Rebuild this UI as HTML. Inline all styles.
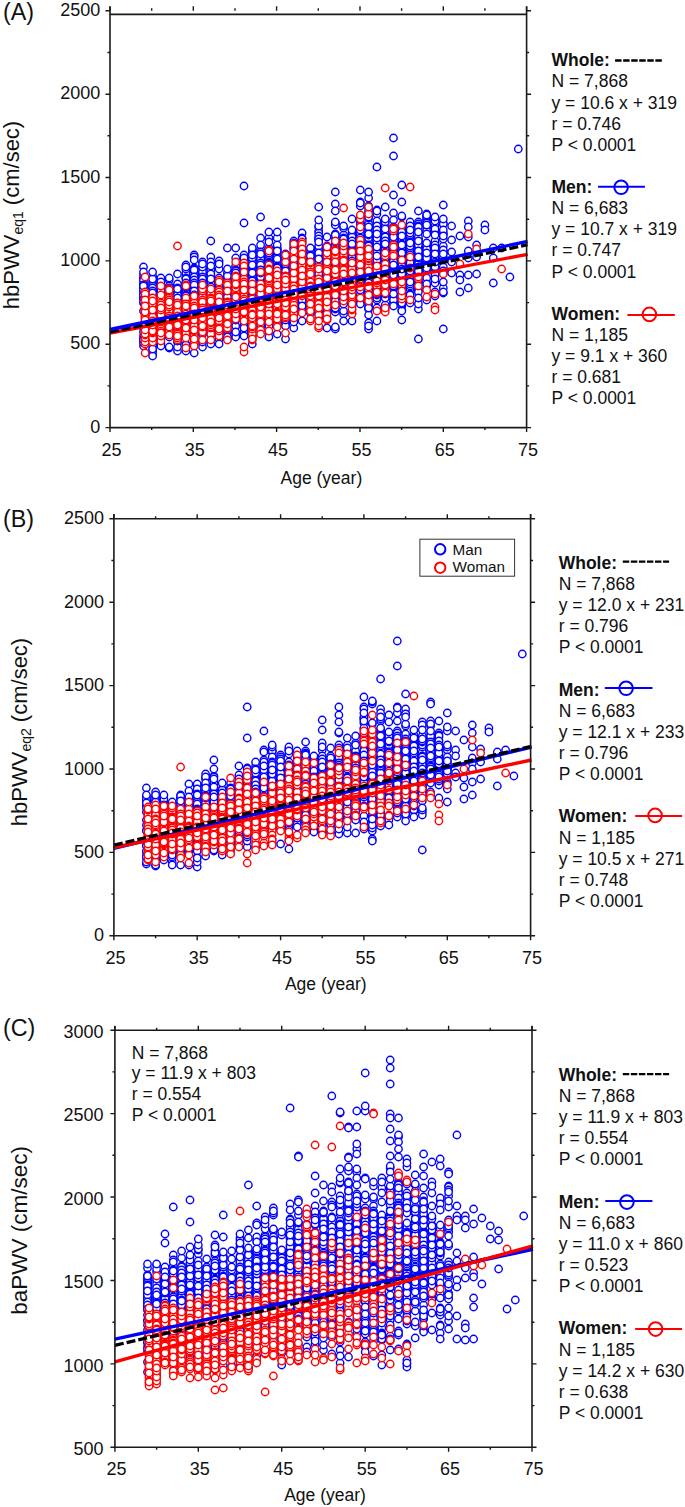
<!DOCTYPE html>
<html><head><meta charset="utf-8"><style>
html,body{margin:0;padding:0;background:#fff;}
svg{display:block;}
text{font-family:"Liberation Sans",sans-serif;fill:#111;}
.ax{fill:none;stroke:#1a1a1a;stroke-width:1.6;}
.tk{fill:none;stroke:#1a1a1a;stroke-width:1.4;}
.tl{font-size:18px;}
.xl{font-size:17.5px;}
.pl{font-size:23.3px;}
.yl{font-size:22px;}
.sub{font-size:14px;}
.lg{font-size:17.5px;}
.lgb{font-size:17.5px;font-weight:bold;}
.lgs{font-size:15.3px;}
.rl{stroke:#f00;stroke-width:3.4;fill:none}
.bl{stroke:#00f;stroke-width:3.4;fill:none}
.kl{stroke:#000;stroke-width:3.3;fill:none;stroke-dasharray:9 3}
.m circle,.w circle{fill:#fff;stroke-width:1.4;r:3.7px;}
.m circle{stroke:#00f} .w circle{stroke:#f00}
</style></head><body>
<svg width="685" height="1507" viewBox="0 0 685 1507">
<g id="plotA">
<g class="m"><g transform="translate(143.5)"><circle cy="336" r="3.7"/><circle cy="288" r="3.7"/><circle cy="267" r="3.7"/><circle cy="284" r="3.7"/><circle cy="291" r="3.7"/><circle cy="339" r="3.7"/><circle cy="298" r="3.7"/><circle cy="278" r="3.7"/><circle cy="275" r="3.7"/><circle cy="279" r="3.7"/><circle cy="283" r="3.7"/><circle cy="289" r="3.7"/><circle cy="280" r="3.7"/><circle cy="297" r="3.7"/><circle cy="346" r="3.7"/><circle cy="272" r="3.7"/><circle cy="328" r="3.7"/><circle cy="293" r="3.7"/><circle cy="285" r="3.7"/><circle cy="299" r="3.7"/><circle cy="341" r="3.7"/><circle cy="295" r="3.7"/><circle cy="303" r="3.7"/><circle cy="332" r="3.7"/><circle cy="343" r="3.7"/><circle cy="311" r="3.7"/><circle cy="327" r="3.7"/><circle cy="290" r="3.7"/><circle cy="340" r="3.7"/><circle cy="286" r="3.7"/><circle cy="302" r="3.7"/></g><g transform="translate(152.6)"><circle cy="339" r="3.7"/><circle cy="287" r="3.7"/><circle cy="350" r="3.7"/><circle cy="289" r="3.7"/><circle cy="290" r="3.7"/><circle cy="341" r="3.7"/><circle cy="282" r="3.7"/><circle cy="315" r="3.7"/><circle cy="345" r="3.7"/><circle cy="284" r="3.7"/><circle cy="292" r="3.7"/><circle cy="300" r="3.7"/><circle cy="319" r="3.7"/><circle cy="286" r="3.7"/><circle cy="346" r="3.7"/><circle cy="335" r="3.7"/><circle cy="354" r="3.7"/><circle cy="313" r="3.7"/><circle cy="288" r="3.7"/><circle cy="295" r="3.7"/><circle cy="277" r="3.7"/><circle cy="307" r="3.7"/><circle cy="276" r="3.7"/><circle cy="279" r="3.7"/><circle cy="351" r="3.7"/><circle cy="314" r="3.7"/><circle cy="291" r="3.7"/><circle cy="312" r="3.7"/><circle cy="309" r="3.7"/><circle cy="340" r="3.7"/><circle cy="356" r="3.7"/><circle cy="349" r="3.7"/><circle cy="297" r="3.7"/><circle cy="299" r="3.7"/><circle cy="329" r="3.7"/><circle cy="293" r="3.7"/><circle cy="302" r="3.7"/><circle cy="311" r="3.7"/><circle cy="272" r="3.7"/></g><g transform="translate(160.9)"><circle cy="293" r="3.7"/><circle cy="343" r="3.7"/><circle cy="338" r="3.7"/><circle cy="289" r="3.7"/><circle cy="311" r="3.7"/><circle cy="345" r="3.7"/><circle cy="334" r="3.7"/><circle cy="292" r="3.7"/><circle cy="284" r="3.7"/><circle cy="300" r="3.7"/><circle cy="335" r="3.7"/><circle cy="313" r="3.7"/><circle cy="297" r="3.7"/><circle cy="346" r="3.7"/><circle cy="290" r="3.7"/><circle cy="287" r="3.7"/><circle cy="329" r="3.7"/><circle cy="294" r="3.7"/><circle cy="320" r="3.7"/><circle cy="288" r="3.7"/><circle cy="291" r="3.7"/><circle cy="318" r="3.7"/><circle cy="323" r="3.7"/><circle cy="278" r="3.7"/><circle cy="316" r="3.7"/><circle cy="330" r="3.7"/><circle cy="298" r="3.7"/><circle cy="282" r="3.7"/><circle cy="302" r="3.7"/><circle cy="304" r="3.7"/></g><g transform="translate(169.2)"><circle cy="348" r="3.7"/><circle cy="280" r="3.7"/><circle cy="313" r="3.7"/><circle cy="292" r="3.7"/><circle cy="333" r="3.7"/><circle cy="287" r="3.7"/><circle cy="296" r="3.7"/><circle cy="304" r="3.7"/><circle cy="286" r="3.7"/><circle cy="337" r="3.7"/><circle cy="331" r="3.7"/><circle cy="299" r="3.7"/><circle cy="329" r="3.7"/><circle cy="347" r="3.7"/><circle cy="294" r="3.7"/><circle cy="293" r="3.7"/><circle cy="324" r="3.7"/><circle cy="306" r="3.7"/><circle cy="288" r="3.7"/><circle cy="278" r="3.7"/><circle cy="309" r="3.7"/><circle cy="334" r="3.7"/><circle cy="328" r="3.7"/><circle cy="325" r="3.7"/><circle cy="330" r="3.7"/></g><g transform="translate(177.5)"><circle cy="293" r="3.7"/><circle cy="342" r="3.7"/><circle cy="351" r="3.7"/><circle cy="296" r="3.7"/><circle cy="306" r="3.7"/><circle cy="285" r="3.7"/><circle cy="335" r="3.7"/><circle cy="302" r="3.7"/><circle cy="317" r="3.7"/><circle cy="297" r="3.7"/><circle cy="284" r="3.7"/><circle cy="347" r="3.7"/><circle cy="294" r="3.7"/><circle cy="341" r="3.7"/><circle cy="328" r="3.7"/><circle cy="300" r="3.7"/><circle cy="288" r="3.7"/><circle cy="290" r="3.7"/><circle cy="339" r="3.7"/><circle cy="295" r="3.7"/><circle cy="289" r="3.7"/><circle cy="329" r="3.7"/><circle cy="274" r="3.7"/><circle cy="331" r="3.7"/><circle cy="301" r="3.7"/><circle cy="310" r="3.7"/><circle cy="298" r="3.7"/></g><g transform="translate(185.9)"><circle cy="277" r="3.7"/><circle cy="351" r="3.7"/><circle cy="294" r="3.7"/><circle cy="273" r="3.7"/><circle cy="278" r="3.7"/><circle cy="289" r="3.7"/><circle cy="284" r="3.7"/><circle cy="344" r="3.7"/><circle cy="291" r="3.7"/><circle cy="345" r="3.7"/><circle cy="292" r="3.7"/><circle cy="325" r="3.7"/><circle cy="323" r="3.7"/><circle cy="295" r="3.7"/><circle cy="282" r="3.7"/><circle cy="336" r="3.7"/><circle cy="279" r="3.7"/><circle cy="283" r="3.7"/><circle cy="269" r="3.7"/><circle cy="303" r="3.7"/><circle cy="324" r="3.7"/><circle cy="265" r="3.7"/><circle cy="297" r="3.7"/><circle cy="296" r="3.7"/><circle cy="316" r="3.7"/><circle cy="288" r="3.7"/><circle cy="299" r="3.7"/><circle cy="337" r="3.7"/><circle cy="302" r="3.7"/><circle cy="300" r="3.7"/><circle cy="287" r="3.7"/><circle cy="267" r="3.7"/></g><g transform="translate(194.2)"><circle cy="255" r="3.7"/><circle cy="309" r="3.7"/><circle cy="334" r="3.7"/><circle cy="341" r="3.7"/><circle cy="276" r="3.7"/><circle cy="286" r="3.7"/><circle cy="268" r="3.7"/><circle cy="279" r="3.7"/><circle cy="353" r="3.7"/><circle cy="327" r="3.7"/><circle cy="269" r="3.7"/><circle cy="325" r="3.7"/><circle cy="271" r="3.7"/><circle cy="270" r="3.7"/><circle cy="278" r="3.7"/><circle cy="290" r="3.7"/><circle cy="277" r="3.7"/><circle cy="284" r="3.7"/><circle cy="282" r="3.7"/><circle cy="321" r="3.7"/><circle cy="257" r="3.7"/><circle cy="297" r="3.7"/><circle cy="289" r="3.7"/><circle cy="294" r="3.7"/><circle cy="280" r="3.7"/><circle cy="287" r="3.7"/><circle cy="311" r="3.7"/><circle cy="299" r="3.7"/><circle cy="283" r="3.7"/><circle cy="332" r="3.7"/><circle cy="344" r="3.7"/><circle cy="324" r="3.7"/><circle cy="338" r="3.7"/><circle cy="288" r="3.7"/><circle cy="292" r="3.7"/><circle cy="260" r="3.7"/><circle cy="285" r="3.7"/><circle cy="293" r="3.7"/><circle cy="301" r="3.7"/><circle cy="335" r="3.7"/><circle cy="323" r="3.7"/><circle cy="291" r="3.7"/><circle cy="310" r="3.7"/><circle cy="300" r="3.7"/><circle cy="295" r="3.7"/></g><g transform="translate(202.5)"><circle cy="274" r="3.7"/><circle cy="280" r="3.7"/><circle cy="331" r="3.7"/><circle cy="268" r="3.7"/><circle cy="275" r="3.7"/><circle cy="262" r="3.7"/><circle cy="305" r="3.7"/><circle cy="286" r="3.7"/><circle cy="324" r="3.7"/><circle cy="314" r="3.7"/><circle cy="347" r="3.7"/><circle cy="315" r="3.7"/><circle cy="284" r="3.7"/><circle cy="306" r="3.7"/><circle cy="287" r="3.7"/><circle cy="276" r="3.7"/><circle cy="334" r="3.7"/><circle cy="278" r="3.7"/><circle cy="273" r="3.7"/><circle cy="325" r="3.7"/><circle cy="282" r="3.7"/><circle cy="272" r="3.7"/><circle cy="301" r="3.7"/><circle cy="288" r="3.7"/><circle cy="277" r="3.7"/><circle cy="281" r="3.7"/><circle cy="342" r="3.7"/><circle cy="279" r="3.7"/><circle cy="267" r="3.7"/><circle cy="317" r="3.7"/><circle cy="328" r="3.7"/><circle cy="283" r="3.7"/><circle cy="296" r="3.7"/><circle cy="293" r="3.7"/><circle cy="264" r="3.7"/><circle cy="290" r="3.7"/><circle cy="294" r="3.7"/><circle cy="292" r="3.7"/><circle cy="295" r="3.7"/></g><g transform="translate(210.8)"><circle cy="273" r="3.7"/><circle cy="275" r="3.7"/><circle cy="341" r="3.7"/><circle cy="305" r="3.7"/><circle cy="269" r="3.7"/><circle cy="335" r="3.7"/><circle cy="331" r="3.7"/><circle cy="284" r="3.7"/><circle cy="276" r="3.7"/><circle cy="278" r="3.7"/><circle cy="303" r="3.7"/><circle cy="290" r="3.7"/><circle cy="285" r="3.7"/><circle cy="292" r="3.7"/><circle cy="270" r="3.7"/><circle cy="257" r="3.7"/><circle cy="281" r="3.7"/><circle cy="282" r="3.7"/><circle cy="304" r="3.7"/><circle cy="307" r="3.7"/><circle cy="326" r="3.7"/><circle cy="344" r="3.7"/><circle cy="332" r="3.7"/><circle cy="329" r="3.7"/><circle cy="297" r="3.7"/><circle cy="330" r="3.7"/><circle cy="277" r="3.7"/><circle cy="286" r="3.7"/><circle cy="294" r="3.7"/><circle cy="262" r="3.7"/><circle cy="274" r="3.7"/><circle cy="291" r="3.7"/><circle cy="288" r="3.7"/><circle cy="320" r="3.7"/><circle cy="283" r="3.7"/><circle cy="266" r="3.7"/><circle cy="306" r="3.7"/><circle cy="317" r="3.7"/><circle cy="279" r="3.7"/><circle cy="287" r="3.7"/><circle cy="241" r="3.7"/></g><g transform="translate(219.1)"><circle cy="339" r="3.7"/><circle cy="278" r="3.7"/><circle cy="310" r="3.7"/><circle cy="283" r="3.7"/><circle cy="281" r="3.7"/><circle cy="344" r="3.7"/><circle cy="299" r="3.7"/><circle cy="296" r="3.7"/><circle cy="306" r="3.7"/><circle cy="269" r="3.7"/><circle cy="293" r="3.7"/><circle cy="300" r="3.7"/><circle cy="320" r="3.7"/><circle cy="261" r="3.7"/><circle cy="313" r="3.7"/><circle cy="264" r="3.7"/><circle cy="285" r="3.7"/><circle cy="291" r="3.7"/><circle cy="334" r="3.7"/><circle cy="289" r="3.7"/><circle cy="330" r="3.7"/><circle cy="319" r="3.7"/><circle cy="286" r="3.7"/><circle cy="325" r="3.7"/><circle cy="287" r="3.7"/><circle cy="294" r="3.7"/><circle cy="284" r="3.7"/><circle cy="315" r="3.7"/><circle cy="307" r="3.7"/><circle cy="327" r="3.7"/></g><g transform="translate(227.4)"><circle cy="326" r="3.7"/><circle cy="277" r="3.7"/><circle cy="287" r="3.7"/><circle cy="280" r="3.7"/><circle cy="292" r="3.7"/><circle cy="301" r="3.7"/><circle cy="294" r="3.7"/><circle cy="282" r="3.7"/><circle cy="281" r="3.7"/><circle cy="289" r="3.7"/><circle cy="333" r="3.7"/><circle cy="273" r="3.7"/><circle cy="296" r="3.7"/><circle cy="339" r="3.7"/><circle cy="276" r="3.7"/><circle cy="290" r="3.7"/><circle cy="323" r="3.7"/><circle cy="325" r="3.7"/><circle cy="269" r="3.7"/><circle cy="299" r="3.7"/><circle cy="332" r="3.7"/><circle cy="330" r="3.7"/><circle cy="337" r="3.7"/><circle cy="295" r="3.7"/><circle cy="304" r="3.7"/><circle cy="293" r="3.7"/><circle cy="286" r="3.7"/><circle cy="298" r="3.7"/><circle cy="300" r="3.7"/><circle cy="297" r="3.7"/><circle cy="248" r="3.7"/></g><g transform="translate(235.7)"><circle cy="267" r="3.7"/><circle cy="312" r="3.7"/><circle cy="272" r="3.7"/><circle cy="282" r="3.7"/><circle cy="311" r="3.7"/><circle cy="266" r="3.7"/><circle cy="336" r="3.7"/><circle cy="281" r="3.7"/><circle cy="294" r="3.7"/><circle cy="337" r="3.7"/><circle cy="279" r="3.7"/><circle cy="270" r="3.7"/><circle cy="274" r="3.7"/><circle cy="326" r="3.7"/><circle cy="286" r="3.7"/><circle cy="317" r="3.7"/><circle cy="320" r="3.7"/><circle cy="299" r="3.7"/><circle cy="258" r="3.7"/><circle cy="271" r="3.7"/><circle cy="315" r="3.7"/><circle cy="283" r="3.7"/><circle cy="307" r="3.7"/><circle cy="316" r="3.7"/><circle cy="278" r="3.7"/><circle cy="287" r="3.7"/><circle cy="289" r="3.7"/><circle cy="332" r="3.7"/><circle cy="273" r="3.7"/><circle cy="310" r="3.7"/><circle cy="248" r="3.7"/></g><g transform="translate(244)"><circle cy="276" r="3.7"/><circle cy="327" r="3.7"/><circle cy="270" r="3.7"/><circle cy="306" r="3.7"/><circle cy="334" r="3.7"/><circle cy="315" r="3.7"/><circle cy="316" r="3.7"/><circle cy="335" r="3.7"/><circle cy="324" r="3.7"/><circle cy="267" r="3.7"/><circle cy="255" r="3.7"/><circle cy="331" r="3.7"/><circle cy="283" r="3.7"/><circle cy="288" r="3.7"/><circle cy="261" r="3.7"/><circle cy="264" r="3.7"/><circle cy="333" r="3.7"/><circle cy="319" r="3.7"/><circle cy="275" r="3.7"/><circle cy="281" r="3.7"/><circle cy="268" r="3.7"/><circle cy="287" r="3.7"/><circle cy="303" r="3.7"/><circle cy="278" r="3.7"/><circle cy="265" r="3.7"/><circle cy="305" r="3.7"/><circle cy="311" r="3.7"/><circle cy="292" r="3.7"/><circle cy="273" r="3.7"/><circle cy="326" r="3.7"/><circle cy="274" r="3.7"/><circle cy="295" r="3.7"/><circle cy="318" r="3.7"/><circle cy="328" r="3.7"/><circle cy="314" r="3.7"/><circle cy="320" r="3.7"/><circle cy="336" r="3.7"/><circle cy="258" r="3.7"/><circle cy="310" r="3.7"/><circle cy="186" r="3.7"/><circle cy="223" r="3.7"/></g><g transform="translate(252.3)"><circle cy="264" r="3.7"/><circle cy="277" r="3.7"/><circle cy="268" r="3.7"/><circle cy="322" r="3.7"/><circle cy="287" r="3.7"/><circle cy="261" r="3.7"/><circle cy="332" r="3.7"/><circle cy="267" r="3.7"/><circle cy="279" r="3.7"/><circle cy="319" r="3.7"/><circle cy="344" r="3.7"/><circle cy="271" r="3.7"/><circle cy="288" r="3.7"/><circle cy="270" r="3.7"/><circle cy="312" r="3.7"/><circle cy="250" r="3.7"/><circle cy="262" r="3.7"/><circle cy="258" r="3.7"/><circle cy="253" r="3.7"/><circle cy="290" r="3.7"/><circle cy="275" r="3.7"/><circle cy="276" r="3.7"/><circle cy="283" r="3.7"/><circle cy="269" r="3.7"/><circle cy="248" r="3.7"/><circle cy="336" r="3.7"/><circle cy="280" r="3.7"/><circle cy="301" r="3.7"/><circle cy="272" r="3.7"/><circle cy="300" r="3.7"/><circle cy="293" r="3.7"/><circle cy="296" r="3.7"/><circle cy="266" r="3.7"/><circle cy="273" r="3.7"/><circle cy="285" r="3.7"/><circle cy="255" r="3.7"/><circle cy="298" r="3.7"/><circle cy="295" r="3.7"/><circle cy="282" r="3.7"/><circle cy="281" r="3.7"/><circle cy="286" r="3.7"/><circle cy="265" r="3.7"/><circle cy="289" r="3.7"/><circle cy="294" r="3.7"/><circle cy="292" r="3.7"/><circle cy="305" r="3.7"/><circle cy="297" r="3.7"/></g><g transform="translate(260.6)"><circle cy="328" r="3.7"/><circle cy="283" r="3.7"/><circle cy="260" r="3.7"/><circle cy="318" r="3.7"/><circle cy="319" r="3.7"/><circle cy="253" r="3.7"/><circle cy="249" r="3.7"/><circle cy="304" r="3.7"/><circle cy="279" r="3.7"/><circle cy="317" r="3.7"/><circle cy="238" r="3.7"/><circle cy="301" r="3.7"/><circle cy="258" r="3.7"/><circle cy="245" r="3.7"/><circle cy="323" r="3.7"/><circle cy="324" r="3.7"/><circle cy="321" r="3.7"/><circle cy="286" r="3.7"/><circle cy="266" r="3.7"/><circle cy="281" r="3.7"/><circle cy="268" r="3.7"/><circle cy="252" r="3.7"/><circle cy="269" r="3.7"/><circle cy="280" r="3.7"/><circle cy="282" r="3.7"/><circle cy="278" r="3.7"/><circle cy="256" r="3.7"/><circle cy="271" r="3.7"/><circle cy="325" r="3.7"/><circle cy="287" r="3.7"/><circle cy="274" r="3.7"/><circle cy="259" r="3.7"/><circle cy="276" r="3.7"/><circle cy="277" r="3.7"/><circle cy="263" r="3.7"/><circle cy="265" r="3.7"/><circle cy="285" r="3.7"/><circle cy="270" r="3.7"/><circle cy="254" r="3.7"/><circle cy="291" r="3.7"/><circle cy="290" r="3.7"/><circle cy="273" r="3.7"/><circle cy="217" r="3.7"/></g><g transform="translate(268.9)"><circle cy="316" r="3.7"/><circle cy="248" r="3.7"/><circle cy="267" r="3.7"/><circle cy="259" r="3.7"/><circle cy="282" r="3.7"/><circle cy="255" r="3.7"/><circle cy="239" r="3.7"/><circle cy="332" r="3.7"/><circle cy="271" r="3.7"/><circle cy="337" r="3.7"/><circle cy="257" r="3.7"/><circle cy="254" r="3.7"/><circle cy="293" r="3.7"/><circle cy="308" r="3.7"/><circle cy="312" r="3.7"/><circle cy="238" r="3.7"/><circle cy="313" r="3.7"/><circle cy="324" r="3.7"/><circle cy="258" r="3.7"/><circle cy="260" r="3.7"/><circle cy="262" r="3.7"/><circle cy="301" r="3.7"/><circle cy="263" r="3.7"/><circle cy="295" r="3.7"/><circle cy="242" r="3.7"/><circle cy="274" r="3.7"/><circle cy="276" r="3.7"/><circle cy="266" r="3.7"/><circle cy="321" r="3.7"/><circle cy="232" r="3.7"/><circle cy="288" r="3.7"/><circle cy="296" r="3.7"/><circle cy="272" r="3.7"/><circle cy="253" r="3.7"/><circle cy="289" r="3.7"/><circle cy="268" r="3.7"/><circle cy="294" r="3.7"/><circle cy="311" r="3.7"/><circle cy="291" r="3.7"/><circle cy="307" r="3.7"/><circle cy="326" r="3.7"/><circle cy="264" r="3.7"/></g><g transform="translate(277.2)"><circle cy="252" r="3.7"/><circle cy="322" r="3.7"/><circle cy="276" r="3.7"/><circle cy="255" r="3.7"/><circle cy="262" r="3.7"/><circle cy="238" r="3.7"/><circle cy="309" r="3.7"/><circle cy="274" r="3.7"/><circle cy="279" r="3.7"/><circle cy="258" r="3.7"/><circle cy="249" r="3.7"/><circle cy="283" r="3.7"/><circle cy="298" r="3.7"/><circle cy="286" r="3.7"/><circle cy="264" r="3.7"/><circle cy="261" r="3.7"/><circle cy="254" r="3.7"/><circle cy="293" r="3.7"/><circle cy="257" r="3.7"/><circle cy="248" r="3.7"/><circle cy="260" r="3.7"/><circle cy="277" r="3.7"/><circle cy="263" r="3.7"/><circle cy="259" r="3.7"/><circle cy="278" r="3.7"/><circle cy="307" r="3.7"/><circle cy="250" r="3.7"/><circle cy="245" r="3.7"/><circle cy="272" r="3.7"/><circle cy="232" r="3.7"/><circle cy="310" r="3.7"/><circle cy="334" r="3.7"/><circle cy="292" r="3.7"/><circle cy="318" r="3.7"/><circle cy="273" r="3.7"/><circle cy="266" r="3.7"/><circle cy="251" r="3.7"/><circle cy="267" r="3.7"/><circle cy="281" r="3.7"/><circle cy="270" r="3.7"/><circle cy="269" r="3.7"/><circle cy="268" r="3.7"/><circle cy="284" r="3.7"/></g><g transform="translate(285.5)"><circle cy="267" r="3.7"/><circle cy="305" r="3.7"/><circle cy="323" r="3.7"/><circle cy="261" r="3.7"/><circle cy="282" r="3.7"/><circle cy="273" r="3.7"/><circle cy="269" r="3.7"/><circle cy="316" r="3.7"/><circle cy="325" r="3.7"/><circle cy="322" r="3.7"/><circle cy="326" r="3.7"/><circle cy="254" r="3.7"/><circle cy="256" r="3.7"/><circle cy="292" r="3.7"/><circle cy="263" r="3.7"/><circle cy="272" r="3.7"/><circle cy="301" r="3.7"/><circle cy="259" r="3.7"/><circle cy="275" r="3.7"/><circle cy="293" r="3.7"/><circle cy="268" r="3.7"/><circle cy="278" r="3.7"/><circle cy="287" r="3.7"/><circle cy="266" r="3.7"/><circle cy="339" r="3.7"/><circle cy="291" r="3.7"/><circle cy="297" r="3.7"/><circle cy="265" r="3.7"/><circle cy="270" r="3.7"/><circle cy="264" r="3.7"/><circle cy="271" r="3.7"/><circle cy="298" r="3.7"/><circle cy="320" r="3.7"/><circle cy="288" r="3.7"/><circle cy="286" r="3.7"/><circle cy="294" r="3.7"/><circle cy="223" r="3.7"/></g><g transform="translate(293.8)"><circle cy="313" r="3.7"/><circle cy="241" r="3.7"/><circle cy="255" r="3.7"/><circle cy="310" r="3.7"/><circle cy="243" r="3.7"/><circle cy="263" r="3.7"/><circle cy="292" r="3.7"/><circle cy="307" r="3.7"/><circle cy="312" r="3.7"/><circle cy="297" r="3.7"/><circle cy="269" r="3.7"/><circle cy="249" r="3.7"/><circle cy="303" r="3.7"/><circle cy="248" r="3.7"/><circle cy="276" r="3.7"/><circle cy="253" r="3.7"/><circle cy="267" r="3.7"/><circle cy="308" r="3.7"/><circle cy="320" r="3.7"/><circle cy="271" r="3.7"/><circle cy="258" r="3.7"/><circle cy="304" r="3.7"/><circle cy="299" r="3.7"/><circle cy="300" r="3.7"/><circle cy="257" r="3.7"/><circle cy="296" r="3.7"/><circle cy="321" r="3.7"/><circle cy="275" r="3.7"/><circle cy="284" r="3.7"/><circle cy="274" r="3.7"/><circle cy="246" r="3.7"/><circle cy="270" r="3.7"/><circle cy="287" r="3.7"/><circle cy="301" r="3.7"/><circle cy="328" r="3.7"/><circle cy="322" r="3.7"/><circle cy="317" r="3.7"/><circle cy="265" r="3.7"/><circle cy="264" r="3.7"/></g><g transform="translate(302.1)"><circle cy="295" r="3.7"/><circle cy="308" r="3.7"/><circle cy="267" r="3.7"/><circle cy="241" r="3.7"/><circle cy="305" r="3.7"/><circle cy="277" r="3.7"/><circle cy="292" r="3.7"/><circle cy="250" r="3.7"/><circle cy="301" r="3.7"/><circle cy="248" r="3.7"/><circle cy="264" r="3.7"/><circle cy="304" r="3.7"/><circle cy="272" r="3.7"/><circle cy="311" r="3.7"/><circle cy="259" r="3.7"/><circle cy="262" r="3.7"/><circle cy="293" r="3.7"/><circle cy="268" r="3.7"/><circle cy="302" r="3.7"/><circle cy="233" r="3.7"/><circle cy="281" r="3.7"/><circle cy="238" r="3.7"/><circle cy="252" r="3.7"/><circle cy="298" r="3.7"/><circle cy="260" r="3.7"/><circle cy="300" r="3.7"/><circle cy="280" r="3.7"/><circle cy="247" r="3.7"/><circle cy="289" r="3.7"/><circle cy="321" r="3.7"/><circle cy="239" r="3.7"/><circle cy="285" r="3.7"/><circle cy="256" r="3.7"/><circle cy="269" r="3.7"/><circle cy="306" r="3.7"/><circle cy="263" r="3.7"/><circle cy="294" r="3.7"/><circle cy="271" r="3.7"/><circle cy="275" r="3.7"/><circle cy="274" r="3.7"/></g><g transform="translate(310.4)"><circle cy="260" r="3.7"/><circle cy="254" r="3.7"/><circle cy="268" r="3.7"/><circle cy="313" r="3.7"/><circle cy="251" r="3.7"/><circle cy="273" r="3.7"/><circle cy="249" r="3.7"/><circle cy="298" r="3.7"/><circle cy="257" r="3.7"/><circle cy="302" r="3.7"/><circle cy="253" r="3.7"/><circle cy="292" r="3.7"/><circle cy="281" r="3.7"/><circle cy="252" r="3.7"/><circle cy="248" r="3.7"/><circle cy="288" r="3.7"/><circle cy="297" r="3.7"/><circle cy="295" r="3.7"/><circle cy="306" r="3.7"/><circle cy="307" r="3.7"/><circle cy="309" r="3.7"/><circle cy="275" r="3.7"/><circle cy="310" r="3.7"/><circle cy="255" r="3.7"/><circle cy="265" r="3.7"/><circle cy="277" r="3.7"/><circle cy="289" r="3.7"/><circle cy="305" r="3.7"/><circle cy="264" r="3.7"/><circle cy="267" r="3.7"/><circle cy="301" r="3.7"/><circle cy="256" r="3.7"/><circle cy="279" r="3.7"/><circle cy="280" r="3.7"/><circle cy="271" r="3.7"/><circle cy="300" r="3.7"/><circle cy="283" r="3.7"/></g><g transform="translate(318.7)"><circle cy="227" r="3.7"/><circle cy="251" r="3.7"/><circle cy="273" r="3.7"/><circle cy="268" r="3.7"/><circle cy="231" r="3.7"/><circle cy="271" r="3.7"/><circle cy="233" r="3.7"/><circle cy="248" r="3.7"/><circle cy="318" r="3.7"/><circle cy="249" r="3.7"/><circle cy="226" r="3.7"/><circle cy="301" r="3.7"/><circle cy="310" r="3.7"/><circle cy="238" r="3.7"/><circle cy="293" r="3.7"/><circle cy="236" r="3.7"/><circle cy="314" r="3.7"/><circle cy="240" r="3.7"/><circle cy="252" r="3.7"/><circle cy="278" r="3.7"/><circle cy="263" r="3.7"/><circle cy="270" r="3.7"/><circle cy="292" r="3.7"/><circle cy="307" r="3.7"/><circle cy="239" r="3.7"/><circle cy="286" r="3.7"/><circle cy="265" r="3.7"/><circle cy="255" r="3.7"/><circle cy="247" r="3.7"/><circle cy="250" r="3.7"/><circle cy="289" r="3.7"/><circle cy="246" r="3.7"/><circle cy="312" r="3.7"/><circle cy="298" r="3.7"/><circle cy="280" r="3.7"/><circle cy="258" r="3.7"/><circle cy="261" r="3.7"/><circle cy="242" r="3.7"/><circle cy="313" r="3.7"/><circle cy="277" r="3.7"/><circle cy="276" r="3.7"/><circle cy="266" r="3.7"/><circle cy="253" r="3.7"/><circle cy="275" r="3.7"/><circle cy="288" r="3.7"/><circle cy="272" r="3.7"/><circle cy="262" r="3.7"/><circle cy="294" r="3.7"/><circle cy="259" r="3.7"/><circle cy="303" r="3.7"/><circle cy="311" r="3.7"/><circle cy="274" r="3.7"/><circle cy="207" r="3.7"/><circle cy="220" r="3.7"/></g><g transform="translate(327)"><circle cy="318" r="3.7"/><circle cy="261" r="3.7"/><circle cy="263" r="3.7"/><circle cy="328" r="3.7"/><circle cy="264" r="3.7"/><circle cy="300" r="3.7"/><circle cy="266" r="3.7"/><circle cy="312" r="3.7"/><circle cy="310" r="3.7"/><circle cy="255" r="3.7"/><circle cy="237" r="3.7"/><circle cy="265" r="3.7"/><circle cy="257" r="3.7"/><circle cy="274" r="3.7"/><circle cy="250" r="3.7"/><circle cy="305" r="3.7"/><circle cy="293" r="3.7"/><circle cy="287" r="3.7"/><circle cy="275" r="3.7"/><circle cy="259" r="3.7"/><circle cy="288" r="3.7"/><circle cy="317" r="3.7"/><circle cy="246" r="3.7"/><circle cy="254" r="3.7"/><circle cy="281" r="3.7"/><circle cy="308" r="3.7"/><circle cy="285" r="3.7"/><circle cy="260" r="3.7"/><circle cy="309" r="3.7"/><circle cy="279" r="3.7"/><circle cy="276" r="3.7"/><circle cy="289" r="3.7"/><circle cy="258" r="3.7"/><circle cy="294" r="3.7"/><circle cy="280" r="3.7"/><circle cy="277" r="3.7"/><circle cy="268" r="3.7"/><circle cy="292" r="3.7"/><circle cy="306" r="3.7"/><circle cy="270" r="3.7"/></g><g transform="translate(335.3)"><circle cy="239" r="3.7"/><circle cy="329" r="3.7"/><circle cy="312" r="3.7"/><circle cy="264" r="3.7"/><circle cy="309" r="3.7"/><circle cy="288" r="3.7"/><circle cy="261" r="3.7"/><circle cy="303" r="3.7"/><circle cy="304" r="3.7"/><circle cy="306" r="3.7"/><circle cy="293" r="3.7"/><circle cy="292" r="3.7"/><circle cy="224" r="3.7"/><circle cy="234" r="3.7"/><circle cy="294" r="3.7"/><circle cy="308" r="3.7"/><circle cy="279" r="3.7"/><circle cy="287" r="3.7"/><circle cy="327" r="3.7"/><circle cy="244" r="3.7"/><circle cy="266" r="3.7"/><circle cy="298" r="3.7"/><circle cy="273" r="3.7"/><circle cy="267" r="3.7"/><circle cy="276" r="3.7"/><circle cy="275" r="3.7"/><circle cy="253" r="3.7"/><circle cy="297" r="3.7"/><circle cy="223" r="3.7"/><circle cy="246" r="3.7"/><circle cy="278" r="3.7"/><circle cy="225" r="3.7"/><circle cy="245" r="3.7"/><circle cy="256" r="3.7"/><circle cy="290" r="3.7"/><circle cy="283" r="3.7"/><circle cy="240" r="3.7"/><circle cy="281" r="3.7"/><circle cy="299" r="3.7"/><circle cy="259" r="3.7"/><circle cy="289" r="3.7"/><circle cy="265" r="3.7"/><circle cy="235" r="3.7"/><circle cy="242" r="3.7"/><circle cy="291" r="3.7"/><circle cy="296" r="3.7"/><circle cy="301" r="3.7"/><circle cy="263" r="3.7"/><circle cy="260" r="3.7"/><circle cy="277" r="3.7"/><circle cy="192" r="3.7"/><circle cy="204" r="3.7"/><circle cy="211" r="3.7"/><circle cy="222" r="3.7"/></g><g transform="translate(343.6)"><circle cy="314" r="3.7"/><circle cy="300" r="3.7"/><circle cy="258" r="3.7"/><circle cy="252" r="3.7"/><circle cy="240" r="3.7"/><circle cy="248" r="3.7"/><circle cy="272" r="3.7"/><circle cy="292" r="3.7"/><circle cy="296" r="3.7"/><circle cy="242" r="3.7"/><circle cy="235" r="3.7"/><circle cy="257" r="3.7"/><circle cy="284" r="3.7"/><circle cy="302" r="3.7"/><circle cy="228" r="3.7"/><circle cy="303" r="3.7"/><circle cy="321" r="3.7"/><circle cy="253" r="3.7"/><circle cy="311" r="3.7"/><circle cy="276" r="3.7"/><circle cy="238" r="3.7"/><circle cy="287" r="3.7"/><circle cy="244" r="3.7"/><circle cy="289" r="3.7"/><circle cy="285" r="3.7"/><circle cy="281" r="3.7"/><circle cy="273" r="3.7"/><circle cy="249" r="3.7"/><circle cy="239" r="3.7"/><circle cy="264" r="3.7"/><circle cy="256" r="3.7"/><circle cy="266" r="3.7"/><circle cy="293" r="3.7"/><circle cy="286" r="3.7"/><circle cy="268" r="3.7"/><circle cy="226" r="3.7"/><circle cy="254" r="3.7"/><circle cy="263" r="3.7"/><circle cy="259" r="3.7"/><circle cy="262" r="3.7"/><circle cy="278" r="3.7"/><circle cy="247" r="3.7"/><circle cy="250" r="3.7"/><circle cy="271" r="3.7"/><circle cy="304" r="3.7"/></g><g transform="translate(352)"><circle cy="239" r="3.7"/><circle cy="242" r="3.7"/><circle cy="293" r="3.7"/><circle cy="262" r="3.7"/><circle cy="274" r="3.7"/><circle cy="219" r="3.7"/><circle cy="248" r="3.7"/><circle cy="272" r="3.7"/><circle cy="253" r="3.7"/><circle cy="313" r="3.7"/><circle cy="255" r="3.7"/><circle cy="259" r="3.7"/><circle cy="256" r="3.7"/><circle cy="266" r="3.7"/><circle cy="321" r="3.7"/><circle cy="233" r="3.7"/><circle cy="302" r="3.7"/><circle cy="234" r="3.7"/><circle cy="275" r="3.7"/><circle cy="268" r="3.7"/><circle cy="249" r="3.7"/><circle cy="246" r="3.7"/><circle cy="237" r="3.7"/><circle cy="284" r="3.7"/><circle cy="276" r="3.7"/><circle cy="241" r="3.7"/><circle cy="264" r="3.7"/><circle cy="267" r="3.7"/><circle cy="305" r="3.7"/><circle cy="285" r="3.7"/><circle cy="300" r="3.7"/><circle cy="294" r="3.7"/><circle cy="250" r="3.7"/><circle cy="247" r="3.7"/><circle cy="291" r="3.7"/><circle cy="245" r="3.7"/><circle cy="299" r="3.7"/><circle cy="270" r="3.7"/><circle cy="292" r="3.7"/><circle cy="289" r="3.7"/><circle cy="296" r="3.7"/><circle cy="244" r="3.7"/><circle cy="271" r="3.7"/><circle cy="265" r="3.7"/><circle cy="280" r="3.7"/><circle cy="278" r="3.7"/><circle cy="258" r="3.7"/><circle cy="230" r="3.7"/><circle cy="261" r="3.7"/><circle cy="251" r="3.7"/></g><g transform="translate(360.3)"><circle cy="301" r="3.7"/><circle cy="288" r="3.7"/><circle cy="233" r="3.7"/><circle cy="244" r="3.7"/><circle cy="280" r="3.7"/><circle cy="202" r="3.7"/><circle cy="270" r="3.7"/><circle cy="242" r="3.7"/><circle cy="231" r="3.7"/><circle cy="222" r="3.7"/><circle cy="268" r="3.7"/><circle cy="271" r="3.7"/><circle cy="284" r="3.7"/><circle cy="224" r="3.7"/><circle cy="297" r="3.7"/><circle cy="283" r="3.7"/><circle cy="226" r="3.7"/><circle cy="229" r="3.7"/><circle cy="277" r="3.7"/><circle cy="243" r="3.7"/><circle cy="266" r="3.7"/><circle cy="260" r="3.7"/><circle cy="223" r="3.7"/><circle cy="241" r="3.7"/><circle cy="264" r="3.7"/><circle cy="273" r="3.7"/><circle cy="281" r="3.7"/><circle cy="206" r="3.7"/><circle cy="286" r="3.7"/><circle cy="295" r="3.7"/><circle cy="263" r="3.7"/><circle cy="225" r="3.7"/><circle cy="236" r="3.7"/><circle cy="203" r="3.7"/><circle cy="282" r="3.7"/><circle cy="235" r="3.7"/><circle cy="234" r="3.7"/><circle cy="253" r="3.7"/><circle cy="228" r="3.7"/><circle cy="250" r="3.7"/><circle cy="302" r="3.7"/><circle cy="254" r="3.7"/><circle cy="276" r="3.7"/><circle cy="300" r="3.7"/><circle cy="304" r="3.7"/><circle cy="289" r="3.7"/><circle cy="258" r="3.7"/><circle cy="285" r="3.7"/><circle cy="255" r="3.7"/><circle cy="278" r="3.7"/><circle cy="247" r="3.7"/><circle cy="249" r="3.7"/><circle cy="290" r="3.7"/><circle cy="261" r="3.7"/><circle cy="252" r="3.7"/><circle cy="238" r="3.7"/><circle cy="218" r="3.7"/><circle cy="267" r="3.7"/><circle cy="269" r="3.7"/><circle cy="230" r="3.7"/><circle cy="190" r="3.7"/></g><g transform="translate(368.6)"><circle cy="247" r="3.7"/><circle cy="288" r="3.7"/><circle cy="323" r="3.7"/><circle cy="213" r="3.7"/><circle cy="282" r="3.7"/><circle cy="242" r="3.7"/><circle cy="279" r="3.7"/><circle cy="309" r="3.7"/><circle cy="244" r="3.7"/><circle cy="304" r="3.7"/><circle cy="278" r="3.7"/><circle cy="277" r="3.7"/><circle cy="224" r="3.7"/><circle cy="329" r="3.7"/><circle cy="296" r="3.7"/><circle cy="206" r="3.7"/><circle cy="264" r="3.7"/><circle cy="252" r="3.7"/><circle cy="218" r="3.7"/><circle cy="236" r="3.7"/><circle cy="307" r="3.7"/><circle cy="208" r="3.7"/><circle cy="285" r="3.7"/><circle cy="299" r="3.7"/><circle cy="262" r="3.7"/><circle cy="215" r="3.7"/><circle cy="326" r="3.7"/><circle cy="211" r="3.7"/><circle cy="315" r="3.7"/><circle cy="274" r="3.7"/><circle cy="263" r="3.7"/><circle cy="265" r="3.7"/><circle cy="280" r="3.7"/><circle cy="308" r="3.7"/><circle cy="297" r="3.7"/><circle cy="292" r="3.7"/><circle cy="294" r="3.7"/><circle cy="273" r="3.7"/><circle cy="228" r="3.7"/><circle cy="268" r="3.7"/><circle cy="284" r="3.7"/><circle cy="251" r="3.7"/><circle cy="281" r="3.7"/><circle cy="217" r="3.7"/><circle cy="266" r="3.7"/><circle cy="240" r="3.7"/><circle cy="243" r="3.7"/><circle cy="233" r="3.7"/><circle cy="227" r="3.7"/><circle cy="241" r="3.7"/><circle cy="283" r="3.7"/><circle cy="272" r="3.7"/><circle cy="238" r="3.7"/><circle cy="275" r="3.7"/><circle cy="235" r="3.7"/><circle cy="269" r="3.7"/><circle cy="245" r="3.7"/><circle cy="198" r="3.7"/><circle cy="291" r="3.7"/><circle cy="248" r="3.7"/><circle cy="234" r="3.7"/><circle cy="246" r="3.7"/><circle cy="290" r="3.7"/><circle cy="192" r="3.7"/></g><g transform="translate(376.9)"><circle cy="214" r="3.7"/><circle cy="240" r="3.7"/><circle cy="225" r="3.7"/><circle cy="245" r="3.7"/><circle cy="280" r="3.7"/><circle cy="227" r="3.7"/><circle cy="210" r="3.7"/><circle cy="239" r="3.7"/><circle cy="297" r="3.7"/><circle cy="279" r="3.7"/><circle cy="321" r="3.7"/><circle cy="241" r="3.7"/><circle cy="308" r="3.7"/><circle cy="263" r="3.7"/><circle cy="264" r="3.7"/><circle cy="259" r="3.7"/><circle cy="243" r="3.7"/><circle cy="222" r="3.7"/><circle cy="221" r="3.7"/><circle cy="288" r="3.7"/><circle cy="228" r="3.7"/><circle cy="267" r="3.7"/><circle cy="232" r="3.7"/><circle cy="284" r="3.7"/><circle cy="268" r="3.7"/><circle cy="296" r="3.7"/><circle cy="265" r="3.7"/><circle cy="300" r="3.7"/><circle cy="298" r="3.7"/><circle cy="231" r="3.7"/><circle cy="254" r="3.7"/><circle cy="249" r="3.7"/><circle cy="211" r="3.7"/><circle cy="257" r="3.7"/><circle cy="252" r="3.7"/><circle cy="295" r="3.7"/><circle cy="275" r="3.7"/><circle cy="261" r="3.7"/><circle cy="260" r="3.7"/><circle cy="251" r="3.7"/><circle cy="291" r="3.7"/><circle cy="285" r="3.7"/><circle cy="233" r="3.7"/><circle cy="272" r="3.7"/><circle cy="226" r="3.7"/><circle cy="238" r="3.7"/><circle cy="230" r="3.7"/><circle cy="277" r="3.7"/><circle cy="255" r="3.7"/><circle cy="273" r="3.7"/><circle cy="294" r="3.7"/><circle cy="248" r="3.7"/><circle cy="234" r="3.7"/><circle cy="253" r="3.7"/><circle cy="256" r="3.7"/><circle cy="247" r="3.7"/><circle cy="167" r="3.7"/></g><g transform="translate(385.2)"><circle cy="274" r="3.7"/><circle cy="278" r="3.7"/><circle cy="297" r="3.7"/><circle cy="232" r="3.7"/><circle cy="284" r="3.7"/><circle cy="305" r="3.7"/><circle cy="233" r="3.7"/><circle cy="260" r="3.7"/><circle cy="246" r="3.7"/><circle cy="250" r="3.7"/><circle cy="309" r="3.7"/><circle cy="261" r="3.7"/><circle cy="298" r="3.7"/><circle cy="223" r="3.7"/><circle cy="271" r="3.7"/><circle cy="286" r="3.7"/><circle cy="283" r="3.7"/><circle cy="207" r="3.7"/><circle cy="279" r="3.7"/><circle cy="288" r="3.7"/><circle cy="235" r="3.7"/><circle cy="247" r="3.7"/><circle cy="240" r="3.7"/><circle cy="236" r="3.7"/><circle cy="234" r="3.7"/><circle cy="267" r="3.7"/><circle cy="231" r="3.7"/><circle cy="226" r="3.7"/><circle cy="255" r="3.7"/><circle cy="222" r="3.7"/><circle cy="252" r="3.7"/><circle cy="229" r="3.7"/><circle cy="242" r="3.7"/><circle cy="294" r="3.7"/><circle cy="239" r="3.7"/><circle cy="259" r="3.7"/><circle cy="270" r="3.7"/><circle cy="254" r="3.7"/><circle cy="238" r="3.7"/><circle cy="263" r="3.7"/><circle cy="265" r="3.7"/><circle cy="262" r="3.7"/><circle cy="249" r="3.7"/><circle cy="268" r="3.7"/><circle cy="243" r="3.7"/><circle cy="257" r="3.7"/><circle cy="251" r="3.7"/><circle cy="237" r="3.7"/><circle cy="273" r="3.7"/><circle cy="248" r="3.7"/><circle cy="245" r="3.7"/><circle cy="219" r="3.7"/><circle cy="241" r="3.7"/><circle cy="244" r="3.7"/><circle cy="287" r="3.7"/><circle cy="258" r="3.7"/><circle cy="266" r="3.7"/></g><g transform="translate(393.5)"><circle cy="248" r="3.7"/><circle cy="233" r="3.7"/><circle cy="232" r="3.7"/><circle cy="302" r="3.7"/><circle cy="303" r="3.7"/><circle cy="213" r="3.7"/><circle cy="260" r="3.7"/><circle cy="220" r="3.7"/><circle cy="288" r="3.7"/><circle cy="279" r="3.7"/><circle cy="295" r="3.7"/><circle cy="251" r="3.7"/><circle cy="274" r="3.7"/><circle cy="227" r="3.7"/><circle cy="287" r="3.7"/><circle cy="298" r="3.7"/><circle cy="280" r="3.7"/><circle cy="300" r="3.7"/><circle cy="246" r="3.7"/><circle cy="268" r="3.7"/><circle cy="238" r="3.7"/><circle cy="263" r="3.7"/><circle cy="283" r="3.7"/><circle cy="285" r="3.7"/><circle cy="242" r="3.7"/><circle cy="259" r="3.7"/><circle cy="270" r="3.7"/><circle cy="277" r="3.7"/><circle cy="273" r="3.7"/><circle cy="286" r="3.7"/><circle cy="294" r="3.7"/><circle cy="269" r="3.7"/><circle cy="241" r="3.7"/><circle cy="262" r="3.7"/><circle cy="264" r="3.7"/><circle cy="255" r="3.7"/><circle cy="250" r="3.7"/><circle cy="249" r="3.7"/><circle cy="261" r="3.7"/><circle cy="244" r="3.7"/><circle cy="267" r="3.7"/><circle cy="271" r="3.7"/><circle cy="252" r="3.7"/><circle cy="253" r="3.7"/><circle cy="237" r="3.7"/><circle cy="306" r="3.7"/><circle cy="265" r="3.7"/><circle cy="278" r="3.7"/><circle cy="272" r="3.7"/><circle cy="275" r="3.7"/><circle cy="138" r="3.7"/><circle cy="156" r="3.7"/><circle cy="195" r="3.7"/></g><g transform="translate(401.8)"><circle cy="306" r="3.7"/><circle cy="283" r="3.7"/><circle cy="264" r="3.7"/><circle cy="228" r="3.7"/><circle cy="249" r="3.7"/><circle cy="276" r="3.7"/><circle cy="256" r="3.7"/><circle cy="243" r="3.7"/><circle cy="231" r="3.7"/><circle cy="229" r="3.7"/><circle cy="258" r="3.7"/><circle cy="257" r="3.7"/><circle cy="234" r="3.7"/><circle cy="271" r="3.7"/><circle cy="287" r="3.7"/><circle cy="239" r="3.7"/><circle cy="250" r="3.7"/><circle cy="261" r="3.7"/><circle cy="275" r="3.7"/><circle cy="310" r="3.7"/><circle cy="263" r="3.7"/><circle cy="241" r="3.7"/><circle cy="233" r="3.7"/><circle cy="311" r="3.7"/><circle cy="202" r="3.7"/><circle cy="277" r="3.7"/><circle cy="304" r="3.7"/><circle cy="217" r="3.7"/><circle cy="303" r="3.7"/><circle cy="251" r="3.7"/><circle cy="289" r="3.7"/><circle cy="280" r="3.7"/><circle cy="288" r="3.7"/><circle cy="273" r="3.7"/><circle cy="244" r="3.7"/><circle cy="226" r="3.7"/><circle cy="235" r="3.7"/><circle cy="320" r="3.7"/><circle cy="270" r="3.7"/><circle cy="247" r="3.7"/><circle cy="290" r="3.7"/><circle cy="216" r="3.7"/><circle cy="248" r="3.7"/><circle cy="230" r="3.7"/><circle cy="255" r="3.7"/><circle cy="265" r="3.7"/><circle cy="254" r="3.7"/><circle cy="297" r="3.7"/><circle cy="232" r="3.7"/><circle cy="293" r="3.7"/><circle cy="252" r="3.7"/><circle cy="262" r="3.7"/><circle cy="253" r="3.7"/><circle cy="267" r="3.7"/><circle cy="274" r="3.7"/><circle cy="245" r="3.7"/><circle cy="266" r="3.7"/><circle cy="236" r="3.7"/><circle cy="269" r="3.7"/><circle cy="294" r="3.7"/><circle cy="185" r="3.7"/></g><g transform="translate(410.1)"><circle cy="269" r="3.7"/><circle cy="229" r="3.7"/><circle cy="228" r="3.7"/><circle cy="274" r="3.7"/><circle cy="254" r="3.7"/><circle cy="285" r="3.7"/><circle cy="250" r="3.7"/><circle cy="222" r="3.7"/><circle cy="278" r="3.7"/><circle cy="277" r="3.7"/><circle cy="272" r="3.7"/><circle cy="289" r="3.7"/><circle cy="270" r="3.7"/><circle cy="249" r="3.7"/><circle cy="275" r="3.7"/><circle cy="283" r="3.7"/><circle cy="259" r="3.7"/><circle cy="252" r="3.7"/><circle cy="294" r="3.7"/><circle cy="232" r="3.7"/><circle cy="295" r="3.7"/><circle cy="245" r="3.7"/><circle cy="238" r="3.7"/><circle cy="244" r="3.7"/><circle cy="237" r="3.7"/><circle cy="251" r="3.7"/><circle cy="264" r="3.7"/><circle cy="226" r="3.7"/><circle cy="256" r="3.7"/><circle cy="303" r="3.7"/><circle cy="265" r="3.7"/><circle cy="262" r="3.7"/><circle cy="280" r="3.7"/><circle cy="276" r="3.7"/><circle cy="235" r="3.7"/><circle cy="273" r="3.7"/><circle cy="233" r="3.7"/><circle cy="286" r="3.7"/><circle cy="242" r="3.7"/><circle cy="266" r="3.7"/><circle cy="253" r="3.7"/><circle cy="284" r="3.7"/><circle cy="246" r="3.7"/><circle cy="267" r="3.7"/><circle cy="230" r="3.7"/><circle cy="263" r="3.7"/><circle cy="243" r="3.7"/><circle cy="255" r="3.7"/><circle cy="271" r="3.7"/><circle cy="282" r="3.7"/></g><g transform="translate(418.4)"><circle cy="222" r="3.7"/><circle cy="240" r="3.7"/><circle cy="249" r="3.7"/><circle cy="253" r="3.7"/><circle cy="290" r="3.7"/><circle cy="309" r="3.7"/><circle cy="263" r="3.7"/><circle cy="304" r="3.7"/><circle cy="224" r="3.7"/><circle cy="274" r="3.7"/><circle cy="289" r="3.7"/><circle cy="284" r="3.7"/><circle cy="261" r="3.7"/><circle cy="292" r="3.7"/><circle cy="298" r="3.7"/><circle cy="268" r="3.7"/><circle cy="231" r="3.7"/><circle cy="278" r="3.7"/><circle cy="265" r="3.7"/><circle cy="262" r="3.7"/><circle cy="256" r="3.7"/><circle cy="270" r="3.7"/><circle cy="273" r="3.7"/><circle cy="269" r="3.7"/><circle cy="255" r="3.7"/><circle cy="276" r="3.7"/><circle cy="226" r="3.7"/><circle cy="242" r="3.7"/><circle cy="272" r="3.7"/><circle cy="259" r="3.7"/><circle cy="248" r="3.7"/><circle cy="211" r="3.7"/><circle cy="239" r="3.7"/><circle cy="237" r="3.7"/><circle cy="267" r="3.7"/><circle cy="260" r="3.7"/><circle cy="227" r="3.7"/><circle cy="266" r="3.7"/><circle cy="246" r="3.7"/><circle cy="282" r="3.7"/><circle cy="232" r="3.7"/><circle cy="281" r="3.7"/><circle cy="264" r="3.7"/><circle cy="280" r="3.7"/><circle cy="243" r="3.7"/><circle cy="271" r="3.7"/><circle cy="245" r="3.7"/><circle cy="252" r="3.7"/><circle cy="251" r="3.7"/><circle cy="241" r="3.7"/><circle cy="258" r="3.7"/><circle cy="257" r="3.7"/><circle cy="339" r="3.7"/></g><g transform="translate(426.7)"><circle cy="247" r="3.7"/><circle cy="251" r="3.7"/><circle cy="263" r="3.7"/><circle cy="261" r="3.7"/><circle cy="220" r="3.7"/><circle cy="270" r="3.7"/><circle cy="278" r="3.7"/><circle cy="262" r="3.7"/><circle cy="254" r="3.7"/><circle cy="224" r="3.7"/><circle cy="219" r="3.7"/><circle cy="217" r="3.7"/><circle cy="256" r="3.7"/><circle cy="250" r="3.7"/><circle cy="232" r="3.7"/><circle cy="252" r="3.7"/><circle cy="216" r="3.7"/><circle cy="223" r="3.7"/><circle cy="260" r="3.7"/><circle cy="248" r="3.7"/><circle cy="227" r="3.7"/><circle cy="286" r="3.7"/><circle cy="231" r="3.7"/><circle cy="284" r="3.7"/><circle cy="300" r="3.7"/><circle cy="258" r="3.7"/><circle cy="266" r="3.7"/><circle cy="214" r="3.7"/><circle cy="234" r="3.7"/><circle cy="268" r="3.7"/><circle cy="246" r="3.7"/><circle cy="249" r="3.7"/><circle cy="225" r="3.7"/><circle cy="253" r="3.7"/><circle cy="215" r="3.7"/><circle cy="243" r="3.7"/></g><g transform="translate(435)"><circle cy="264" r="3.7"/><circle cy="232" r="3.7"/><circle cy="226" r="3.7"/><circle cy="261" r="3.7"/><circle cy="276" r="3.7"/><circle cy="272" r="3.7"/><circle cy="268" r="3.7"/><circle cy="296" r="3.7"/><circle cy="292" r="3.7"/><circle cy="242" r="3.7"/><circle cy="230" r="3.7"/><circle cy="263" r="3.7"/><circle cy="260" r="3.7"/><circle cy="241" r="3.7"/><circle cy="281" r="3.7"/><circle cy="282" r="3.7"/><circle cy="258" r="3.7"/><circle cy="267" r="3.7"/><circle cy="246" r="3.7"/><circle cy="221" r="3.7"/><circle cy="253" r="3.7"/><circle cy="229" r="3.7"/><circle cy="274" r="3.7"/><circle cy="249" r="3.7"/><circle cy="283" r="3.7"/><circle cy="235" r="3.7"/><circle cy="259" r="3.7"/><circle cy="245" r="3.7"/><circle cy="262" r="3.7"/><circle cy="250" r="3.7"/><circle cy="279" r="3.7"/><circle cy="248" r="3.7"/><circle cy="254" r="3.7"/><circle cy="217" r="3.7"/></g><g transform="translate(443.3)"><circle cy="259" r="3.7"/><circle cy="251" r="3.7"/><circle cy="223" r="3.7"/><circle cy="267" r="3.7"/><circle cy="224" r="3.7"/><circle cy="234" r="3.7"/><circle cy="219" r="3.7"/><circle cy="246" r="3.7"/><circle cy="253" r="3.7"/><circle cy="252" r="3.7"/><circle cy="293" r="3.7"/><circle cy="260" r="3.7"/><circle cy="258" r="3.7"/><circle cy="239" r="3.7"/><circle cy="288" r="3.7"/><circle cy="292" r="3.7"/><circle cy="250" r="3.7"/><circle cy="233" r="3.7"/><circle cy="282" r="3.7"/><circle cy="230" r="3.7"/><circle cy="273" r="3.7"/><circle cy="271" r="3.7"/><circle cy="236" r="3.7"/><circle cy="254" r="3.7"/><circle cy="205" r="3.7"/><circle cy="329" r="3.7"/></g><g transform="translate(451.6)"><circle cy="226" r="3.7"/><circle cy="273" r="3.7"/><circle cy="240" r="3.7"/><circle cy="252" r="3.7"/><circle cy="262" r="3.7"/></g><g transform="translate(459.9)"><circle cy="236" r="3.7"/><circle cy="292" r="3.7"/><circle cy="275" r="3.7"/><circle cy="280" r="3.7"/></g><g transform="translate(468.3)"><circle cy="221" r="3.7"/><circle cy="227" r="3.7"/><circle cy="237" r="3.7"/><circle cy="251" r="3.7"/><circle cy="258" r="3.7"/><circle cy="275" r="3.7"/><circle cy="288" r="3.7"/></g><g transform="translate(476.6)"><circle cy="245" r="3.7"/><circle cy="257" r="3.7"/><circle cy="274" r="3.7"/></g><g transform="translate(484.9)"><circle cy="225" r="3.7"/><circle cy="230" r="3.7"/></g><g transform="translate(493.3)"><circle cy="248" r="3.7"/><circle cy="258" r="3.7"/><circle cy="283" r="3.7"/></g><g transform="translate(501.6)"><circle cy="248" r="3.7"/></g><g transform="translate(509.9)"><circle cy="277" r="3.7"/></g><g transform="translate(518.3)"><circle cy="149" r="3.7"/></g></g><g class="w"><g transform="translate(145.1)"><circle cy="326" r="3.7"/><circle cy="344" r="3.7"/><circle cy="304" r="3.7"/><circle cy="329" r="3.7"/><circle cy="325" r="3.7"/><circle cy="319" r="3.7"/><circle cy="292" r="3.7"/><circle cy="342" r="3.7"/><circle cy="308" r="3.7"/><circle cy="337" r="3.7"/><circle cy="314" r="3.7"/><circle cy="309" r="3.7"/><circle cy="338" r="3.7"/><circle cy="305" r="3.7"/><circle cy="322" r="3.7"/><circle cy="296" r="3.7"/><circle cy="310" r="3.7"/><circle cy="324" r="3.7"/><circle cy="316" r="3.7"/><circle cy="353" r="3.7"/><circle cy="321" r="3.7"/><circle cy="313" r="3.7"/><circle cy="331" r="3.7"/><circle cy="301" r="3.7"/><circle cy="315" r="3.7"/><circle cy="294" r="3.7"/><circle cy="317" r="3.7"/><circle cy="323" r="3.7"/><circle cy="307" r="3.7"/><circle cy="318" r="3.7"/><circle cy="300" r="3.7"/><circle cy="320" r="3.7"/><circle cy="335" r="3.7"/><circle cy="333" r="3.7"/><circle cy="312" r="3.7"/><circle cy="306" r="3.7"/><circle cy="334" r="3.7"/><circle cy="330" r="3.7"/><circle cy="277" r="3.7"/></g><g transform="translate(152.6)"><circle cy="330" r="3.7"/><circle cy="342" r="3.7"/><circle cy="298" r="3.7"/><circle cy="326" r="3.7"/><circle cy="328" r="3.7"/><circle cy="303" r="3.7"/><circle cy="334" r="3.7"/><circle cy="338" r="3.7"/><circle cy="333" r="3.7"/><circle cy="332" r="3.7"/><circle cy="327" r="3.7"/><circle cy="306" r="3.7"/><circle cy="331" r="3.7"/><circle cy="308" r="3.7"/><circle cy="322" r="3.7"/><circle cy="305" r="3.7"/><circle cy="304" r="3.7"/><circle cy="316" r="3.7"/><circle cy="324" r="3.7"/><circle cy="318" r="3.7"/><circle cy="320" r="3.7"/><circle cy="301" r="3.7"/><circle cy="317" r="3.7"/><circle cy="321" r="3.7"/><circle cy="310" r="3.7"/><circle cy="323" r="3.7"/><circle cy="325" r="3.7"/></g><g transform="translate(160.9)"><circle cy="325" r="3.7"/><circle cy="321" r="3.7"/><circle cy="312" r="3.7"/><circle cy="328" r="3.7"/><circle cy="286" r="3.7"/><circle cy="301" r="3.7"/><circle cy="309" r="3.7"/><circle cy="319" r="3.7"/><circle cy="296" r="3.7"/><circle cy="332" r="3.7"/><circle cy="306" r="3.7"/><circle cy="327" r="3.7"/><circle cy="314" r="3.7"/><circle cy="299" r="3.7"/><circle cy="326" r="3.7"/><circle cy="317" r="3.7"/><circle cy="341" r="3.7"/><circle cy="336" r="3.7"/><circle cy="295" r="3.7"/><circle cy="307" r="3.7"/><circle cy="303" r="3.7"/><circle cy="315" r="3.7"/><circle cy="333" r="3.7"/><circle cy="324" r="3.7"/><circle cy="322" r="3.7"/><circle cy="310" r="3.7"/><circle cy="305" r="3.7"/><circle cy="308" r="3.7"/></g><g transform="translate(169.2)"><circle cy="332" r="3.7"/><circle cy="295" r="3.7"/><circle cy="314" r="3.7"/><circle cy="297" r="3.7"/><circle cy="289" r="3.7"/><circle cy="298" r="3.7"/><circle cy="322" r="3.7"/><circle cy="310" r="3.7"/><circle cy="326" r="3.7"/><circle cy="312" r="3.7"/><circle cy="291" r="3.7"/><circle cy="308" r="3.7"/><circle cy="320" r="3.7"/><circle cy="315" r="3.7"/><circle cy="311" r="3.7"/><circle cy="335" r="3.7"/><circle cy="323" r="3.7"/><circle cy="321" r="3.7"/><circle cy="327" r="3.7"/><circle cy="317" r="3.7"/><circle cy="316" r="3.7"/><circle cy="301" r="3.7"/><circle cy="290" r="3.7"/><circle cy="319" r="3.7"/><circle cy="307" r="3.7"/><circle cy="300" r="3.7"/><circle cy="303" r="3.7"/><circle cy="318" r="3.7"/><circle cy="305" r="3.7"/><circle cy="302" r="3.7"/></g><g transform="translate(177.5)"><circle cy="332" r="3.7"/><circle cy="324" r="3.7"/><circle cy="320" r="3.7"/><circle cy="330" r="3.7"/><circle cy="311" r="3.7"/><circle cy="327" r="3.7"/><circle cy="333" r="3.7"/><circle cy="314" r="3.7"/><circle cy="323" r="3.7"/><circle cy="321" r="3.7"/><circle cy="308" r="3.7"/><circle cy="304" r="3.7"/><circle cy="340" r="3.7"/><circle cy="338" r="3.7"/><circle cy="307" r="3.7"/><circle cy="303" r="3.7"/><circle cy="309" r="3.7"/><circle cy="326" r="3.7"/><circle cy="322" r="3.7"/><circle cy="313" r="3.7"/><circle cy="319" r="3.7"/><circle cy="318" r="3.7"/><circle cy="334" r="3.7"/><circle cy="325" r="3.7"/><circle cy="336" r="3.7"/><circle cy="315" r="3.7"/><circle cy="312" r="3.7"/><circle cy="316" r="3.7"/><circle cy="305" r="3.7"/><circle cy="246" r="3.7"/></g><g transform="translate(185.9)"><circle cy="313" r="3.7"/><circle cy="317" r="3.7"/><circle cy="326" r="3.7"/><circle cy="318" r="3.7"/><circle cy="285" r="3.7"/><circle cy="331" r="3.7"/><circle cy="301" r="3.7"/><circle cy="319" r="3.7"/><circle cy="298" r="3.7"/><circle cy="312" r="3.7"/><circle cy="310" r="3.7"/><circle cy="315" r="3.7"/><circle cy="333" r="3.7"/><circle cy="304" r="3.7"/><circle cy="327" r="3.7"/><circle cy="309" r="3.7"/><circle cy="329" r="3.7"/><circle cy="308" r="3.7"/><circle cy="330" r="3.7"/><circle cy="307" r="3.7"/><circle cy="348" r="3.7"/><circle cy="322" r="3.7"/><circle cy="334" r="3.7"/><circle cy="311" r="3.7"/><circle cy="306" r="3.7"/><circle cy="321" r="3.7"/><circle cy="314" r="3.7"/><circle cy="338" r="3.7"/><circle cy="320" r="3.7"/><circle cy="286" r="3.7"/><circle cy="328" r="3.7"/></g><g transform="translate(194.2)"><circle cy="307" r="3.7"/><circle cy="302" r="3.7"/><circle cy="336" r="3.7"/><circle cy="316" r="3.7"/><circle cy="319" r="3.7"/><circle cy="298" r="3.7"/><circle cy="312" r="3.7"/><circle cy="304" r="3.7"/><circle cy="329" r="3.7"/><circle cy="345" r="3.7"/><circle cy="328" r="3.7"/><circle cy="343" r="3.7"/><circle cy="331" r="3.7"/><circle cy="346" r="3.7"/><circle cy="315" r="3.7"/><circle cy="305" r="3.7"/><circle cy="322" r="3.7"/><circle cy="326" r="3.7"/><circle cy="317" r="3.7"/><circle cy="318" r="3.7"/><circle cy="303" r="3.7"/><circle cy="306" r="3.7"/><circle cy="296" r="3.7"/><circle cy="313" r="3.7"/><circle cy="308" r="3.7"/><circle cy="320" r="3.7"/><circle cy="339" r="3.7"/><circle cy="330" r="3.7"/><circle cy="314" r="3.7"/></g><g transform="translate(202.5)"><circle cy="299" r="3.7"/><circle cy="298" r="3.7"/><circle cy="321" r="3.7"/><circle cy="304" r="3.7"/><circle cy="311" r="3.7"/><circle cy="297" r="3.7"/><circle cy="303" r="3.7"/><circle cy="312" r="3.7"/><circle cy="330" r="3.7"/><circle cy="300" r="3.7"/><circle cy="332" r="3.7"/><circle cy="309" r="3.7"/><circle cy="319" r="3.7"/><circle cy="320" r="3.7"/><circle cy="340" r="3.7"/><circle cy="307" r="3.7"/><circle cy="291" r="3.7"/><circle cy="302" r="3.7"/><circle cy="308" r="3.7"/><circle cy="289" r="3.7"/><circle cy="322" r="3.7"/><circle cy="316" r="3.7"/><circle cy="313" r="3.7"/><circle cy="327" r="3.7"/><circle cy="326" r="3.7"/><circle cy="285" r="3.7"/><circle cy="318" r="3.7"/><circle cy="310" r="3.7"/></g><g transform="translate(210.8)"><circle cy="295" r="3.7"/><circle cy="308" r="3.7"/><circle cy="334" r="3.7"/><circle cy="293" r="3.7"/><circle cy="298" r="3.7"/><circle cy="328" r="3.7"/><circle cy="300" r="3.7"/><circle cy="327" r="3.7"/><circle cy="309" r="3.7"/><circle cy="312" r="3.7"/><circle cy="302" r="3.7"/><circle cy="289" r="3.7"/><circle cy="299" r="3.7"/><circle cy="313" r="3.7"/><circle cy="325" r="3.7"/><circle cy="319" r="3.7"/><circle cy="310" r="3.7"/><circle cy="315" r="3.7"/><circle cy="311" r="3.7"/><circle cy="323" r="3.7"/><circle cy="314" r="3.7"/><circle cy="316" r="3.7"/><circle cy="340" r="3.7"/><circle cy="321" r="3.7"/><circle cy="318" r="3.7"/><circle cy="301" r="3.7"/><circle cy="322" r="3.7"/></g><g transform="translate(219.1)"><circle cy="290" r="3.7"/><circle cy="303" r="3.7"/><circle cy="322" r="3.7"/><circle cy="308" r="3.7"/><circle cy="305" r="3.7"/><circle cy="333" r="3.7"/><circle cy="280" r="3.7"/><circle cy="292" r="3.7"/><circle cy="301" r="3.7"/><circle cy="324" r="3.7"/><circle cy="336" r="3.7"/><circle cy="314" r="3.7"/><circle cy="298" r="3.7"/><circle cy="326" r="3.7"/><circle cy="295" r="3.7"/><circle cy="323" r="3.7"/><circle cy="321" r="3.7"/><circle cy="328" r="3.7"/><circle cy="312" r="3.7"/><circle cy="311" r="3.7"/><circle cy="331" r="3.7"/><circle cy="297" r="3.7"/><circle cy="304" r="3.7"/><circle cy="309" r="3.7"/><circle cy="282" r="3.7"/><circle cy="316" r="3.7"/><circle cy="302" r="3.7"/><circle cy="329" r="3.7"/><circle cy="318" r="3.7"/></g><g transform="translate(227.4)"><circle cy="311" r="3.7"/><circle cy="340" r="3.7"/><circle cy="329" r="3.7"/><circle cy="309" r="3.7"/><circle cy="313" r="3.7"/><circle cy="328" r="3.7"/><circle cy="283" r="3.7"/><circle cy="315" r="3.7"/><circle cy="306" r="3.7"/><circle cy="321" r="3.7"/><circle cy="322" r="3.7"/><circle cy="302" r="3.7"/><circle cy="319" r="3.7"/><circle cy="307" r="3.7"/><circle cy="317" r="3.7"/><circle cy="314" r="3.7"/><circle cy="312" r="3.7"/><circle cy="320" r="3.7"/><circle cy="285" r="3.7"/><circle cy="291" r="3.7"/><circle cy="318" r="3.7"/><circle cy="303" r="3.7"/><circle cy="324" r="3.7"/><circle cy="308" r="3.7"/><circle cy="310" r="3.7"/><circle cy="305" r="3.7"/><circle cy="316" r="3.7"/></g><g transform="translate(235.7)"><circle cy="298" r="3.7"/><circle cy="293" r="3.7"/><circle cy="319" r="3.7"/><circle cy="308" r="3.7"/><circle cy="291" r="3.7"/><circle cy="290" r="3.7"/><circle cy="262" r="3.7"/><circle cy="295" r="3.7"/><circle cy="280" r="3.7"/><circle cy="276" r="3.7"/><circle cy="303" r="3.7"/><circle cy="292" r="3.7"/><circle cy="302" r="3.7"/><circle cy="304" r="3.7"/><circle cy="306" r="3.7"/><circle cy="277" r="3.7"/><circle cy="296" r="3.7"/><circle cy="288" r="3.7"/><circle cy="305" r="3.7"/><circle cy="313" r="3.7"/><circle cy="300" r="3.7"/><circle cy="314" r="3.7"/><circle cy="285" r="3.7"/><circle cy="284" r="3.7"/><circle cy="309" r="3.7"/><circle cy="297" r="3.7"/></g><g transform="translate(244)"><circle cy="280" r="3.7"/><circle cy="297" r="3.7"/><circle cy="293" r="3.7"/><circle cy="294" r="3.7"/><circle cy="263" r="3.7"/><circle cy="285" r="3.7"/><circle cy="266" r="3.7"/><circle cy="286" r="3.7"/><circle cy="298" r="3.7"/><circle cy="291" r="3.7"/><circle cy="279" r="3.7"/><circle cy="282" r="3.7"/><circle cy="300" r="3.7"/><circle cy="302" r="3.7"/><circle cy="309" r="3.7"/><circle cy="317" r="3.7"/><circle cy="313" r="3.7"/><circle cy="307" r="3.7"/><circle cy="321" r="3.7"/><circle cy="289" r="3.7"/><circle cy="296" r="3.7"/><circle cy="299" r="3.7"/><circle cy="272" r="3.7"/><circle cy="304" r="3.7"/><circle cy="308" r="3.7"/><circle cy="312" r="3.7"/><circle cy="301" r="3.7"/><circle cy="284" r="3.7"/><circle cy="290" r="3.7"/><circle cy="352" r="3.7"/><circle cy="347" r="3.7"/></g><g transform="translate(252.3)"><circle cy="330" r="3.7"/><circle cy="284" r="3.7"/><circle cy="317" r="3.7"/><circle cy="337" r="3.7"/><circle cy="335" r="3.7"/><circle cy="334" r="3.7"/><circle cy="307" r="3.7"/><circle cy="304" r="3.7"/><circle cy="340" r="3.7"/><circle cy="308" r="3.7"/><circle cy="316" r="3.7"/><circle cy="311" r="3.7"/><circle cy="329" r="3.7"/><circle cy="321" r="3.7"/><circle cy="313" r="3.7"/><circle cy="306" r="3.7"/><circle cy="327" r="3.7"/><circle cy="309" r="3.7"/><circle cy="339" r="3.7"/><circle cy="325" r="3.7"/><circle cy="323" r="3.7"/><circle cy="291" r="3.7"/><circle cy="310" r="3.7"/><circle cy="314" r="3.7"/><circle cy="303" r="3.7"/><circle cy="302" r="3.7"/><circle cy="318" r="3.7"/><circle cy="326" r="3.7"/><circle cy="315" r="3.7"/><circle cy="299" r="3.7"/></g><g transform="translate(260.6)"><circle cy="298" r="3.7"/><circle cy="299" r="3.7"/><circle cy="330" r="3.7"/><circle cy="309" r="3.7"/><circle cy="295" r="3.7"/><circle cy="334" r="3.7"/><circle cy="289" r="3.7"/><circle cy="313" r="3.7"/><circle cy="296" r="3.7"/><circle cy="302" r="3.7"/><circle cy="310" r="3.7"/><circle cy="272" r="3.7"/><circle cy="284" r="3.7"/><circle cy="316" r="3.7"/><circle cy="297" r="3.7"/><circle cy="292" r="3.7"/><circle cy="303" r="3.7"/><circle cy="312" r="3.7"/><circle cy="311" r="3.7"/><circle cy="293" r="3.7"/><circle cy="314" r="3.7"/><circle cy="305" r="3.7"/><circle cy="306" r="3.7"/><circle cy="294" r="3.7"/><circle cy="307" r="3.7"/><circle cy="288" r="3.7"/><circle cy="322" r="3.7"/></g><g transform="translate(268.9)"><circle cy="315" r="3.7"/><circle cy="265" r="3.7"/><circle cy="310" r="3.7"/><circle cy="285" r="3.7"/><circle cy="297" r="3.7"/><circle cy="287" r="3.7"/><circle cy="318" r="3.7"/><circle cy="275" r="3.7"/><circle cy="273" r="3.7"/><circle cy="298" r="3.7"/><circle cy="286" r="3.7"/><circle cy="250" r="3.7"/><circle cy="331" r="3.7"/><circle cy="284" r="3.7"/><circle cy="280" r="3.7"/><circle cy="314" r="3.7"/><circle cy="292" r="3.7"/><circle cy="302" r="3.7"/><circle cy="283" r="3.7"/><circle cy="269" r="3.7"/><circle cy="281" r="3.7"/><circle cy="299" r="3.7"/><circle cy="251" r="3.7"/><circle cy="290" r="3.7"/><circle cy="304" r="3.7"/><circle cy="277" r="3.7"/><circle cy="279" r="3.7"/><circle cy="270" r="3.7"/><circle cy="278" r="3.7"/><circle cy="322" r="3.7"/></g><g transform="translate(277.2)"><circle cy="305" r="3.7"/><circle cy="306" r="3.7"/><circle cy="303" r="3.7"/><circle cy="271" r="3.7"/><circle cy="288" r="3.7"/><circle cy="308" r="3.7"/><circle cy="295" r="3.7"/><circle cy="287" r="3.7"/><circle cy="282" r="3.7"/><circle cy="312" r="3.7"/><circle cy="325" r="3.7"/><circle cy="297" r="3.7"/><circle cy="313" r="3.7"/><circle cy="290" r="3.7"/><circle cy="315" r="3.7"/><circle cy="294" r="3.7"/><circle cy="320" r="3.7"/><circle cy="299" r="3.7"/><circle cy="302" r="3.7"/><circle cy="280" r="3.7"/><circle cy="300" r="3.7"/><circle cy="289" r="3.7"/><circle cy="327" r="3.7"/><circle cy="275" r="3.7"/><circle cy="316" r="3.7"/><circle cy="319" r="3.7"/><circle cy="301" r="3.7"/><circle cy="285" r="3.7"/><circle cy="304" r="3.7"/><circle cy="296" r="3.7"/><circle cy="314" r="3.7"/></g><g transform="translate(285.5)"><circle cy="318" r="3.7"/><circle cy="262" r="3.7"/><circle cy="309" r="3.7"/><circle cy="306" r="3.7"/><circle cy="314" r="3.7"/><circle cy="296" r="3.7"/><circle cy="255" r="3.7"/><circle cy="290" r="3.7"/><circle cy="285" r="3.7"/><circle cy="276" r="3.7"/><circle cy="333" r="3.7"/><circle cy="311" r="3.7"/><circle cy="289" r="3.7"/><circle cy="304" r="3.7"/><circle cy="317" r="3.7"/><circle cy="312" r="3.7"/><circle cy="302" r="3.7"/><circle cy="299" r="3.7"/><circle cy="295" r="3.7"/><circle cy="310" r="3.7"/><circle cy="300" r="3.7"/><circle cy="283" r="3.7"/><circle cy="279" r="3.7"/><circle cy="277" r="3.7"/><circle cy="284" r="3.7"/><circle cy="308" r="3.7"/><circle cy="307" r="3.7"/><circle cy="315" r="3.7"/><circle cy="303" r="3.7"/><circle cy="280" r="3.7"/></g><g transform="translate(293.8)"><circle cy="254" r="3.7"/><circle cy="244" r="3.7"/><circle cy="315" r="3.7"/><circle cy="302" r="3.7"/><circle cy="314" r="3.7"/><circle cy="295" r="3.7"/><circle cy="318" r="3.7"/><circle cy="282" r="3.7"/><circle cy="281" r="3.7"/><circle cy="268" r="3.7"/><circle cy="285" r="3.7"/><circle cy="278" r="3.7"/><circle cy="277" r="3.7"/><circle cy="288" r="3.7"/><circle cy="305" r="3.7"/><circle cy="283" r="3.7"/><circle cy="293" r="3.7"/><circle cy="280" r="3.7"/><circle cy="251" r="3.7"/><circle cy="279" r="3.7"/><circle cy="286" r="3.7"/><circle cy="259" r="3.7"/><circle cy="272" r="3.7"/><circle cy="291" r="3.7"/><circle cy="298" r="3.7"/><circle cy="273" r="3.7"/><circle cy="289" r="3.7"/><circle cy="294" r="3.7"/><circle cy="266" r="3.7"/><circle cy="309" r="3.7"/></g><g transform="translate(302.1)"><circle cy="273" r="3.7"/><circle cy="286" r="3.7"/><circle cy="251" r="3.7"/><circle cy="243" r="3.7"/><circle cy="242" r="3.7"/><circle cy="291" r="3.7"/><circle cy="257" r="3.7"/><circle cy="244" r="3.7"/><circle cy="284" r="3.7"/><circle cy="265" r="3.7"/><circle cy="266" r="3.7"/><circle cy="270" r="3.7"/><circle cy="249" r="3.7"/><circle cy="287" r="3.7"/><circle cy="283" r="3.7"/><circle cy="279" r="3.7"/><circle cy="278" r="3.7"/><circle cy="290" r="3.7"/><circle cy="288" r="3.7"/><circle cy="282" r="3.7"/><circle cy="313" r="3.7"/><circle cy="258" r="3.7"/><circle cy="255" r="3.7"/><circle cy="261" r="3.7"/><circle cy="296" r="3.7"/><circle cy="254" r="3.7"/><circle cy="276" r="3.7"/></g><g transform="translate(310.4)"><circle cy="270" r="3.7"/><circle cy="291" r="3.7"/><circle cy="269" r="3.7"/><circle cy="303" r="3.7"/><circle cy="285" r="3.7"/><circle cy="266" r="3.7"/><circle cy="293" r="3.7"/><circle cy="321" r="3.7"/><circle cy="294" r="3.7"/><circle cy="272" r="3.7"/><circle cy="284" r="3.7"/><circle cy="299" r="3.7"/><circle cy="263" r="3.7"/><circle cy="276" r="3.7"/><circle cy="278" r="3.7"/><circle cy="282" r="3.7"/><circle cy="290" r="3.7"/><circle cy="286" r="3.7"/><circle cy="296" r="3.7"/><circle cy="308" r="3.7"/><circle cy="287" r="3.7"/><circle cy="262" r="3.7"/><circle cy="274" r="3.7"/><circle cy="319" r="3.7"/><circle cy="311" r="3.7"/><circle cy="304" r="3.7"/></g><g transform="translate(318.7)"><circle cy="281" r="3.7"/><circle cy="309" r="3.7"/><circle cy="328" r="3.7"/><circle cy="305" r="3.7"/><circle cy="285" r="3.7"/><circle cy="267" r="3.7"/><circle cy="315" r="3.7"/><circle cy="326" r="3.7"/><circle cy="287" r="3.7"/><circle cy="290" r="3.7"/><circle cy="283" r="3.7"/><circle cy="300" r="3.7"/><circle cy="297" r="3.7"/><circle cy="299" r="3.7"/><circle cy="284" r="3.7"/><circle cy="302" r="3.7"/><circle cy="279" r="3.7"/><circle cy="291" r="3.7"/><circle cy="304" r="3.7"/><circle cy="269" r="3.7"/><circle cy="321" r="3.7"/><circle cy="308" r="3.7"/><circle cy="282" r="3.7"/><circle cy="296" r="3.7"/></g><g transform="translate(327)"><circle cy="314" r="3.7"/><circle cy="284" r="3.7"/><circle cy="301" r="3.7"/><circle cy="267" r="3.7"/><circle cy="272" r="3.7"/><circle cy="296" r="3.7"/><circle cy="256" r="3.7"/><circle cy="298" r="3.7"/><circle cy="320" r="3.7"/><circle cy="286" r="3.7"/><circle cy="253" r="3.7"/><circle cy="303" r="3.7"/><circle cy="299" r="3.7"/><circle cy="291" r="3.7"/><circle cy="283" r="3.7"/><circle cy="295" r="3.7"/><circle cy="307" r="3.7"/><circle cy="297" r="3.7"/><circle cy="273" r="3.7"/><circle cy="278" r="3.7"/><circle cy="247" r="3.7"/><circle cy="269" r="3.7"/><circle cy="290" r="3.7"/><circle cy="319" r="3.7"/><circle cy="271" r="3.7"/><circle cy="302" r="3.7"/><circle cy="262" r="3.7"/></g><g transform="translate(335.3)"><circle cy="250" r="3.7"/><circle cy="271" r="3.7"/><circle cy="254" r="3.7"/><circle cy="268" r="3.7"/><circle cy="272" r="3.7"/><circle cy="305" r="3.7"/><circle cy="269" r="3.7"/><circle cy="257" r="3.7"/><circle cy="280" r="3.7"/><circle cy="285" r="3.7"/><circle cy="274" r="3.7"/><circle cy="284" r="3.7"/><circle cy="258" r="3.7"/><circle cy="295" r="3.7"/><circle cy="270" r="3.7"/><circle cy="241" r="3.7"/><circle cy="282" r="3.7"/><circle cy="255" r="3.7"/><circle cy="286" r="3.7"/><circle cy="252" r="3.7"/><circle cy="251" r="3.7"/><circle cy="262" r="3.7"/></g><g transform="translate(343.6)"><circle cy="255" r="3.7"/><circle cy="275" r="3.7"/><circle cy="265" r="3.7"/><circle cy="301" r="3.7"/><circle cy="279" r="3.7"/><circle cy="297" r="3.7"/><circle cy="290" r="3.7"/><circle cy="260" r="3.7"/><circle cy="280" r="3.7"/><circle cy="277" r="3.7"/><circle cy="251" r="3.7"/><circle cy="246" r="3.7"/><circle cy="267" r="3.7"/><circle cy="269" r="3.7"/><circle cy="288" r="3.7"/><circle cy="270" r="3.7"/><circle cy="261" r="3.7"/><circle cy="243" r="3.7"/><circle cy="283" r="3.7"/><circle cy="282" r="3.7"/><circle cy="274" r="3.7"/><circle cy="291" r="3.7"/><circle cy="208" r="3.7"/></g><g transform="translate(352)"><circle cy="288" r="3.7"/><circle cy="282" r="3.7"/><circle cy="269" r="3.7"/><circle cy="252" r="3.7"/><circle cy="277" r="3.7"/><circle cy="281" r="3.7"/><circle cy="301" r="3.7"/><circle cy="283" r="3.7"/><circle cy="297" r="3.7"/><circle cy="314" r="3.7"/><circle cy="307" r="3.7"/><circle cy="310" r="3.7"/><circle cy="263" r="3.7"/><circle cy="309" r="3.7"/><circle cy="295" r="3.7"/><circle cy="290" r="3.7"/><circle cy="304" r="3.7"/><circle cy="287" r="3.7"/><circle cy="279" r="3.7"/><circle cy="273" r="3.7"/></g><g transform="translate(360.3)"><circle cy="287" r="3.7"/><circle cy="240" r="3.7"/><circle cy="274" r="3.7"/><circle cy="259" r="3.7"/><circle cy="262" r="3.7"/><circle cy="219" r="3.7"/><circle cy="279" r="3.7"/><circle cy="248" r="3.7"/><circle cy="246" r="3.7"/><circle cy="265" r="3.7"/><circle cy="257" r="3.7"/><circle cy="245" r="3.7"/><circle cy="251" r="3.7"/><circle cy="227" r="3.7"/><circle cy="298" r="3.7"/><circle cy="275" r="3.7"/><circle cy="272" r="3.7"/><circle cy="215" r="3.7"/></g><g transform="translate(368.6)"><circle cy="300" r="3.7"/><circle cy="286" r="3.7"/><circle cy="260" r="3.7"/><circle cy="301" r="3.7"/><circle cy="270" r="3.7"/><circle cy="267" r="3.7"/><circle cy="261" r="3.7"/><circle cy="271" r="3.7"/><circle cy="253" r="3.7"/><circle cy="214" r="3.7"/><circle cy="287" r="3.7"/><circle cy="255" r="3.7"/><circle cy="250" r="3.7"/><circle cy="254" r="3.7"/><circle cy="257" r="3.7"/><circle cy="259" r="3.7"/><circle cy="258" r="3.7"/><circle cy="249" r="3.7"/><circle cy="256" r="3.7"/><circle cy="295" r="3.7"/><circle cy="207" r="3.7"/></g><g transform="translate(376.9)"><circle cy="270" r="3.7"/><circle cy="293" r="3.7"/><circle cy="269" r="3.7"/><circle cy="274" r="3.7"/><circle cy="282" r="3.7"/><circle cy="286" r="3.7"/><circle cy="271" r="3.7"/><circle cy="278" r="3.7"/><circle cy="311" r="3.7"/><circle cy="266" r="3.7"/><circle cy="276" r="3.7"/><circle cy="283" r="3.7"/><circle cy="281" r="3.7"/><circle cy="292" r="3.7"/></g><g transform="translate(385.2)"><circle cy="289" r="3.7"/><circle cy="291" r="3.7"/><circle cy="272" r="3.7"/><circle cy="275" r="3.7"/><circle cy="264" r="3.7"/><circle cy="312" r="3.7"/><circle cy="293" r="3.7"/><circle cy="256" r="3.7"/><circle cy="253" r="3.7"/><circle cy="285" r="3.7"/><circle cy="269" r="3.7"/><circle cy="308" r="3.7"/><circle cy="280" r="3.7"/><circle cy="188" r="3.7"/></g><g transform="translate(393.5)"><circle cy="228" r="3.7"/><circle cy="245" r="3.7"/><circle cy="231" r="3.7"/><circle cy="254" r="3.7"/><circle cy="247" r="3.7"/><circle cy="256" r="3.7"/><circle cy="284" r="3.7"/><circle cy="229" r="3.7"/></g><g transform="translate(401.8)"><circle cy="285" r="3.7"/><circle cy="260" r="3.7"/><circle cy="299" r="3.7"/><circle cy="282" r="3.7"/><circle cy="296" r="3.7"/><circle cy="291" r="3.7"/><circle cy="225" r="3.7"/></g><g transform="translate(410.1)"><circle cy="268" r="3.7"/><circle cy="257" r="3.7"/><circle cy="300" r="3.7"/><circle cy="187" r="3.7"/></g><g transform="translate(418.4)"><circle cy="279" r="3.7"/><circle cy="277" r="3.7"/><circle cy="286" r="3.7"/></g><g transform="translate(426.7)"><circle cy="290" r="3.7"/><circle cy="297" r="3.7"/></g><g transform="translate(435)"><circle cy="294" r="3.7"/><circle cy="307" r="3.7"/><circle cy="310" r="3.7"/></g><g transform="translate(443.3)"><circle cy="274" r="3.7"/></g><g transform="translate(459.9)"><circle cy="264" r="3.7"/></g><g transform="translate(468.3)"><circle cy="234" r="3.7"/></g><g transform="translate(476.6)"><circle cy="249" r="3.7"/></g><g transform="translate(501.6)"><circle cy="269" r="3.7"/></g></g>
<path class="rl" d="M110 333L527.6 254.3"/>
<path class="kl" d="M110 332L527.6 244.7"/>
<path class="bl" d="M110 329.5L527.6 241.4"/>
<path class="ax" d="M110 6.5V427.6H526.6M526.6 6.5V427.6M110 14.4H526.6"/>
<path class="tk" d="M110 427.6h-4.5M526.6 427.6h4.5M110 385.9h-2.5M526.6 385.9h2.5M110 344.2h-4.5M526.6 344.2h4.5M110 302.6h-2.5M526.6 302.6h2.5M110 260.9h-4.5M526.6 260.9h4.5M110 219.2h-2.5M526.6 219.2h2.5M110 177.5h-4.5M526.6 177.5h4.5M110 135.8h-2.5M526.6 135.8h2.5M110 94.2h-4.5M526.6 94.2h4.5M110 52.5h-2.5M526.6 52.5h2.5M110 10.8h-4.5M526.6 10.8h4.5M110 427.6v4.5M110 10.8v-4.5M151.7 427.6v2.5M151.7 10.8v-2.5M193.3 427.6v4.5M193.3 10.8v-4.5M235 427.6v2.5M235 10.8v-2.5M276.6 427.6v4.5M276.6 10.8v-4.5M318.3 427.6v2.5M318.3 10.8v-2.5M360 427.6v4.5M360 10.8v-4.5M401.6 427.6v2.5M401.6 10.8v-2.5M443.3 427.6v4.5M443.3 10.8v-4.5M484.9 427.6v2.5M484.9 10.8v-2.5M526.6 427.6v4.5M526.6 10.8v-4.5"/>
<text class="tl" x="100.2" y="432.7" text-anchor="end">0</text>
<text class="tl" x="100.2" y="349.3" text-anchor="end">500</text>
<text class="tl" x="100.2" y="266" text-anchor="end">1000</text>
<text class="tl" x="100.2" y="182.6" text-anchor="end">1500</text>
<text class="tl" x="100.2" y="99.3" text-anchor="end">2000</text>
<text class="tl" x="100.2" y="15.9" text-anchor="end">2500</text>
<text class="tl" x="111.5" y="455.7" text-anchor="middle">25</text>
<text class="tl" x="194.8" y="455.7" text-anchor="middle">35</text>
<text class="tl" x="278.1" y="455.7" text-anchor="middle">45</text>
<text class="tl" x="361.5" y="455.7" text-anchor="middle">55</text>
<text class="tl" x="444.8" y="455.7" text-anchor="middle">65</text>
<text class="tl" x="528.1" y="455.7" text-anchor="middle">75</text>
<text class="xl" x="321.4" y="483.8" text-anchor="middle">Age (year)</text>
<text class="pl" x="3" y="19.7">(A)</text>
<text class="yl" transform="translate(19 215) rotate(-90)" text-anchor="middle">hbPWV<tspan class="sub" dy="4">eq1</tspan><tspan dy="-4"> (cm/sec)</tspan></text>
<text class="lgb" x="551.5" y="66.3">Whole:</text>
<text class="lg" x="551.5" y="87.4">N = 7,868</text>
<text class="lg" x="551.5" y="108.5">y = 10.6 x + 319</text>
<text class="lg" x="551.5" y="129.6">r = 0.746</text>
<text class="lg" x="551.5" y="150.7">P &lt; 0.0001</text>
<path d="M615.1 60.5H661.8" stroke="#000" stroke-width="2.3" stroke-dasharray="6.45 1.6"/>
<text class="lgb" x="551.5" y="193.1">Men:</text>
<text class="lg" x="551.5" y="214.2">N = 6,683</text>
<text class="lg" x="551.5" y="235.3">y = 10.7 x + 319</text>
<text class="lg" x="551.5" y="256.4">r = 0.747</text>
<text class="lg" x="551.5" y="277.5">P &lt; 0.0001</text>
<path d="M598.1 186.8H644.9" stroke="#00f" stroke-width="2"/><circle cx="621.1" cy="187.3" r="6.8" fill="none" stroke="#00f" stroke-width="2"/>
<text class="lgb" x="551.5" y="319.9">Women:</text>
<text class="lg" x="551.5" y="341">N = 1,185</text>
<text class="lg" x="551.5" y="362.1">y = 9.1 x + 360</text>
<text class="lg" x="551.5" y="383.2">r = 0.681</text>
<text class="lg" x="551.5" y="404.3">P &lt; 0.0001</text>
<path d="M627.4 315H674.8" stroke="#f00" stroke-width="2"/><circle cx="649.4" cy="314.4" r="6.8" fill="none" stroke="#f00" stroke-width="2"/>
</g>
<g id="plotB">
<g class="m"><g transform="translate(146.4)"><circle cy="864" r="3.7"/><circle cy="801" r="3.7"/><circle cy="845" r="3.7"/><circle cy="788" r="3.7"/><circle cy="858" r="3.7"/><circle cy="856" r="3.7"/><circle cy="857" r="3.7"/><circle cy="805" r="3.7"/><circle cy="812" r="3.7"/><circle cy="806" r="3.7"/><circle cy="808" r="3.7"/><circle cy="802" r="3.7"/><circle cy="852" r="3.7"/><circle cy="800" r="3.7"/><circle cy="841" r="3.7"/><circle cy="798" r="3.7"/><circle cy="851" r="3.7"/><circle cy="820" r="3.7"/><circle cy="796" r="3.7"/><circle cy="830" r="3.7"/><circle cy="799" r="3.7"/><circle cy="846" r="3.7"/><circle cy="795" r="3.7"/><circle cy="803" r="3.7"/><circle cy="862" r="3.7"/><circle cy="831" r="3.7"/><circle cy="825" r="3.7"/></g><g transform="translate(155.6)"><circle cy="866" r="3.7"/><circle cy="846" r="3.7"/><circle cy="801" r="3.7"/><circle cy="861" r="3.7"/><circle cy="796" r="3.7"/><circle cy="811" r="3.7"/><circle cy="812" r="3.7"/><circle cy="797" r="3.7"/><circle cy="848" r="3.7"/><circle cy="800" r="3.7"/><circle cy="837" r="3.7"/><circle cy="814" r="3.7"/><circle cy="802" r="3.7"/><circle cy="843" r="3.7"/><circle cy="856" r="3.7"/><circle cy="826" r="3.7"/><circle cy="853" r="3.7"/><circle cy="792" r="3.7"/><circle cy="795" r="3.7"/><circle cy="841" r="3.7"/><circle cy="827" r="3.7"/><circle cy="816" r="3.7"/><circle cy="858" r="3.7"/><circle cy="847" r="3.7"/><circle cy="810" r="3.7"/><circle cy="860" r="3.7"/><circle cy="844" r="3.7"/><circle cy="852" r="3.7"/><circle cy="865" r="3.7"/><circle cy="822" r="3.7"/></g><g transform="translate(163.9)"><circle cy="801" r="3.7"/><circle cy="850" r="3.7"/><circle cy="811" r="3.7"/><circle cy="809" r="3.7"/><circle cy="808" r="3.7"/><circle cy="839" r="3.7"/><circle cy="841" r="3.7"/><circle cy="838" r="3.7"/><circle cy="860" r="3.7"/><circle cy="835" r="3.7"/><circle cy="848" r="3.7"/><circle cy="832" r="3.7"/><circle cy="799" r="3.7"/><circle cy="805" r="3.7"/><circle cy="829" r="3.7"/><circle cy="819" r="3.7"/><circle cy="820" r="3.7"/><circle cy="813" r="3.7"/><circle cy="795" r="3.7"/><circle cy="817" r="3.7"/></g><g transform="translate(172.2)"><circle cy="862" r="3.7"/><circle cy="865" r="3.7"/><circle cy="838" r="3.7"/><circle cy="809" r="3.7"/><circle cy="805" r="3.7"/><circle cy="807" r="3.7"/><circle cy="847" r="3.7"/><circle cy="853" r="3.7"/><circle cy="803" r="3.7"/><circle cy="851" r="3.7"/><circle cy="857" r="3.7"/><circle cy="816" r="3.7"/><circle cy="821" r="3.7"/><circle cy="854" r="3.7"/><circle cy="831" r="3.7"/><circle cy="815" r="3.7"/><circle cy="804" r="3.7"/><circle cy="842" r="3.7"/><circle cy="855" r="3.7"/><circle cy="823" r="3.7"/><circle cy="822" r="3.7"/><circle cy="813" r="3.7"/><circle cy="802" r="3.7"/></g><g transform="translate(180.6)"><circle cy="797" r="3.7"/><circle cy="798" r="3.7"/><circle cy="799" r="3.7"/><circle cy="813" r="3.7"/><circle cy="857" r="3.7"/><circle cy="853" r="3.7"/><circle cy="823" r="3.7"/><circle cy="865" r="3.7"/><circle cy="815" r="3.7"/><circle cy="808" r="3.7"/><circle cy="834" r="3.7"/><circle cy="795" r="3.7"/><circle cy="847" r="3.7"/><circle cy="804" r="3.7"/><circle cy="819" r="3.7"/><circle cy="796" r="3.7"/><circle cy="801" r="3.7"/><circle cy="849" r="3.7"/><circle cy="812" r="3.7"/><circle cy="836" r="3.7"/><circle cy="822" r="3.7"/><circle cy="837" r="3.7"/><circle cy="825" r="3.7"/><circle cy="817" r="3.7"/><circle cy="852" r="3.7"/><circle cy="841" r="3.7"/><circle cy="850" r="3.7"/></g><g transform="translate(188.9)"><circle cy="784" r="3.7"/><circle cy="803" r="3.7"/><circle cy="791" r="3.7"/><circle cy="799" r="3.7"/><circle cy="812" r="3.7"/><circle cy="834" r="3.7"/><circle cy="865" r="3.7"/><circle cy="801" r="3.7"/><circle cy="808" r="3.7"/><circle cy="800" r="3.7"/><circle cy="845" r="3.7"/><circle cy="823" r="3.7"/><circle cy="822" r="3.7"/><circle cy="853" r="3.7"/><circle cy="797" r="3.7"/><circle cy="807" r="3.7"/><circle cy="852" r="3.7"/><circle cy="815" r="3.7"/><circle cy="851" r="3.7"/><circle cy="816" r="3.7"/><circle cy="825" r="3.7"/><circle cy="804" r="3.7"/><circle cy="813" r="3.7"/><circle cy="806" r="3.7"/><circle cy="850" r="3.7"/><circle cy="820" r="3.7"/><circle cy="810" r="3.7"/><circle cy="849" r="3.7"/><circle cy="832" r="3.7"/><circle cy="805" r="3.7"/><circle cy="817" r="3.7"/></g><g transform="translate(197.2)"><circle cy="793" r="3.7"/><circle cy="791" r="3.7"/><circle cy="857" r="3.7"/><circle cy="801" r="3.7"/><circle cy="785" r="3.7"/><circle cy="840" r="3.7"/><circle cy="808" r="3.7"/><circle cy="799" r="3.7"/><circle cy="831" r="3.7"/><circle cy="784" r="3.7"/><circle cy="797" r="3.7"/><circle cy="841" r="3.7"/><circle cy="867" r="3.7"/><circle cy="842" r="3.7"/><circle cy="807" r="3.7"/><circle cy="862" r="3.7"/><circle cy="800" r="3.7"/><circle cy="848" r="3.7"/><circle cy="790" r="3.7"/><circle cy="843" r="3.7"/><circle cy="789" r="3.7"/><circle cy="839" r="3.7"/><circle cy="794" r="3.7"/><circle cy="805" r="3.7"/><circle cy="812" r="3.7"/><circle cy="850" r="3.7"/><circle cy="802" r="3.7"/><circle cy="829" r="3.7"/><circle cy="835" r="3.7"/><circle cy="815" r="3.7"/><circle cy="825" r="3.7"/><circle cy="804" r="3.7"/><circle cy="851" r="3.7"/><circle cy="858" r="3.7"/><circle cy="818" r="3.7"/><circle cy="809" r="3.7"/><circle cy="795" r="3.7"/><circle cy="810" r="3.7"/></g><g transform="translate(205.6)"><circle cy="831" r="3.7"/><circle cy="856" r="3.7"/><circle cy="795" r="3.7"/><circle cy="778" r="3.7"/><circle cy="794" r="3.7"/><circle cy="779" r="3.7"/><circle cy="808" r="3.7"/><circle cy="800" r="3.7"/><circle cy="774" r="3.7"/><circle cy="817" r="3.7"/><circle cy="786" r="3.7"/><circle cy="840" r="3.7"/><circle cy="805" r="3.7"/><circle cy="806" r="3.7"/><circle cy="802" r="3.7"/><circle cy="784" r="3.7"/><circle cy="815" r="3.7"/><circle cy="793" r="3.7"/><circle cy="777" r="3.7"/><circle cy="791" r="3.7"/><circle cy="828" r="3.7"/><circle cy="810" r="3.7"/><circle cy="804" r="3.7"/><circle cy="825" r="3.7"/><circle cy="783" r="3.7"/><circle cy="796" r="3.7"/><circle cy="816" r="3.7"/><circle cy="801" r="3.7"/><circle cy="812" r="3.7"/><circle cy="832" r="3.7"/><circle cy="803" r="3.7"/><circle cy="820" r="3.7"/><circle cy="798" r="3.7"/><circle cy="788" r="3.7"/><circle cy="821" r="3.7"/></g><g transform="translate(213.9)"><circle cy="851" r="3.7"/><circle cy="785" r="3.7"/><circle cy="791" r="3.7"/><circle cy="790" r="3.7"/><circle cy="801" r="3.7"/><circle cy="799" r="3.7"/><circle cy="783" r="3.7"/><circle cy="798" r="3.7"/><circle cy="843" r="3.7"/><circle cy="840" r="3.7"/><circle cy="823" r="3.7"/><circle cy="776" r="3.7"/><circle cy="810" r="3.7"/><circle cy="809" r="3.7"/><circle cy="803" r="3.7"/><circle cy="850" r="3.7"/><circle cy="811" r="3.7"/><circle cy="777" r="3.7"/><circle cy="792" r="3.7"/><circle cy="793" r="3.7"/><circle cy="769" r="3.7"/><circle cy="816" r="3.7"/><circle cy="806" r="3.7"/><circle cy="795" r="3.7"/><circle cy="787" r="3.7"/><circle cy="820" r="3.7"/><circle cy="838" r="3.7"/><circle cy="804" r="3.7"/><circle cy="813" r="3.7"/><circle cy="796" r="3.7"/><circle cy="814" r="3.7"/><circle cy="833" r="3.7"/><circle cy="812" r="3.7"/><circle cy="805" r="3.7"/><circle cy="794" r="3.7"/><circle cy="802" r="3.7"/><circle cy="779" r="3.7"/><circle cy="824" r="3.7"/><circle cy="797" r="3.7"/><circle cy="760" r="3.7"/></g><g transform="translate(222.2)"><circle cy="791" r="3.7"/><circle cy="795" r="3.7"/><circle cy="798" r="3.7"/><circle cy="792" r="3.7"/><circle cy="802" r="3.7"/><circle cy="813" r="3.7"/><circle cy="789" r="3.7"/><circle cy="835" r="3.7"/><circle cy="806" r="3.7"/><circle cy="827" r="3.7"/><circle cy="824" r="3.7"/><circle cy="790" r="3.7"/><circle cy="842" r="3.7"/><circle cy="823" r="3.7"/><circle cy="794" r="3.7"/><circle cy="836" r="3.7"/><circle cy="805" r="3.7"/><circle cy="831" r="3.7"/><circle cy="800" r="3.7"/><circle cy="847" r="3.7"/><circle cy="855" r="3.7"/><circle cy="837" r="3.7"/><circle cy="826" r="3.7"/><circle cy="783" r="3.7"/><circle cy="793" r="3.7"/><circle cy="846" r="3.7"/><circle cy="799" r="3.7"/><circle cy="822" r="3.7"/><circle cy="821" r="3.7"/><circle cy="809" r="3.7"/></g><g transform="translate(230.6)"><circle cy="842" r="3.7"/><circle cy="787" r="3.7"/><circle cy="783" r="3.7"/><circle cy="846" r="3.7"/><circle cy="841" r="3.7"/><circle cy="852" r="3.7"/><circle cy="826" r="3.7"/><circle cy="816" r="3.7"/><circle cy="845" r="3.7"/><circle cy="799" r="3.7"/><circle cy="795" r="3.7"/><circle cy="843" r="3.7"/><circle cy="818" r="3.7"/><circle cy="822" r="3.7"/><circle cy="801" r="3.7"/><circle cy="837" r="3.7"/><circle cy="798" r="3.7"/><circle cy="788" r="3.7"/><circle cy="831" r="3.7"/><circle cy="802" r="3.7"/><circle cy="797" r="3.7"/><circle cy="838" r="3.7"/><circle cy="829" r="3.7"/><circle cy="800" r="3.7"/><circle cy="819" r="3.7"/><circle cy="810" r="3.7"/><circle cy="807" r="3.7"/><circle cy="834" r="3.7"/><circle cy="808" r="3.7"/><circle cy="803" r="3.7"/><circle cy="793" r="3.7"/><circle cy="796" r="3.7"/><circle cy="839" r="3.7"/><circle cy="789" r="3.7"/></g><g transform="translate(238.9)"><circle cy="788" r="3.7"/><circle cy="837" r="3.7"/><circle cy="843" r="3.7"/><circle cy="783" r="3.7"/><circle cy="841" r="3.7"/><circle cy="824" r="3.7"/><circle cy="842" r="3.7"/><circle cy="778" r="3.7"/><circle cy="784" r="3.7"/><circle cy="775" r="3.7"/><circle cy="787" r="3.7"/><circle cy="780" r="3.7"/><circle cy="797" r="3.7"/><circle cy="792" r="3.7"/><circle cy="830" r="3.7"/><circle cy="823" r="3.7"/><circle cy="834" r="3.7"/><circle cy="800" r="3.7"/><circle cy="795" r="3.7"/><circle cy="779" r="3.7"/><circle cy="831" r="3.7"/><circle cy="790" r="3.7"/><circle cy="796" r="3.7"/><circle cy="802" r="3.7"/><circle cy="818" r="3.7"/><circle cy="808" r="3.7"/><circle cy="815" r="3.7"/><circle cy="822" r="3.7"/><circle cy="809" r="3.7"/><circle cy="794" r="3.7"/><circle cy="805" r="3.7"/><circle cy="791" r="3.7"/><circle cy="766" r="3.7"/></g><g transform="translate(247.2)"><circle cy="847" r="3.7"/><circle cy="826" r="3.7"/><circle cy="768" r="3.7"/><circle cy="841" r="3.7"/><circle cy="781" r="3.7"/><circle cy="834" r="3.7"/><circle cy="769" r="3.7"/><circle cy="837" r="3.7"/><circle cy="798" r="3.7"/><circle cy="813" r="3.7"/><circle cy="796" r="3.7"/><circle cy="777" r="3.7"/><circle cy="821" r="3.7"/><circle cy="774" r="3.7"/><circle cy="785" r="3.7"/><circle cy="822" r="3.7"/><circle cy="786" r="3.7"/><circle cy="803" r="3.7"/><circle cy="830" r="3.7"/><circle cy="835" r="3.7"/><circle cy="827" r="3.7"/><circle cy="789" r="3.7"/><circle cy="782" r="3.7"/><circle cy="810" r="3.7"/><circle cy="831" r="3.7"/><circle cy="805" r="3.7"/><circle cy="823" r="3.7"/><circle cy="825" r="3.7"/><circle cy="793" r="3.7"/><circle cy="801" r="3.7"/><circle cy="778" r="3.7"/><circle cy="807" r="3.7"/><circle cy="797" r="3.7"/><circle cy="804" r="3.7"/><circle cy="819" r="3.7"/><circle cy="707" r="3.7"/><circle cy="738" r="3.7"/></g><g transform="translate(255.6)"><circle cy="784" r="3.7"/><circle cy="771" r="3.7"/><circle cy="810" r="3.7"/><circle cy="798" r="3.7"/><circle cy="766" r="3.7"/><circle cy="777" r="3.7"/><circle cy="847" r="3.7"/><circle cy="783" r="3.7"/><circle cy="779" r="3.7"/><circle cy="790" r="3.7"/><circle cy="809" r="3.7"/><circle cy="762" r="3.7"/><circle cy="820" r="3.7"/><circle cy="804" r="3.7"/><circle cy="780" r="3.7"/><circle cy="821" r="3.7"/><circle cy="773" r="3.7"/><circle cy="830" r="3.7"/><circle cy="769" r="3.7"/><circle cy="817" r="3.7"/><circle cy="796" r="3.7"/><circle cy="794" r="3.7"/><circle cy="781" r="3.7"/><circle cy="813" r="3.7"/><circle cy="835" r="3.7"/><circle cy="786" r="3.7"/><circle cy="770" r="3.7"/><circle cy="788" r="3.7"/><circle cy="799" r="3.7"/><circle cy="795" r="3.7"/><circle cy="791" r="3.7"/><circle cy="787" r="3.7"/><circle cy="785" r="3.7"/><circle cy="789" r="3.7"/><circle cy="797" r="3.7"/><circle cy="832" r="3.7"/><circle cy="826" r="3.7"/><circle cy="792" r="3.7"/></g><g transform="translate(263.9)"><circle cy="750" r="3.7"/><circle cy="813" r="3.7"/><circle cy="784" r="3.7"/><circle cy="769" r="3.7"/><circle cy="829" r="3.7"/><circle cy="778" r="3.7"/><circle cy="809" r="3.7"/><circle cy="816" r="3.7"/><circle cy="830" r="3.7"/><circle cy="776" r="3.7"/><circle cy="764" r="3.7"/><circle cy="794" r="3.7"/><circle cy="787" r="3.7"/><circle cy="760" r="3.7"/><circle cy="762" r="3.7"/><circle cy="835" r="3.7"/><circle cy="779" r="3.7"/><circle cy="791" r="3.7"/><circle cy="771" r="3.7"/><circle cy="833" r="3.7"/><circle cy="805" r="3.7"/><circle cy="780" r="3.7"/><circle cy="798" r="3.7"/><circle cy="752" r="3.7"/><circle cy="781" r="3.7"/><circle cy="804" r="3.7"/><circle cy="815" r="3.7"/><circle cy="790" r="3.7"/><circle cy="795" r="3.7"/><circle cy="817" r="3.7"/><circle cy="789" r="3.7"/><circle cy="772" r="3.7"/><circle cy="774" r="3.7"/><circle cy="823" r="3.7"/><circle cy="786" r="3.7"/><circle cy="783" r="3.7"/><circle cy="792" r="3.7"/><circle cy="793" r="3.7"/><circle cy="788" r="3.7"/><circle cy="770" r="3.7"/><circle cy="808" r="3.7"/><circle cy="766" r="3.7"/><circle cy="777" r="3.7"/><circle cy="807" r="3.7"/><circle cy="796" r="3.7"/><circle cy="819" r="3.7"/><circle cy="731" r="3.7"/></g><g transform="translate(272.2)"><circle cy="752" r="3.7"/><circle cy="750" r="3.7"/><circle cy="751" r="3.7"/><circle cy="757" r="3.7"/><circle cy="762" r="3.7"/><circle cy="783" r="3.7"/><circle cy="777" r="3.7"/><circle cy="763" r="3.7"/><circle cy="788" r="3.7"/><circle cy="784" r="3.7"/><circle cy="747" r="3.7"/><circle cy="772" r="3.7"/><circle cy="790" r="3.7"/><circle cy="782" r="3.7"/><circle cy="780" r="3.7"/><circle cy="811" r="3.7"/><circle cy="843" r="3.7"/><circle cy="771" r="3.7"/><circle cy="775" r="3.7"/><circle cy="797" r="3.7"/><circle cy="789" r="3.7"/><circle cy="767" r="3.7"/><circle cy="785" r="3.7"/><circle cy="745" r="3.7"/><circle cy="802" r="3.7"/><circle cy="827" r="3.7"/><circle cy="781" r="3.7"/><circle cy="828" r="3.7"/><circle cy="795" r="3.7"/><circle cy="807" r="3.7"/><circle cy="830" r="3.7"/><circle cy="798" r="3.7"/><circle cy="806" r="3.7"/><circle cy="794" r="3.7"/><circle cy="773" r="3.7"/><circle cy="812" r="3.7"/><circle cy="791" r="3.7"/><circle cy="821" r="3.7"/><circle cy="765" r="3.7"/><circle cy="774" r="3.7"/><circle cy="792" r="3.7"/><circle cy="800" r="3.7"/><circle cy="770" r="3.7"/><circle cy="817" r="3.7"/><circle cy="822" r="3.7"/><circle cy="799" r="3.7"/></g><g transform="translate(280.6)"><circle cy="755" r="3.7"/><circle cy="770" r="3.7"/><circle cy="821" r="3.7"/><circle cy="788" r="3.7"/><circle cy="787" r="3.7"/><circle cy="844" r="3.7"/><circle cy="757" r="3.7"/><circle cy="779" r="3.7"/><circle cy="759" r="3.7"/><circle cy="783" r="3.7"/><circle cy="771" r="3.7"/><circle cy="776" r="3.7"/><circle cy="780" r="3.7"/><circle cy="813" r="3.7"/><circle cy="794" r="3.7"/><circle cy="801" r="3.7"/><circle cy="803" r="3.7"/><circle cy="772" r="3.7"/><circle cy="762" r="3.7"/><circle cy="781" r="3.7"/><circle cy="825" r="3.7"/><circle cy="768" r="3.7"/><circle cy="815" r="3.7"/><circle cy="774" r="3.7"/><circle cy="828" r="3.7"/><circle cy="775" r="3.7"/><circle cy="777" r="3.7"/><circle cy="796" r="3.7"/><circle cy="799" r="3.7"/><circle cy="826" r="3.7"/><circle cy="782" r="3.7"/><circle cy="822" r="3.7"/><circle cy="761" r="3.7"/><circle cy="804" r="3.7"/><circle cy="789" r="3.7"/><circle cy="797" r="3.7"/><circle cy="807" r="3.7"/><circle cy="773" r="3.7"/><circle cy="767" r="3.7"/><circle cy="778" r="3.7"/><circle cy="795" r="3.7"/><circle cy="792" r="3.7"/><circle cy="785" r="3.7"/><circle cy="790" r="3.7"/></g><g transform="translate(288.9)"><circle cy="749" r="3.7"/><circle cy="827" r="3.7"/><circle cy="763" r="3.7"/><circle cy="778" r="3.7"/><circle cy="750" r="3.7"/><circle cy="824" r="3.7"/><circle cy="829" r="3.7"/><circle cy="754" r="3.7"/><circle cy="840" r="3.7"/><circle cy="784" r="3.7"/><circle cy="826" r="3.7"/><circle cy="797" r="3.7"/><circle cy="828" r="3.7"/><circle cy="804" r="3.7"/><circle cy="771" r="3.7"/><circle cy="849" r="3.7"/><circle cy="762" r="3.7"/><circle cy="781" r="3.7"/><circle cy="747" r="3.7"/><circle cy="788" r="3.7"/><circle cy="812" r="3.7"/><circle cy="794" r="3.7"/><circle cy="825" r="3.7"/><circle cy="818" r="3.7"/><circle cy="806" r="3.7"/><circle cy="774" r="3.7"/><circle cy="792" r="3.7"/><circle cy="809" r="3.7"/><circle cy="790" r="3.7"/><circle cy="801" r="3.7"/><circle cy="775" r="3.7"/><circle cy="770" r="3.7"/><circle cy="787" r="3.7"/><circle cy="817" r="3.7"/><circle cy="803" r="3.7"/><circle cy="823" r="3.7"/><circle cy="796" r="3.7"/><circle cy="808" r="3.7"/><circle cy="765" r="3.7"/><circle cy="805" r="3.7"/><circle cy="780" r="3.7"/><circle cy="751" r="3.7"/><circle cy="783" r="3.7"/><circle cy="799" r="3.7"/></g><g transform="translate(297.2)"><circle cy="770" r="3.7"/><circle cy="820" r="3.7"/><circle cy="793" r="3.7"/><circle cy="788" r="3.7"/><circle cy="805" r="3.7"/><circle cy="751" r="3.7"/><circle cy="772" r="3.7"/><circle cy="819" r="3.7"/><circle cy="817" r="3.7"/><circle cy="812" r="3.7"/><circle cy="768" r="3.7"/><circle cy="765" r="3.7"/><circle cy="758" r="3.7"/><circle cy="794" r="3.7"/><circle cy="778" r="3.7"/><circle cy="823" r="3.7"/><circle cy="789" r="3.7"/><circle cy="786" r="3.7"/><circle cy="815" r="3.7"/><circle cy="824" r="3.7"/><circle cy="802" r="3.7"/><circle cy="774" r="3.7"/><circle cy="777" r="3.7"/><circle cy="827" r="3.7"/><circle cy="799" r="3.7"/><circle cy="791" r="3.7"/><circle cy="797" r="3.7"/><circle cy="763" r="3.7"/><circle cy="795" r="3.7"/><circle cy="787" r="3.7"/><circle cy="781" r="3.7"/><circle cy="783" r="3.7"/><circle cy="808" r="3.7"/><circle cy="800" r="3.7"/><circle cy="811" r="3.7"/><circle cy="806" r="3.7"/><circle cy="796" r="3.7"/><circle cy="771" r="3.7"/><circle cy="818" r="3.7"/><circle cy="779" r="3.7"/></g><g transform="translate(305.6)"><circle cy="760" r="3.7"/><circle cy="751" r="3.7"/><circle cy="818" r="3.7"/><circle cy="814" r="3.7"/><circle cy="816" r="3.7"/><circle cy="753" r="3.7"/><circle cy="742" r="3.7"/><circle cy="810" r="3.7"/><circle cy="756" r="3.7"/><circle cy="759" r="3.7"/><circle cy="754" r="3.7"/><circle cy="783" r="3.7"/><circle cy="821" r="3.7"/><circle cy="773" r="3.7"/><circle cy="802" r="3.7"/><circle cy="823" r="3.7"/><circle cy="779" r="3.7"/><circle cy="788" r="3.7"/><circle cy="829" r="3.7"/><circle cy="805" r="3.7"/><circle cy="803" r="3.7"/><circle cy="778" r="3.7"/><circle cy="767" r="3.7"/><circle cy="770" r="3.7"/><circle cy="777" r="3.7"/><circle cy="813" r="3.7"/><circle cy="763" r="3.7"/><circle cy="772" r="3.7"/><circle cy="820" r="3.7"/><circle cy="811" r="3.7"/><circle cy="782" r="3.7"/><circle cy="758" r="3.7"/><circle cy="755" r="3.7"/><circle cy="781" r="3.7"/><circle cy="812" r="3.7"/><circle cy="809" r="3.7"/><circle cy="789" r="3.7"/><circle cy="769" r="3.7"/><circle cy="768" r="3.7"/><circle cy="790" r="3.7"/><circle cy="785" r="3.7"/><circle cy="797" r="3.7"/><circle cy="780" r="3.7"/><circle cy="799" r="3.7"/><circle cy="784" r="3.7"/><circle cy="817" r="3.7"/><circle cy="807" r="3.7"/><circle cy="774" r="3.7"/><circle cy="800" r="3.7"/><circle cy="815" r="3.7"/><circle cy="795" r="3.7"/></g><g transform="translate(313.9)"><circle cy="759" r="3.7"/><circle cy="824" r="3.7"/><circle cy="762" r="3.7"/><circle cy="758" r="3.7"/><circle cy="828" r="3.7"/><circle cy="769" r="3.7"/><circle cy="801" r="3.7"/><circle cy="756" r="3.7"/><circle cy="799" r="3.7"/><circle cy="818" r="3.7"/><circle cy="832" r="3.7"/><circle cy="800" r="3.7"/><circle cy="775" r="3.7"/><circle cy="767" r="3.7"/><circle cy="794" r="3.7"/><circle cy="821" r="3.7"/><circle cy="774" r="3.7"/><circle cy="766" r="3.7"/><circle cy="776" r="3.7"/><circle cy="784" r="3.7"/><circle cy="804" r="3.7"/><circle cy="796" r="3.7"/><circle cy="782" r="3.7"/><circle cy="772" r="3.7"/><circle cy="790" r="3.7"/><circle cy="806" r="3.7"/><circle cy="795" r="3.7"/><circle cy="820" r="3.7"/><circle cy="780" r="3.7"/><circle cy="768" r="3.7"/><circle cy="788" r="3.7"/><circle cy="771" r="3.7"/><circle cy="779" r="3.7"/><circle cy="825" r="3.7"/><circle cy="781" r="3.7"/><circle cy="805" r="3.7"/><circle cy="807" r="3.7"/><circle cy="793" r="3.7"/><circle cy="777" r="3.7"/><circle cy="813" r="3.7"/><circle cy="811" r="3.7"/></g><g transform="translate(322.2)"><circle cy="833" r="3.7"/><circle cy="743" r="3.7"/><circle cy="770" r="3.7"/><circle cy="810" r="3.7"/><circle cy="768" r="3.7"/><circle cy="769" r="3.7"/><circle cy="758" r="3.7"/><circle cy="816" r="3.7"/><circle cy="785" r="3.7"/><circle cy="825" r="3.7"/><circle cy="779" r="3.7"/><circle cy="750" r="3.7"/><circle cy="793" r="3.7"/><circle cy="831" r="3.7"/><circle cy="782" r="3.7"/><circle cy="771" r="3.7"/><circle cy="778" r="3.7"/><circle cy="795" r="3.7"/><circle cy="792" r="3.7"/><circle cy="786" r="3.7"/><circle cy="761" r="3.7"/><circle cy="784" r="3.7"/><circle cy="772" r="3.7"/><circle cy="820" r="3.7"/><circle cy="830" r="3.7"/><circle cy="756" r="3.7"/><circle cy="815" r="3.7"/><circle cy="773" r="3.7"/><circle cy="790" r="3.7"/><circle cy="808" r="3.7"/><circle cy="766" r="3.7"/><circle cy="780" r="3.7"/><circle cy="806" r="3.7"/><circle cy="789" r="3.7"/><circle cy="777" r="3.7"/><circle cy="763" r="3.7"/><circle cy="802" r="3.7"/><circle cy="747" r="3.7"/><circle cy="765" r="3.7"/><circle cy="801" r="3.7"/><circle cy="775" r="3.7"/><circle cy="798" r="3.7"/><circle cy="759" r="3.7"/><circle cy="764" r="3.7"/><circle cy="762" r="3.7"/><circle cy="800" r="3.7"/><circle cy="805" r="3.7"/><circle cy="767" r="3.7"/><circle cy="787" r="3.7"/><circle cy="720" r="3.7"/><circle cy="730" r="3.7"/></g><g transform="translate(330.6)"><circle cy="807" r="3.7"/><circle cy="763" r="3.7"/><circle cy="804" r="3.7"/><circle cy="759" r="3.7"/><circle cy="813" r="3.7"/><circle cy="812" r="3.7"/><circle cy="756" r="3.7"/><circle cy="823" r="3.7"/><circle cy="797" r="3.7"/><circle cy="820" r="3.7"/><circle cy="801" r="3.7"/><circle cy="816" r="3.7"/><circle cy="758" r="3.7"/><circle cy="805" r="3.7"/><circle cy="803" r="3.7"/><circle cy="788" r="3.7"/><circle cy="779" r="3.7"/><circle cy="785" r="3.7"/><circle cy="748" r="3.7"/><circle cy="795" r="3.7"/><circle cy="769" r="3.7"/><circle cy="826" r="3.7"/><circle cy="832" r="3.7"/><circle cy="764" r="3.7"/><circle cy="771" r="3.7"/><circle cy="798" r="3.7"/><circle cy="772" r="3.7"/><circle cy="787" r="3.7"/><circle cy="802" r="3.7"/><circle cy="780" r="3.7"/><circle cy="800" r="3.7"/><circle cy="824" r="3.7"/><circle cy="818" r="3.7"/><circle cy="783" r="3.7"/><circle cy="784" r="3.7"/><circle cy="776" r="3.7"/><circle cy="808" r="3.7"/><circle cy="793" r="3.7"/><circle cy="810" r="3.7"/><circle cy="774" r="3.7"/><circle cy="786" r="3.7"/><circle cy="766" r="3.7"/><circle cy="799" r="3.7"/><circle cy="790" r="3.7"/><circle cy="794" r="3.7"/></g><g transform="translate(338.9)"><circle cy="813" r="3.7"/><circle cy="782" r="3.7"/><circle cy="818" r="3.7"/><circle cy="795" r="3.7"/><circle cy="808" r="3.7"/><circle cy="745" r="3.7"/><circle cy="809" r="3.7"/><circle cy="772" r="3.7"/><circle cy="810" r="3.7"/><circle cy="760" r="3.7"/><circle cy="761" r="3.7"/><circle cy="733" r="3.7"/><circle cy="759" r="3.7"/><circle cy="814" r="3.7"/><circle cy="805" r="3.7"/><circle cy="785" r="3.7"/><circle cy="779" r="3.7"/><circle cy="766" r="3.7"/><circle cy="758" r="3.7"/><circle cy="834" r="3.7"/><circle cy="788" r="3.7"/><circle cy="777" r="3.7"/><circle cy="800" r="3.7"/><circle cy="762" r="3.7"/><circle cy="748" r="3.7"/><circle cy="815" r="3.7"/><circle cy="820" r="3.7"/><circle cy="764" r="3.7"/><circle cy="757" r="3.7"/><circle cy="776" r="3.7"/><circle cy="790" r="3.7"/><circle cy="783" r="3.7"/><circle cy="791" r="3.7"/><circle cy="773" r="3.7"/><circle cy="784" r="3.7"/><circle cy="780" r="3.7"/><circle cy="812" r="3.7"/><circle cy="763" r="3.7"/><circle cy="802" r="3.7"/><circle cy="769" r="3.7"/><circle cy="823" r="3.7"/><circle cy="821" r="3.7"/><circle cy="770" r="3.7"/><circle cy="806" r="3.7"/><circle cy="829" r="3.7"/><circle cy="765" r="3.7"/><circle cy="767" r="3.7"/><circle cy="774" r="3.7"/><circle cy="798" r="3.7"/><circle cy="797" r="3.7"/><circle cy="793" r="3.7"/><circle cy="811" r="3.7"/><circle cy="707" r="3.7"/><circle cy="715" r="3.7"/><circle cy="722" r="3.7"/><circle cy="732" r="3.7"/></g><g transform="translate(347.3)"><circle cy="752" r="3.7"/><circle cy="791" r="3.7"/><circle cy="833" r="3.7"/><circle cy="796" r="3.7"/><circle cy="770" r="3.7"/><circle cy="782" r="3.7"/><circle cy="768" r="3.7"/><circle cy="745" r="3.7"/><circle cy="804" r="3.7"/><circle cy="800" r="3.7"/><circle cy="750" r="3.7"/><circle cy="803" r="3.7"/><circle cy="813" r="3.7"/><circle cy="797" r="3.7"/><circle cy="817" r="3.7"/><circle cy="771" r="3.7"/><circle cy="798" r="3.7"/><circle cy="827" r="3.7"/><circle cy="776" r="3.7"/><circle cy="774" r="3.7"/><circle cy="760" r="3.7"/><circle cy="756" r="3.7"/><circle cy="751" r="3.7"/><circle cy="773" r="3.7"/><circle cy="810" r="3.7"/><circle cy="779" r="3.7"/><circle cy="777" r="3.7"/><circle cy="780" r="3.7"/><circle cy="778" r="3.7"/><circle cy="765" r="3.7"/><circle cy="787" r="3.7"/><circle cy="785" r="3.7"/><circle cy="764" r="3.7"/><circle cy="738" r="3.7"/><circle cy="805" r="3.7"/><circle cy="753" r="3.7"/><circle cy="818" r="3.7"/><circle cy="801" r="3.7"/><circle cy="808" r="3.7"/><circle cy="766" r="3.7"/><circle cy="790" r="3.7"/><circle cy="748" r="3.7"/><circle cy="784" r="3.7"/><circle cy="812" r="3.7"/><circle cy="809" r="3.7"/><circle cy="807" r="3.7"/><circle cy="802" r="3.7"/><circle cy="816" r="3.7"/><circle cy="814" r="3.7"/><circle cy="783" r="3.7"/><circle cy="769" r="3.7"/></g><g transform="translate(355.6)"><circle cy="752" r="3.7"/><circle cy="755" r="3.7"/><circle cy="782" r="3.7"/><circle cy="769" r="3.7"/><circle cy="754" r="3.7"/><circle cy="773" r="3.7"/><circle cy="751" r="3.7"/><circle cy="760" r="3.7"/><circle cy="756" r="3.7"/><circle cy="743" r="3.7"/><circle cy="799" r="3.7"/><circle cy="762" r="3.7"/><circle cy="767" r="3.7"/><circle cy="736" r="3.7"/><circle cy="764" r="3.7"/><circle cy="818" r="3.7"/><circle cy="812" r="3.7"/><circle cy="745" r="3.7"/><circle cy="766" r="3.7"/><circle cy="794" r="3.7"/><circle cy="785" r="3.7"/><circle cy="761" r="3.7"/><circle cy="787" r="3.7"/><circle cy="777" r="3.7"/><circle cy="775" r="3.7"/><circle cy="793" r="3.7"/><circle cy="795" r="3.7"/><circle cy="771" r="3.7"/><circle cy="809" r="3.7"/><circle cy="805" r="3.7"/><circle cy="783" r="3.7"/><circle cy="765" r="3.7"/><circle cy="780" r="3.7"/><circle cy="833" r="3.7"/><circle cy="757" r="3.7"/><circle cy="786" r="3.7"/><circle cy="781" r="3.7"/><circle cy="802" r="3.7"/><circle cy="820" r="3.7"/><circle cy="768" r="3.7"/><circle cy="797" r="3.7"/><circle cy="778" r="3.7"/><circle cy="798" r="3.7"/><circle cy="796" r="3.7"/><circle cy="789" r="3.7"/><circle cy="811" r="3.7"/></g><g transform="translate(363.9)"><circle cy="723" r="3.7"/><circle cy="823" r="3.7"/><circle cy="784" r="3.7"/><circle cy="756" r="3.7"/><circle cy="738" r="3.7"/><circle cy="719" r="3.7"/><circle cy="707" r="3.7"/><circle cy="742" r="3.7"/><circle cy="745" r="3.7"/><circle cy="747" r="3.7"/><circle cy="759" r="3.7"/><circle cy="829" r="3.7"/><circle cy="753" r="3.7"/><circle cy="718" r="3.7"/><circle cy="766" r="3.7"/><circle cy="757" r="3.7"/><circle cy="717" r="3.7"/><circle cy="798" r="3.7"/><circle cy="802" r="3.7"/><circle cy="740" r="3.7"/><circle cy="767" r="3.7"/><circle cy="736" r="3.7"/><circle cy="780" r="3.7"/><circle cy="734" r="3.7"/><circle cy="816" r="3.7"/><circle cy="775" r="3.7"/><circle cy="750" r="3.7"/><circle cy="762" r="3.7"/><circle cy="771" r="3.7"/><circle cy="806" r="3.7"/><circle cy="729" r="3.7"/><circle cy="754" r="3.7"/><circle cy="796" r="3.7"/><circle cy="709" r="3.7"/><circle cy="790" r="3.7"/><circle cy="778" r="3.7"/><circle cy="728" r="3.7"/><circle cy="781" r="3.7"/><circle cy="758" r="3.7"/><circle cy="774" r="3.7"/><circle cy="797" r="3.7"/><circle cy="735" r="3.7"/><circle cy="785" r="3.7"/><circle cy="776" r="3.7"/><circle cy="737" r="3.7"/><circle cy="793" r="3.7"/><circle cy="795" r="3.7"/><circle cy="765" r="3.7"/><circle cy="770" r="3.7"/><circle cy="769" r="3.7"/><circle cy="779" r="3.7"/><circle cy="783" r="3.7"/><circle cy="751" r="3.7"/><circle cy="822" r="3.7"/><circle cy="755" r="3.7"/><circle cy="788" r="3.7"/><circle cy="721" r="3.7"/><circle cy="761" r="3.7"/><circle cy="777" r="3.7"/><circle cy="697" r="3.7"/><circle cy="713" r="3.7"/></g><g transform="translate(372.3)"><circle cy="724" r="3.7"/><circle cy="774" r="3.7"/><circle cy="785" r="3.7"/><circle cy="827" r="3.7"/><circle cy="782" r="3.7"/><circle cy="813" r="3.7"/><circle cy="704" r="3.7"/><circle cy="769" r="3.7"/><circle cy="806" r="3.7"/><circle cy="798" r="3.7"/><circle cy="780" r="3.7"/><circle cy="801" r="3.7"/><circle cy="702" r="3.7"/><circle cy="821" r="3.7"/><circle cy="733" r="3.7"/><circle cy="771" r="3.7"/><circle cy="839" r="3.7"/><circle cy="812" r="3.7"/><circle cy="807" r="3.7"/><circle cy="809" r="3.7"/><circle cy="731" r="3.7"/><circle cy="792" r="3.7"/><circle cy="745" r="3.7"/><circle cy="750" r="3.7"/><circle cy="816" r="3.7"/><circle cy="788" r="3.7"/><circle cy="763" r="3.7"/><circle cy="818" r="3.7"/><circle cy="770" r="3.7"/><circle cy="738" r="3.7"/><circle cy="803" r="3.7"/><circle cy="797" r="3.7"/><circle cy="831" r="3.7"/><circle cy="841" r="3.7"/><circle cy="732" r="3.7"/><circle cy="779" r="3.7"/><circle cy="757" r="3.7"/><circle cy="741" r="3.7"/><circle cy="773" r="3.7"/><circle cy="778" r="3.7"/><circle cy="796" r="3.7"/><circle cy="802" r="3.7"/><circle cy="828" r="3.7"/><circle cy="787" r="3.7"/><circle cy="781" r="3.7"/><circle cy="754" r="3.7"/><circle cy="749" r="3.7"/><circle cy="759" r="3.7"/><circle cy="764" r="3.7"/><circle cy="758" r="3.7"/><circle cy="766" r="3.7"/><circle cy="791" r="3.7"/><circle cy="808" r="3.7"/><circle cy="768" r="3.7"/><circle cy="795" r="3.7"/><circle cy="789" r="3.7"/><circle cy="799" r="3.7"/><circle cy="777" r="3.7"/><circle cy="825" r="3.7"/><circle cy="723" r="3.7"/><circle cy="772" r="3.7"/><circle cy="819" r="3.7"/><circle cy="756" r="3.7"/><circle cy="776" r="3.7"/><circle cy="765" r="3.7"/><circle cy="701" r="3.7"/></g><g transform="translate(380.6)"><circle cy="739" r="3.7"/><circle cy="741" r="3.7"/><circle cy="762" r="3.7"/><circle cy="732" r="3.7"/><circle cy="769" r="3.7"/><circle cy="709" r="3.7"/><circle cy="778" r="3.7"/><circle cy="738" r="3.7"/><circle cy="721" r="3.7"/><circle cy="719" r="3.7"/><circle cy="780" r="3.7"/><circle cy="786" r="3.7"/><circle cy="789" r="3.7"/><circle cy="776" r="3.7"/><circle cy="799" r="3.7"/><circle cy="752" r="3.7"/><circle cy="745" r="3.7"/><circle cy="804" r="3.7"/><circle cy="735" r="3.7"/><circle cy="813" r="3.7"/><circle cy="794" r="3.7"/><circle cy="826" r="3.7"/><circle cy="783" r="3.7"/><circle cy="747" r="3.7"/><circle cy="802" r="3.7"/><circle cy="749" r="3.7"/><circle cy="797" r="3.7"/><circle cy="803" r="3.7"/><circle cy="751" r="3.7"/><circle cy="800" r="3.7"/><circle cy="737" r="3.7"/><circle cy="753" r="3.7"/><circle cy="765" r="3.7"/><circle cy="759" r="3.7"/><circle cy="772" r="3.7"/><circle cy="757" r="3.7"/><circle cy="814" r="3.7"/><circle cy="774" r="3.7"/><circle cy="750" r="3.7"/><circle cy="733" r="3.7"/><circle cy="756" r="3.7"/><circle cy="812" r="3.7"/><circle cy="818" r="3.7"/><circle cy="816" r="3.7"/><circle cy="815" r="3.7"/><circle cy="758" r="3.7"/><circle cy="746" r="3.7"/><circle cy="713" r="3.7"/><circle cy="731" r="3.7"/><circle cy="767" r="3.7"/><circle cy="742" r="3.7"/><circle cy="744" r="3.7"/><circle cy="729" r="3.7"/><circle cy="761" r="3.7"/><circle cy="798" r="3.7"/><circle cy="736" r="3.7"/><circle cy="777" r="3.7"/><circle cy="770" r="3.7"/><circle cy="795" r="3.7"/><circle cy="791" r="3.7"/><circle cy="754" r="3.7"/><circle cy="775" r="3.7"/><circle cy="768" r="3.7"/><circle cy="773" r="3.7"/><circle cy="717" r="3.7"/><circle cy="788" r="3.7"/><circle cy="728" r="3.7"/><circle cy="766" r="3.7"/><circle cy="760" r="3.7"/><circle cy="764" r="3.7"/><circle cy="763" r="3.7"/><circle cy="679" r="3.7"/></g><g transform="translate(388.9)"><circle cy="801" r="3.7"/><circle cy="739" r="3.7"/><circle cy="787" r="3.7"/><circle cy="788" r="3.7"/><circle cy="735" r="3.7"/><circle cy="737" r="3.7"/><circle cy="794" r="3.7"/><circle cy="820" r="3.7"/><circle cy="744" r="3.7"/><circle cy="796" r="3.7"/><circle cy="750" r="3.7"/><circle cy="777" r="3.7"/><circle cy="715" r="3.7"/><circle cy="765" r="3.7"/><circle cy="747" r="3.7"/><circle cy="784" r="3.7"/><circle cy="758" r="3.7"/><circle cy="791" r="3.7"/><circle cy="825" r="3.7"/><circle cy="761" r="3.7"/><circle cy="770" r="3.7"/><circle cy="766" r="3.7"/><circle cy="800" r="3.7"/><circle cy="745" r="3.7"/><circle cy="722" r="3.7"/><circle cy="769" r="3.7"/><circle cy="742" r="3.7"/><circle cy="802" r="3.7"/><circle cy="804" r="3.7"/><circle cy="757" r="3.7"/><circle cy="792" r="3.7"/><circle cy="752" r="3.7"/><circle cy="793" r="3.7"/><circle cy="789" r="3.7"/><circle cy="767" r="3.7"/><circle cy="760" r="3.7"/><circle cy="779" r="3.7"/><circle cy="764" r="3.7"/><circle cy="805" r="3.7"/><circle cy="778" r="3.7"/><circle cy="768" r="3.7"/><circle cy="756" r="3.7"/><circle cy="762" r="3.7"/><circle cy="754" r="3.7"/><circle cy="795" r="3.7"/><circle cy="736" r="3.7"/><circle cy="732" r="3.7"/><circle cy="782" r="3.7"/><circle cy="759" r="3.7"/><circle cy="797" r="3.7"/><circle cy="798" r="3.7"/><circle cy="753" r="3.7"/><circle cy="741" r="3.7"/><circle cy="771" r="3.7"/><circle cy="785" r="3.7"/><circle cy="786" r="3.7"/></g><g transform="translate(397.3)"><circle cy="732" r="3.7"/><circle cy="788" r="3.7"/><circle cy="805" r="3.7"/><circle cy="713" r="3.7"/><circle cy="817" r="3.7"/><circle cy="766" r="3.7"/><circle cy="796" r="3.7"/><circle cy="786" r="3.7"/><circle cy="744" r="3.7"/><circle cy="760" r="3.7"/><circle cy="731" r="3.7"/><circle cy="755" r="3.7"/><circle cy="763" r="3.7"/><circle cy="813" r="3.7"/><circle cy="759" r="3.7"/><circle cy="778" r="3.7"/><circle cy="751" r="3.7"/><circle cy="748" r="3.7"/><circle cy="764" r="3.7"/><circle cy="804" r="3.7"/><circle cy="773" r="3.7"/><circle cy="745" r="3.7"/><circle cy="753" r="3.7"/><circle cy="739" r="3.7"/><circle cy="794" r="3.7"/><circle cy="775" r="3.7"/><circle cy="801" r="3.7"/><circle cy="747" r="3.7"/><circle cy="799" r="3.7"/><circle cy="808" r="3.7"/><circle cy="754" r="3.7"/><circle cy="765" r="3.7"/><circle cy="791" r="3.7"/><circle cy="783" r="3.7"/><circle cy="771" r="3.7"/><circle cy="785" r="3.7"/><circle cy="721" r="3.7"/><circle cy="756" r="3.7"/><circle cy="774" r="3.7"/><circle cy="752" r="3.7"/><circle cy="758" r="3.7"/><circle cy="740" r="3.7"/><circle cy="733" r="3.7"/><circle cy="782" r="3.7"/><circle cy="777" r="3.7"/><circle cy="772" r="3.7"/><circle cy="767" r="3.7"/><circle cy="749" r="3.7"/><circle cy="781" r="3.7"/><circle cy="707" r="3.7"/><circle cy="793" r="3.7"/><circle cy="750" r="3.7"/><circle cy="798" r="3.7"/><circle cy="810" r="3.7"/><circle cy="736" r="3.7"/><circle cy="768" r="3.7"/><circle cy="761" r="3.7"/><circle cy="795" r="3.7"/><circle cy="784" r="3.7"/><circle cy="802" r="3.7"/><circle cy="738" r="3.7"/><circle cy="641" r="3.7"/><circle cy="666" r="3.7"/><circle cy="708" r="3.7"/></g><g transform="translate(405.6)"><circle cy="810" r="3.7"/><circle cy="775" r="3.7"/><circle cy="740" r="3.7"/><circle cy="796" r="3.7"/><circle cy="726" r="3.7"/><circle cy="758" r="3.7"/><circle cy="744" r="3.7"/><circle cy="755" r="3.7"/><circle cy="811" r="3.7"/><circle cy="777" r="3.7"/><circle cy="779" r="3.7"/><circle cy="757" r="3.7"/><circle cy="786" r="3.7"/><circle cy="780" r="3.7"/><circle cy="789" r="3.7"/><circle cy="713" r="3.7"/><circle cy="743" r="3.7"/><circle cy="763" r="3.7"/><circle cy="807" r="3.7"/><circle cy="754" r="3.7"/><circle cy="746" r="3.7"/><circle cy="812" r="3.7"/><circle cy="804" r="3.7"/><circle cy="724" r="3.7"/><circle cy="734" r="3.7"/><circle cy="778" r="3.7"/><circle cy="768" r="3.7"/><circle cy="802" r="3.7"/><circle cy="771" r="3.7"/><circle cy="756" r="3.7"/><circle cy="816" r="3.7"/><circle cy="821" r="3.7"/><circle cy="788" r="3.7"/><circle cy="764" r="3.7"/><circle cy="782" r="3.7"/><circle cy="770" r="3.7"/><circle cy="814" r="3.7"/><circle cy="739" r="3.7"/><circle cy="797" r="3.7"/><circle cy="709" r="3.7"/><circle cy="761" r="3.7"/><circle cy="714" r="3.7"/><circle cy="800" r="3.7"/><circle cy="717" r="3.7"/><circle cy="745" r="3.7"/><circle cy="748" r="3.7"/><circle cy="760" r="3.7"/><circle cy="794" r="3.7"/><circle cy="806" r="3.7"/><circle cy="772" r="3.7"/><circle cy="752" r="3.7"/><circle cy="747" r="3.7"/><circle cy="749" r="3.7"/><circle cy="741" r="3.7"/><circle cy="769" r="3.7"/><circle cy="753" r="3.7"/><circle cy="790" r="3.7"/><circle cy="776" r="3.7"/><circle cy="759" r="3.7"/><circle cy="751" r="3.7"/><circle cy="766" r="3.7"/><circle cy="774" r="3.7"/><circle cy="773" r="3.7"/><circle cy="784" r="3.7"/><circle cy="799" r="3.7"/><circle cy="767" r="3.7"/><circle cy="781" r="3.7"/><circle cy="694" r="3.7"/></g><g transform="translate(413.9)"><circle cy="811" r="3.7"/><circle cy="782" r="3.7"/><circle cy="747" r="3.7"/><circle cy="789" r="3.7"/><circle cy="794" r="3.7"/><circle cy="748" r="3.7"/><circle cy="793" r="3.7"/><circle cy="807" r="3.7"/><circle cy="798" r="3.7"/><circle cy="810" r="3.7"/><circle cy="735" r="3.7"/><circle cy="741" r="3.7"/><circle cy="730" r="3.7"/><circle cy="795" r="3.7"/><circle cy="806" r="3.7"/><circle cy="772" r="3.7"/><circle cy="786" r="3.7"/><circle cy="749" r="3.7"/><circle cy="739" r="3.7"/><circle cy="775" r="3.7"/><circle cy="756" r="3.7"/><circle cy="769" r="3.7"/><circle cy="744" r="3.7"/><circle cy="745" r="3.7"/><circle cy="754" r="3.7"/><circle cy="817" r="3.7"/><circle cy="738" r="3.7"/><circle cy="764" r="3.7"/><circle cy="762" r="3.7"/><circle cy="758" r="3.7"/><circle cy="778" r="3.7"/><circle cy="765" r="3.7"/><circle cy="774" r="3.7"/><circle cy="757" r="3.7"/><circle cy="763" r="3.7"/><circle cy="803" r="3.7"/><circle cy="776" r="3.7"/><circle cy="746" r="3.7"/><circle cy="752" r="3.7"/><circle cy="779" r="3.7"/><circle cy="753" r="3.7"/><circle cy="768" r="3.7"/><circle cy="790" r="3.7"/><circle cy="780" r="3.7"/><circle cy="761" r="3.7"/><circle cy="777" r="3.7"/><circle cy="773" r="3.7"/><circle cy="781" r="3.7"/><circle cy="767" r="3.7"/><circle cy="771" r="3.7"/><circle cy="751" r="3.7"/></g><g transform="translate(422.3)"><circle cy="793" r="3.7"/><circle cy="778" r="3.7"/><circle cy="744" r="3.7"/><circle cy="784" r="3.7"/><circle cy="722" r="3.7"/><circle cy="801" r="3.7"/><circle cy="753" r="3.7"/><circle cy="754" r="3.7"/><circle cy="737" r="3.7"/><circle cy="768" r="3.7"/><circle cy="752" r="3.7"/><circle cy="790" r="3.7"/><circle cy="746" r="3.7"/><circle cy="761" r="3.7"/><circle cy="782" r="3.7"/><circle cy="776" r="3.7"/><circle cy="812" r="3.7"/><circle cy="770" r="3.7"/><circle cy="772" r="3.7"/><circle cy="767" r="3.7"/><circle cy="764" r="3.7"/><circle cy="747" r="3.7"/><circle cy="775" r="3.7"/><circle cy="815" r="3.7"/><circle cy="745" r="3.7"/><circle cy="785" r="3.7"/><circle cy="810" r="3.7"/><circle cy="777" r="3.7"/><circle cy="725" r="3.7"/><circle cy="780" r="3.7"/><circle cy="795" r="3.7"/><circle cy="791" r="3.7"/><circle cy="771" r="3.7"/><circle cy="808" r="3.7"/><circle cy="759" r="3.7"/><circle cy="797" r="3.7"/><circle cy="756" r="3.7"/><circle cy="766" r="3.7"/><circle cy="762" r="3.7"/><circle cy="765" r="3.7"/><circle cy="736" r="3.7"/><circle cy="742" r="3.7"/><circle cy="788" r="3.7"/><circle cy="741" r="3.7"/><circle cy="758" r="3.7"/><circle cy="730" r="3.7"/><circle cy="794" r="3.7"/><circle cy="779" r="3.7"/><circle cy="739" r="3.7"/><circle cy="769" r="3.7"/><circle cy="773" r="3.7"/><circle cy="786" r="3.7"/><circle cy="757" r="3.7"/><circle cy="760" r="3.7"/><circle cy="787" r="3.7"/><circle cy="850" r="3.7"/></g><g transform="translate(430.6)"><circle cy="765" r="3.7"/><circle cy="746" r="3.7"/><circle cy="734" r="3.7"/><circle cy="747" r="3.7"/><circle cy="762" r="3.7"/><circle cy="740" r="3.7"/><circle cy="770" r="3.7"/><circle cy="721" r="3.7"/><circle cy="739" r="3.7"/><circle cy="760" r="3.7"/><circle cy="757" r="3.7"/><circle cy="759" r="3.7"/><circle cy="750" r="3.7"/><circle cy="768" r="3.7"/><circle cy="726" r="3.7"/><circle cy="702" r="3.7"/><circle cy="736" r="3.7"/><circle cy="763" r="3.7"/><circle cy="743" r="3.7"/><circle cy="724" r="3.7"/><circle cy="774" r="3.7"/><circle cy="792" r="3.7"/><circle cy="779" r="3.7"/><circle cy="795" r="3.7"/><circle cy="754" r="3.7"/><circle cy="758" r="3.7"/><circle cy="780" r="3.7"/><circle cy="775" r="3.7"/><circle cy="731" r="3.7"/><circle cy="752" r="3.7"/><circle cy="756" r="3.7"/><circle cy="766" r="3.7"/><circle cy="767" r="3.7"/><circle cy="769" r="3.7"/><circle cy="783" r="3.7"/><circle cy="742" r="3.7"/><circle cy="744" r="3.7"/><circle cy="748" r="3.7"/><circle cy="704" r="3.7"/></g><g transform="translate(438.9)"><circle cy="737" r="3.7"/><circle cy="760" r="3.7"/><circle cy="766" r="3.7"/><circle cy="740" r="3.7"/><circle cy="762" r="3.7"/><circle cy="756" r="3.7"/><circle cy="721" r="3.7"/><circle cy="771" r="3.7"/><circle cy="763" r="3.7"/><circle cy="767" r="3.7"/><circle cy="754" r="3.7"/><circle cy="782" r="3.7"/><circle cy="769" r="3.7"/><circle cy="755" r="3.7"/><circle cy="785" r="3.7"/><circle cy="733" r="3.7"/><circle cy="798" r="3.7"/><circle cy="744" r="3.7"/><circle cy="772" r="3.7"/><circle cy="774" r="3.7"/><circle cy="770" r="3.7"/><circle cy="781" r="3.7"/><circle cy="765" r="3.7"/><circle cy="752" r="3.7"/><circle cy="748" r="3.7"/><circle cy="735" r="3.7"/><circle cy="779" r="3.7"/><circle cy="736" r="3.7"/><circle cy="764" r="3.7"/><circle cy="753" r="3.7"/><circle cy="741" r="3.7"/><circle cy="745" r="3.7"/><circle cy="747" r="3.7"/><circle cy="775" r="3.7"/><circle cy="761" r="3.7"/><circle cy="777" r="3.7"/></g><g transform="translate(447.3)"><circle cy="731" r="3.7"/><circle cy="769" r="3.7"/><circle cy="763" r="3.7"/><circle cy="746" r="3.7"/><circle cy="760" r="3.7"/><circle cy="782" r="3.7"/><circle cy="750" r="3.7"/><circle cy="767" r="3.7"/><circle cy="768" r="3.7"/><circle cy="789" r="3.7"/><circle cy="770" r="3.7"/><circle cy="757" r="3.7"/><circle cy="784" r="3.7"/><circle cy="727" r="3.7"/><circle cy="775" r="3.7"/><circle cy="747" r="3.7"/><circle cy="774" r="3.7"/><circle cy="745" r="3.7"/><circle cy="764" r="3.7"/><circle cy="771" r="3.7"/><circle cy="802" r="3.7"/><circle cy="761" r="3.7"/><circle cy="713" r="3.7"/></g><g transform="translate(455.6)"><circle cy="731" r="3.7"/><circle cy="750" r="3.7"/><circle cy="756" r="3.7"/><circle cy="773" r="3.7"/><circle cy="777" r="3.7"/></g><g transform="translate(463.9)"><circle cy="740" r="3.7"/><circle cy="778" r="3.7"/><circle cy="787" r="3.7"/><circle cy="799" r="3.7"/></g><g transform="translate(472.3)"><circle cy="725" r="3.7"/><circle cy="733" r="3.7"/><circle cy="747" r="3.7"/><circle cy="758" r="3.7"/><circle cy="763" r="3.7"/><circle cy="769" r="3.7"/><circle cy="782" r="3.7"/><circle cy="795" r="3.7"/></g><g transform="translate(480.6)"><circle cy="749" r="3.7"/><circle cy="762" r="3.7"/><circle cy="779" r="3.7"/></g><g transform="translate(488.9)"><circle cy="728" r="3.7"/><circle cy="732" r="3.7"/></g><g transform="translate(497.3)"><circle cy="752" r="3.7"/><circle cy="759" r="3.7"/><circle cy="786" r="3.7"/></g><g transform="translate(505.6)"><circle cy="750" r="3.7"/></g><g transform="translate(513.9)"><circle cy="776" r="3.7"/></g><g transform="translate(522.3)"><circle cy="654" r="3.7"/></g></g><g class="w"><g transform="translate(148)"><circle cy="822" r="3.7"/><circle cy="818" r="3.7"/><circle cy="828" r="3.7"/><circle cy="813" r="3.7"/><circle cy="838" r="3.7"/><circle cy="821" r="3.7"/><circle cy="817" r="3.7"/><circle cy="860" r="3.7"/><circle cy="807" r="3.7"/><circle cy="811" r="3.7"/><circle cy="839" r="3.7"/><circle cy="814" r="3.7"/><circle cy="823" r="3.7"/><circle cy="853" r="3.7"/><circle cy="824" r="3.7"/><circle cy="816" r="3.7"/><circle cy="840" r="3.7"/><circle cy="815" r="3.7"/><circle cy="827" r="3.7"/><circle cy="842" r="3.7"/><circle cy="850" r="3.7"/><circle cy="848" r="3.7"/><circle cy="826" r="3.7"/><circle cy="835" r="3.7"/><circle cy="834" r="3.7"/><circle cy="849" r="3.7"/><circle cy="836" r="3.7"/><circle cy="843" r="3.7"/><circle cy="829" r="3.7"/><circle cy="854" r="3.7"/><circle cy="837" r="3.7"/><circle cy="859" r="3.7"/><circle cy="855" r="3.7"/><circle cy="847" r="3.7"/><circle cy="819" r="3.7"/><circle cy="833" r="3.7"/><circle cy="810" r="3.7"/><circle cy="832" r="3.7"/><circle cy="844" r="3.7"/><circle cy="809" r="3.7"/></g><g transform="translate(155.6)"><circle cy="813" r="3.7"/><circle cy="828" r="3.7"/><circle cy="817" r="3.7"/><circle cy="815" r="3.7"/><circle cy="835" r="3.7"/><circle cy="831" r="3.7"/><circle cy="829" r="3.7"/><circle cy="807" r="3.7"/><circle cy="824" r="3.7"/><circle cy="808" r="3.7"/><circle cy="832" r="3.7"/><circle cy="842" r="3.7"/><circle cy="850" r="3.7"/><circle cy="821" r="3.7"/><circle cy="830" r="3.7"/><circle cy="819" r="3.7"/><circle cy="833" r="3.7"/><circle cy="825" r="3.7"/><circle cy="862" r="3.7"/><circle cy="820" r="3.7"/><circle cy="823" r="3.7"/><circle cy="855" r="3.7"/><circle cy="805" r="3.7"/><circle cy="840" r="3.7"/><circle cy="809" r="3.7"/><circle cy="849" r="3.7"/><circle cy="838" r="3.7"/><circle cy="836" r="3.7"/><circle cy="834" r="3.7"/><circle cy="845" r="3.7"/><circle cy="839" r="3.7"/><circle cy="851" r="3.7"/></g><g transform="translate(163.9)"><circle cy="846" r="3.7"/><circle cy="826" r="3.7"/><circle cy="815" r="3.7"/><circle cy="834" r="3.7"/><circle cy="824" r="3.7"/><circle cy="818" r="3.7"/><circle cy="827" r="3.7"/><circle cy="833" r="3.7"/><circle cy="810" r="3.7"/><circle cy="836" r="3.7"/><circle cy="849" r="3.7"/><circle cy="837" r="3.7"/><circle cy="825" r="3.7"/><circle cy="821" r="3.7"/><circle cy="840" r="3.7"/><circle cy="845" r="3.7"/><circle cy="844" r="3.7"/><circle cy="812" r="3.7"/><circle cy="830" r="3.7"/><circle cy="857" r="3.7"/><circle cy="828" r="3.7"/><circle cy="814" r="3.7"/><circle cy="823" r="3.7"/><circle cy="822" r="3.7"/><circle cy="843" r="3.7"/><circle cy="842" r="3.7"/><circle cy="806" r="3.7"/><circle cy="831" r="3.7"/><circle cy="853" r="3.7"/><circle cy="816" r="3.7"/></g><g transform="translate(172.2)"><circle cy="814" r="3.7"/><circle cy="829" r="3.7"/><circle cy="850" r="3.7"/><circle cy="812" r="3.7"/><circle cy="835" r="3.7"/><circle cy="832" r="3.7"/><circle cy="811" r="3.7"/><circle cy="826" r="3.7"/><circle cy="824" r="3.7"/><circle cy="817" r="3.7"/><circle cy="825" r="3.7"/><circle cy="808" r="3.7"/><circle cy="843" r="3.7"/><circle cy="839" r="3.7"/><circle cy="827" r="3.7"/><circle cy="806" r="3.7"/><circle cy="818" r="3.7"/><circle cy="828" r="3.7"/><circle cy="845" r="3.7"/><circle cy="837" r="3.7"/><circle cy="849" r="3.7"/><circle cy="841" r="3.7"/><circle cy="820" r="3.7"/><circle cy="840" r="3.7"/><circle cy="834" r="3.7"/><circle cy="844" r="3.7"/><circle cy="830" r="3.7"/><circle cy="819" r="3.7"/><circle cy="833" r="3.7"/></g><g transform="translate(180.6)"><circle cy="830" r="3.7"/><circle cy="829" r="3.7"/><circle cy="831" r="3.7"/><circle cy="809" r="3.7"/><circle cy="845" r="3.7"/><circle cy="842" r="3.7"/><circle cy="814" r="3.7"/><circle cy="855" r="3.7"/><circle cy="826" r="3.7"/><circle cy="824" r="3.7"/><circle cy="844" r="3.7"/><circle cy="840" r="3.7"/><circle cy="835" r="3.7"/><circle cy="818" r="3.7"/><circle cy="816" r="3.7"/><circle cy="827" r="3.7"/><circle cy="833" r="3.7"/><circle cy="846" r="3.7"/><circle cy="858" r="3.7"/><circle cy="828" r="3.7"/><circle cy="821" r="3.7"/><circle cy="838" r="3.7"/><circle cy="848" r="3.7"/><circle cy="839" r="3.7"/><circle cy="843" r="3.7"/><circle cy="820" r="3.7"/><circle cy="832" r="3.7"/><circle cy="767" r="3.7"/></g><g transform="translate(188.9)"><circle cy="824" r="3.7"/><circle cy="837" r="3.7"/><circle cy="847" r="3.7"/><circle cy="819" r="3.7"/><circle cy="811" r="3.7"/><circle cy="831" r="3.7"/><circle cy="809" r="3.7"/><circle cy="842" r="3.7"/><circle cy="818" r="3.7"/><circle cy="841" r="3.7"/><circle cy="844" r="3.7"/><circle cy="802" r="3.7"/><circle cy="814" r="3.7"/><circle cy="833" r="3.7"/><circle cy="855" r="3.7"/><circle cy="839" r="3.7"/><circle cy="830" r="3.7"/><circle cy="836" r="3.7"/><circle cy="863" r="3.7"/><circle cy="835" r="3.7"/><circle cy="840" r="3.7"/><circle cy="821" r="3.7"/><circle cy="826" r="3.7"/><circle cy="838" r="3.7"/><circle cy="829" r="3.7"/><circle cy="827" r="3.7"/><circle cy="828" r="3.7"/><circle cy="848" r="3.7"/></g><g transform="translate(197.2)"><circle cy="845" r="3.7"/><circle cy="811" r="3.7"/><circle cy="820" r="3.7"/><circle cy="814" r="3.7"/><circle cy="813" r="3.7"/><circle cy="817" r="3.7"/><circle cy="823" r="3.7"/><circle cy="846" r="3.7"/><circle cy="832" r="3.7"/><circle cy="821" r="3.7"/><circle cy="838" r="3.7"/><circle cy="819" r="3.7"/><circle cy="826" r="3.7"/><circle cy="834" r="3.7"/><circle cy="836" r="3.7"/><circle cy="824" r="3.7"/><circle cy="822" r="3.7"/><circle cy="830" r="3.7"/><circle cy="828" r="3.7"/><circle cy="816" r="3.7"/><circle cy="837" r="3.7"/><circle cy="833" r="3.7"/><circle cy="827" r="3.7"/></g><g transform="translate(205.6)"><circle cy="834" r="3.7"/><circle cy="833" r="3.7"/><circle cy="823" r="3.7"/><circle cy="797" r="3.7"/><circle cy="843" r="3.7"/><circle cy="838" r="3.7"/><circle cy="844" r="3.7"/><circle cy="811" r="3.7"/><circle cy="846" r="3.7"/><circle cy="842" r="3.7"/><circle cy="813" r="3.7"/><circle cy="827" r="3.7"/><circle cy="850" r="3.7"/><circle cy="819" r="3.7"/><circle cy="807" r="3.7"/><circle cy="848" r="3.7"/><circle cy="845" r="3.7"/><circle cy="841" r="3.7"/><circle cy="814" r="3.7"/><circle cy="847" r="3.7"/><circle cy="830" r="3.7"/><circle cy="826" r="3.7"/><circle cy="852" r="3.7"/><circle cy="835" r="3.7"/><circle cy="839" r="3.7"/><circle cy="822" r="3.7"/><circle cy="824" r="3.7"/><circle cy="818" r="3.7"/><circle cy="837" r="3.7"/><circle cy="829" r="3.7"/></g><g transform="translate(213.9)"><circle cy="815" r="3.7"/><circle cy="832" r="3.7"/><circle cy="822" r="3.7"/><circle cy="834" r="3.7"/><circle cy="839" r="3.7"/><circle cy="829" r="3.7"/><circle cy="845" r="3.7"/><circle cy="819" r="3.7"/><circle cy="830" r="3.7"/><circle cy="808" r="3.7"/><circle cy="831" r="3.7"/><circle cy="837" r="3.7"/><circle cy="828" r="3.7"/><circle cy="825" r="3.7"/><circle cy="842" r="3.7"/><circle cy="836" r="3.7"/><circle cy="841" r="3.7"/><circle cy="821" r="3.7"/><circle cy="817" r="3.7"/><circle cy="818" r="3.7"/><circle cy="835" r="3.7"/><circle cy="827" r="3.7"/><circle cy="807" r="3.7"/></g><g transform="translate(222.2)"><circle cy="814" r="3.7"/><circle cy="851" r="3.7"/><circle cy="815" r="3.7"/><circle cy="816" r="3.7"/><circle cy="828" r="3.7"/><circle cy="820" r="3.7"/><circle cy="829" r="3.7"/><circle cy="834" r="3.7"/><circle cy="812" r="3.7"/><circle cy="844" r="3.7"/><circle cy="817" r="3.7"/><circle cy="818" r="3.7"/><circle cy="801" r="3.7"/><circle cy="833" r="3.7"/><circle cy="839" r="3.7"/><circle cy="811" r="3.7"/><circle cy="825" r="3.7"/><circle cy="843" r="3.7"/><circle cy="819" r="3.7"/><circle cy="807" r="3.7"/><circle cy="797" r="3.7"/><circle cy="832" r="3.7"/><circle cy="838" r="3.7"/><circle cy="841" r="3.7"/><circle cy="810" r="3.7"/><circle cy="804" r="3.7"/><circle cy="830" r="3.7"/><circle cy="803" r="3.7"/><circle cy="808" r="3.7"/><circle cy="849" r="3.7"/></g><g transform="translate(230.6)"><circle cy="849" r="3.7"/><circle cy="821" r="3.7"/><circle cy="836" r="3.7"/><circle cy="824" r="3.7"/><circle cy="815" r="3.7"/><circle cy="827" r="3.7"/><circle cy="853" r="3.7"/><circle cy="854" r="3.7"/><circle cy="823" r="3.7"/><circle cy="817" r="3.7"/><circle cy="809" r="3.7"/><circle cy="814" r="3.7"/><circle cy="820" r="3.7"/><circle cy="840" r="3.7"/><circle cy="847" r="3.7"/><circle cy="813" r="3.7"/><circle cy="811" r="3.7"/><circle cy="830" r="3.7"/><circle cy="804" r="3.7"/><circle cy="792" r="3.7"/><circle cy="806" r="3.7"/><circle cy="825" r="3.7"/><circle cy="833" r="3.7"/><circle cy="812" r="3.7"/><circle cy="828" r="3.7"/><circle cy="778" r="3.7"/></g><g transform="translate(238.9)"><circle cy="838" r="3.7"/><circle cy="827" r="3.7"/><circle cy="821" r="3.7"/><circle cy="813" r="3.7"/><circle cy="801" r="3.7"/><circle cy="816" r="3.7"/><circle cy="820" r="3.7"/><circle cy="811" r="3.7"/><circle cy="793" r="3.7"/><circle cy="819" r="3.7"/><circle cy="798" r="3.7"/><circle cy="817" r="3.7"/><circle cy="799" r="3.7"/><circle cy="804" r="3.7"/><circle cy="812" r="3.7"/><circle cy="826" r="3.7"/><circle cy="828" r="3.7"/><circle cy="844" r="3.7"/><circle cy="847" r="3.7"/><circle cy="782" r="3.7"/><circle cy="814" r="3.7"/><circle cy="807" r="3.7"/><circle cy="839" r="3.7"/><circle cy="806" r="3.7"/><circle cy="829" r="3.7"/><circle cy="803" r="3.7"/><circle cy="786" r="3.7"/><circle cy="810" r="3.7"/></g><g transform="translate(247.2)"><circle cy="833" r="3.7"/><circle cy="818" r="3.7"/><circle cy="809" r="3.7"/><circle cy="800" r="3.7"/><circle cy="780" r="3.7"/><circle cy="814" r="3.7"/><circle cy="792" r="3.7"/><circle cy="816" r="3.7"/><circle cy="791" r="3.7"/><circle cy="795" r="3.7"/><circle cy="828" r="3.7"/><circle cy="790" r="3.7"/><circle cy="812" r="3.7"/><circle cy="820" r="3.7"/><circle cy="832" r="3.7"/><circle cy="799" r="3.7"/><circle cy="787" r="3.7"/><circle cy="817" r="3.7"/><circle cy="806" r="3.7"/><circle cy="824" r="3.7"/><circle cy="788" r="3.7"/><circle cy="794" r="3.7"/><circle cy="811" r="3.7"/><circle cy="802" r="3.7"/><circle cy="772" r="3.7"/><circle cy="815" r="3.7"/><circle cy="808" r="3.7"/><circle cy="776" r="3.7"/><circle cy="854" r="3.7"/><circle cy="863" r="3.7"/></g><g transform="translate(255.6)"><circle cy="802" r="3.7"/><circle cy="824" r="3.7"/><circle cy="808" r="3.7"/><circle cy="831" r="3.7"/><circle cy="811" r="3.7"/><circle cy="816" r="3.7"/><circle cy="800" r="3.7"/><circle cy="819" r="3.7"/><circle cy="805" r="3.7"/><circle cy="828" r="3.7"/><circle cy="834" r="3.7"/><circle cy="843" r="3.7"/><circle cy="803" r="3.7"/><circle cy="814" r="3.7"/><circle cy="807" r="3.7"/><circle cy="801" r="3.7"/><circle cy="815" r="3.7"/><circle cy="806" r="3.7"/><circle cy="823" r="3.7"/><circle cy="839" r="3.7"/><circle cy="845" r="3.7"/><circle cy="818" r="3.7"/><circle cy="812" r="3.7"/><circle cy="836" r="3.7"/><circle cy="793" r="3.7"/><circle cy="825" r="3.7"/><circle cy="827" r="3.7"/><circle cy="822" r="3.7"/><circle cy="850" r="3.7"/></g><g transform="translate(263.9)"><circle cy="843" r="3.7"/><circle cy="797" r="3.7"/><circle cy="821" r="3.7"/><circle cy="782" r="3.7"/><circle cy="811" r="3.7"/><circle cy="812" r="3.7"/><circle cy="802" r="3.7"/><circle cy="806" r="3.7"/><circle cy="820" r="3.7"/><circle cy="800" r="3.7"/><circle cy="803" r="3.7"/><circle cy="826" r="3.7"/><circle cy="801" r="3.7"/><circle cy="831" r="3.7"/><circle cy="814" r="3.7"/><circle cy="824" r="3.7"/><circle cy="818" r="3.7"/><circle cy="836" r="3.7"/><circle cy="846" r="3.7"/><circle cy="799" r="3.7"/><circle cy="832" r="3.7"/><circle cy="810" r="3.7"/><circle cy="834" r="3.7"/></g><g transform="translate(272.2)"><circle cy="796" r="3.7"/><circle cy="805" r="3.7"/><circle cy="818" r="3.7"/><circle cy="820" r="3.7"/><circle cy="809" r="3.7"/><circle cy="815" r="3.7"/><circle cy="808" r="3.7"/><circle cy="793" r="3.7"/><circle cy="787" r="3.7"/><circle cy="831" r="3.7"/><circle cy="835" r="3.7"/><circle cy="804" r="3.7"/><circle cy="825" r="3.7"/><circle cy="813" r="3.7"/><circle cy="803" r="3.7"/><circle cy="816" r="3.7"/><circle cy="839" r="3.7"/><circle cy="826" r="3.7"/><circle cy="786" r="3.7"/><circle cy="810" r="3.7"/><circle cy="840" r="3.7"/><circle cy="845" r="3.7"/><circle cy="814" r="3.7"/><circle cy="819" r="3.7"/><circle cy="801" r="3.7"/></g><g transform="translate(280.6)"><circle cy="810" r="3.7"/><circle cy="812" r="3.7"/><circle cy="817" r="3.7"/><circle cy="814" r="3.7"/><circle cy="802" r="3.7"/><circle cy="816" r="3.7"/><circle cy="827" r="3.7"/><circle cy="791" r="3.7"/><circle cy="823" r="3.7"/><circle cy="800" r="3.7"/><circle cy="805" r="3.7"/><circle cy="806" r="3.7"/><circle cy="786" r="3.7"/><circle cy="818" r="3.7"/><circle cy="820" r="3.7"/><circle cy="831" r="3.7"/><circle cy="811" r="3.7"/><circle cy="809" r="3.7"/><circle cy="793" r="3.7"/><circle cy="784" r="3.7"/><circle cy="819" r="3.7"/><circle cy="824" r="3.7"/><circle cy="798" r="3.7"/><circle cy="808" r="3.7"/></g><g transform="translate(288.9)"><circle cy="782" r="3.7"/><circle cy="785" r="3.7"/><circle cy="807" r="3.7"/><circle cy="810" r="3.7"/><circle cy="793" r="3.7"/><circle cy="798" r="3.7"/><circle cy="811" r="3.7"/><circle cy="786" r="3.7"/><circle cy="819" r="3.7"/><circle cy="795" r="3.7"/><circle cy="802" r="3.7"/><circle cy="773" r="3.7"/><circle cy="820" r="3.7"/><circle cy="766" r="3.7"/><circle cy="779" r="3.7"/><circle cy="789" r="3.7"/><circle cy="837" r="3.7"/><circle cy="800" r="3.7"/><circle cy="813" r="3.7"/><circle cy="841" r="3.7"/><circle cy="833" r="3.7"/><circle cy="816" r="3.7"/><circle cy="791" r="3.7"/><circle cy="814" r="3.7"/><circle cy="832" r="3.7"/><circle cy="822" r="3.7"/></g><g transform="translate(297.2)"><circle cy="838" r="3.7"/><circle cy="769" r="3.7"/><circle cy="835" r="3.7"/><circle cy="807" r="3.7"/><circle cy="755" r="3.7"/><circle cy="801" r="3.7"/><circle cy="792" r="3.7"/><circle cy="814" r="3.7"/><circle cy="803" r="3.7"/><circle cy="775" r="3.7"/><circle cy="776" r="3.7"/><circle cy="804" r="3.7"/><circle cy="813" r="3.7"/><circle cy="784" r="3.7"/><circle cy="785" r="3.7"/><circle cy="780" r="3.7"/><circle cy="761" r="3.7"/><circle cy="798" r="3.7"/><circle cy="782" r="3.7"/><circle cy="816" r="3.7"/><circle cy="810" r="3.7"/><circle cy="809" r="3.7"/></g><g transform="translate(305.6)"><circle cy="827" r="3.7"/><circle cy="766" r="3.7"/><circle cy="830" r="3.7"/><circle cy="804" r="3.7"/><circle cy="786" r="3.7"/><circle cy="819" r="3.7"/><circle cy="792" r="3.7"/><circle cy="806" r="3.7"/><circle cy="798" r="3.7"/><circle cy="771" r="3.7"/><circle cy="775" r="3.7"/><circle cy="776" r="3.7"/><circle cy="796" r="3.7"/><circle cy="787" r="3.7"/><circle cy="801" r="3.7"/><circle cy="808" r="3.7"/><circle cy="762" r="3.7"/><circle cy="793" r="3.7"/><circle cy="791" r="3.7"/><circle cy="833" r="3.7"/><circle cy="794" r="3.7"/></g><g transform="translate(313.9)"><circle cy="809" r="3.7"/><circle cy="819" r="3.7"/><circle cy="822" r="3.7"/><circle cy="815" r="3.7"/><circle cy="810" r="3.7"/><circle cy="789" r="3.7"/><circle cy="786" r="3.7"/><circle cy="802" r="3.7"/><circle cy="798" r="3.7"/><circle cy="803" r="3.7"/><circle cy="816" r="3.7"/><circle cy="826" r="3.7"/><circle cy="792" r="3.7"/><circle cy="797" r="3.7"/><circle cy="763" r="3.7"/><circle cy="817" r="3.7"/><circle cy="785" r="3.7"/><circle cy="778" r="3.7"/><circle cy="787" r="3.7"/><circle cy="783" r="3.7"/><circle cy="791" r="3.7"/><circle cy="814" r="3.7"/><circle cy="812" r="3.7"/></g><g transform="translate(322.2)"><circle cy="797" r="3.7"/><circle cy="783" r="3.7"/><circle cy="788" r="3.7"/><circle cy="829" r="3.7"/><circle cy="809" r="3.7"/><circle cy="794" r="3.7"/><circle cy="791" r="3.7"/><circle cy="812" r="3.7"/><circle cy="796" r="3.7"/><circle cy="776" r="3.7"/><circle cy="804" r="3.7"/><circle cy="781" r="3.7"/><circle cy="803" r="3.7"/><circle cy="799" r="3.7"/><circle cy="811" r="3.7"/><circle cy="821" r="3.7"/><circle cy="807" r="3.7"/><circle cy="835" r="3.7"/><circle cy="819" r="3.7"/></g><g transform="translate(330.6)"><circle cy="817" r="3.7"/><circle cy="821" r="3.7"/><circle cy="836" r="3.7"/><circle cy="777" r="3.7"/><circle cy="809" r="3.7"/><circle cy="778" r="3.7"/><circle cy="791" r="3.7"/><circle cy="789" r="3.7"/><circle cy="792" r="3.7"/><circle cy="773" r="3.7"/><circle cy="796" r="3.7"/><circle cy="830" r="3.7"/><circle cy="765" r="3.7"/><circle cy="811" r="3.7"/><circle cy="814" r="3.7"/><circle cy="781" r="3.7"/><circle cy="806" r="3.7"/><circle cy="782" r="3.7"/></g><g transform="translate(338.9)"><circle cy="804" r="3.7"/><circle cy="775" r="3.7"/><circle cy="750" r="3.7"/><circle cy="824" r="3.7"/><circle cy="803" r="3.7"/><circle cy="753" r="3.7"/><circle cy="807" r="3.7"/><circle cy="799" r="3.7"/><circle cy="794" r="3.7"/><circle cy="789" r="3.7"/><circle cy="786" r="3.7"/><circle cy="796" r="3.7"/><circle cy="787" r="3.7"/><circle cy="771" r="3.7"/><circle cy="768" r="3.7"/><circle cy="816" r="3.7"/><circle cy="792" r="3.7"/></g><g transform="translate(347.3)"><circle cy="758" r="3.7"/><circle cy="794" r="3.7"/><circle cy="795" r="3.7"/><circle cy="757" r="3.7"/><circle cy="786" r="3.7"/><circle cy="788" r="3.7"/><circle cy="763" r="3.7"/><circle cy="789" r="3.7"/><circle cy="762" r="3.7"/><circle cy="811" r="3.7"/><circle cy="781" r="3.7"/><circle cy="793" r="3.7"/><circle cy="754" r="3.7"/><circle cy="767" r="3.7"/><circle cy="792" r="3.7"/><circle cy="821" r="3.7"/></g><g transform="translate(355.6)"><circle cy="803" r="3.7"/><circle cy="759" r="3.7"/><circle cy="779" r="3.7"/><circle cy="804" r="3.7"/><circle cy="774" r="3.7"/><circle cy="791" r="3.7"/><circle cy="792" r="3.7"/><circle cy="815" r="3.7"/><circle cy="784" r="3.7"/><circle cy="776" r="3.7"/><circle cy="772" r="3.7"/><circle cy="788" r="3.7"/><circle cy="790" r="3.7"/><circle cy="770" r="3.7"/><circle cy="806" r="3.7"/><circle cy="758" r="3.7"/><circle cy="816" r="3.7"/></g><g transform="translate(363.9)"><circle cy="768" r="3.7"/><circle cy="739" r="3.7"/><circle cy="773" r="3.7"/><circle cy="794" r="3.7"/><circle cy="763" r="3.7"/><circle cy="809" r="3.7"/><circle cy="772" r="3.7"/><circle cy="741" r="3.7"/><circle cy="807" r="3.7"/><circle cy="786" r="3.7"/><circle cy="733" r="3.7"/><circle cy="744" r="3.7"/><circle cy="827" r="3.7"/><circle cy="791" r="3.7"/><circle cy="731" r="3.7"/></g><g transform="translate(372.3)"><circle cy="811" r="3.7"/><circle cy="739" r="3.7"/><circle cy="735" r="3.7"/><circle cy="786" r="3.7"/><circle cy="793" r="3.7"/><circle cy="755" r="3.7"/><circle cy="734" r="3.7"/><circle cy="753" r="3.7"/><circle cy="783" r="3.7"/><circle cy="790" r="3.7"/><circle cy="805" r="3.7"/><circle cy="730" r="3.7"/><circle cy="761" r="3.7"/><circle cy="742" r="3.7"/><circle cy="746" r="3.7"/><circle cy="784" r="3.7"/><circle cy="715" r="3.7"/></g><g transform="translate(380.6)"><circle cy="823" r="3.7"/><circle cy="784" r="3.7"/><circle cy="790" r="3.7"/><circle cy="801" r="3.7"/><circle cy="785" r="3.7"/><circle cy="806" r="3.7"/><circle cy="779" r="3.7"/><circle cy="810" r="3.7"/><circle cy="796" r="3.7"/><circle cy="821" r="3.7"/></g><g transform="translate(388.9)"><circle cy="775" r="3.7"/><circle cy="803" r="3.7"/><circle cy="780" r="3.7"/><circle cy="776" r="3.7"/><circle cy="781" r="3.7"/><circle cy="774" r="3.7"/><circle cy="815" r="3.7"/><circle cy="816" r="3.7"/><circle cy="755" r="3.7"/><circle cy="773" r="3.7"/><circle cy="790" r="3.7"/><circle cy="806" r="3.7"/><circle cy="763" r="3.7"/></g><g transform="translate(397.3)"><circle cy="800" r="3.7"/><circle cy="762" r="3.7"/><circle cy="757" r="3.7"/><circle cy="797" r="3.7"/><circle cy="743" r="3.7"/><circle cy="790" r="3.7"/><circle cy="770" r="3.7"/><circle cy="811" r="3.7"/><circle cy="769" r="3.7"/></g><g transform="translate(405.6)"><circle cy="787" r="3.7"/><circle cy="809" r="3.7"/><circle cy="795" r="3.7"/><circle cy="742" r="3.7"/><circle cy="791" r="3.7"/><circle cy="785" r="3.7"/><circle cy="765" r="3.7"/></g><g transform="translate(413.9)"><circle cy="788" r="3.7"/><circle cy="805" r="3.7"/><circle cy="796" r="3.7"/><circle cy="696" r="3.7"/></g><g transform="translate(422.3)"><circle cy="781" r="3.7"/><circle cy="798" r="3.7"/><circle cy="789" r="3.7"/></g><g transform="translate(430.6)"><circle cy="794" r="3.7"/><circle cy="798" r="3.7"/></g><g transform="translate(438.9)"><circle cy="804" r="3.7"/><circle cy="815" r="3.7"/><circle cy="821" r="3.7"/></g><g transform="translate(447.3)"><circle cy="785" r="3.7"/></g><g transform="translate(463.9)"><circle cy="769" r="3.7"/></g><g transform="translate(472.3)"><circle cy="740" r="3.7"/></g><g transform="translate(480.6)"><circle cy="753" r="3.7"/></g><g transform="translate(505.6)"><circle cy="773" r="3.7"/></g></g>
<path class="bl" d="M113.9 848.4L531.6 747.1"/>
<path class="rl" d="M113.9 847.5L531.6 760"/>
<path class="kl" d="M113.9 845.1L531.6 746.2"/>
<path class="ax" d="M113.9 514.1V935.8H530.6M530.6 514.1V935.8M113.9 518.8H530.6"/>
<path class="tk" d="M113.9 935.8h-4.5M530.6 935.8h4.5M113.9 894.1h-2.5M530.6 894.1h2.5M113.9 852.4h-4.5M530.6 852.4h4.5M113.9 810.7h-2.5M530.6 810.7h2.5M113.9 769h-4.5M530.6 769h4.5M113.9 727.3h-2.5M530.6 727.3h2.5M113.9 685.6h-4.5M530.6 685.6h4.5M113.9 643.9h-2.5M530.6 643.9h2.5M113.9 602.2h-4.5M530.6 602.2h4.5M113.9 560.5h-2.5M530.6 560.5h2.5M113.9 518.8h-4.5M530.6 518.8h4.5M113.9 935.8v4.5M113.9 518.8v-4.5M155.6 935.8v2.5M155.6 518.8v-2.5M197.2 935.8v4.5M197.2 518.8v-4.5M238.9 935.8v2.5M238.9 518.8v-2.5M280.6 935.8v4.5M280.6 518.8v-4.5M322.2 935.8v2.5M322.2 518.8v-2.5M363.9 935.8v4.5M363.9 518.8v-4.5M405.6 935.8v2.5M405.6 518.8v-2.5M447.3 935.8v4.5M447.3 518.8v-4.5M488.9 935.8v2.5M488.9 518.8v-2.5M530.6 935.8v4.5M530.6 518.8v-4.5"/>
<text class="tl" x="104.1" y="941.4" text-anchor="end">0</text>
<text class="tl" x="104.1" y="858" text-anchor="end">500</text>
<text class="tl" x="104.1" y="774.6" text-anchor="end">1000</text>
<text class="tl" x="104.1" y="691.2" text-anchor="end">1500</text>
<text class="tl" x="104.1" y="607.8" text-anchor="end">2000</text>
<text class="tl" x="104.1" y="524.4" text-anchor="end">2500</text>
<text class="tl" x="115.4" y="963.9" text-anchor="middle">25</text>
<text class="tl" x="198.7" y="963.9" text-anchor="middle">35</text>
<text class="tl" x="282.1" y="963.9" text-anchor="middle">45</text>
<text class="tl" x="365.4" y="963.9" text-anchor="middle">55</text>
<text class="tl" x="448.8" y="963.9" text-anchor="middle">65</text>
<text class="tl" x="532.1" y="963.9" text-anchor="middle">75</text>
<text class="xl" x="325.8" y="989.9" text-anchor="middle">Age (year)</text>
<text class="pl" x="3" y="527.2">(B)</text>
<text class="yl" transform="translate(26.8 732) rotate(-90)" text-anchor="middle">hbPWV<tspan class="sub" dy="4">eq2</tspan><tspan dy="-4"> (cm/sec)</tspan></text>
<text class="lgb" x="558.7" y="568.8">Whole:</text>
<text class="lg" x="558.7" y="589.9">N = 7,868</text>
<text class="lg" x="558.7" y="611">y = 12.0 x + 231</text>
<text class="lg" x="558.7" y="632.1">r = 0.796</text>
<text class="lg" x="558.7" y="653.2">P &lt; 0.0001</text>
<path d="M622.8 561.7H669.1" stroke="#000" stroke-width="2.3" stroke-dasharray="6.45 1.6"/>
<text class="lgb" x="558.7" y="695.6">Men:</text>
<text class="lg" x="558.7" y="716.7">N = 6,683</text>
<text class="lg" x="558.7" y="737.8">y = 12.1 x + 233</text>
<text class="lg" x="558.7" y="758.9">r = 0.796</text>
<text class="lg" x="558.7" y="780">P &lt; 0.0001</text>
<path d="M604.8 688H652.5" stroke="#00f" stroke-width="2"/><circle cx="626.1" cy="688.3" r="6.8" fill="none" stroke="#00f" stroke-width="2"/>
<text class="lgb" x="558.7" y="822.4">Women:</text>
<text class="lg" x="558.7" y="843.5">N = 1,185</text>
<text class="lg" x="558.7" y="864.6">y = 10.5 x + 271</text>
<text class="lg" x="558.7" y="885.7">r = 0.748</text>
<text class="lg" x="558.7" y="906.8">P &lt; 0.0001</text>
<path d="M635.2 816.1H682.1" stroke="#f00" stroke-width="2"/><circle cx="655.1" cy="815.4" r="6.8" fill="none" stroke="#f00" stroke-width="2"/>
</g>
<g id="plotC">
<g class="m"><g transform="translate(147.5)"><circle cy="1280" r="3.7"/><circle cy="1268" r="3.7"/><circle cy="1275" r="3.7"/><circle cy="1278" r="3.7"/><circle cy="1300" r="3.7"/><circle cy="1289" r="3.7"/><circle cy="1282" r="3.7"/><circle cy="1296" r="3.7"/><circle cy="1290" r="3.7"/><circle cy="1338" r="3.7"/><circle cy="1301" r="3.7"/><circle cy="1320" r="3.7"/><circle cy="1299" r="3.7"/><circle cy="1297" r="3.7"/><circle cy="1303" r="3.7"/><circle cy="1321" r="3.7"/><circle cy="1330" r="3.7"/><circle cy="1292" r="3.7"/><circle cy="1372" r="3.7"/><circle cy="1347" r="3.7"/><circle cy="1281" r="3.7"/><circle cy="1343" r="3.7"/><circle cy="1288" r="3.7"/><circle cy="1342" r="3.7"/><circle cy="1298" r="3.7"/><circle cy="1362" r="3.7"/><circle cy="1264" r="3.7"/><circle cy="1284" r="3.7"/><circle cy="1277" r="3.7"/><circle cy="1304" r="3.7"/><circle cy="1307" r="3.7"/><circle cy="1294" r="3.7"/><circle cy="1352" r="3.7"/><circle cy="1283" r="3.7"/><circle cy="1285" r="3.7"/><circle cy="1306" r="3.7"/><circle cy="1325" r="3.7"/><circle cy="1315" r="3.7"/><circle cy="1310" r="3.7"/><circle cy="1286" r="3.7"/><circle cy="1293" r="3.7"/><circle cy="1349" r="3.7"/><circle cy="1295" r="3.7"/><circle cy="1302" r="3.7"/><circle cy="1276" r="3.7"/><circle cy="1305" r="3.7"/><circle cy="1291" r="3.7"/><circle cy="1309" r="3.7"/></g><g transform="translate(156.6)"><circle cy="1294" r="3.7"/><circle cy="1291" r="3.7"/><circle cy="1299" r="3.7"/><circle cy="1281" r="3.7"/><circle cy="1287" r="3.7"/><circle cy="1302" r="3.7"/><circle cy="1337" r="3.7"/><circle cy="1375" r="3.7"/><circle cy="1284" r="3.7"/><circle cy="1349" r="3.7"/><circle cy="1293" r="3.7"/><circle cy="1272" r="3.7"/><circle cy="1298" r="3.7"/><circle cy="1301" r="3.7"/><circle cy="1328" r="3.7"/><circle cy="1318" r="3.7"/><circle cy="1362" r="3.7"/><circle cy="1358" r="3.7"/><circle cy="1311" r="3.7"/><circle cy="1307" r="3.7"/><circle cy="1313" r="3.7"/><circle cy="1352" r="3.7"/><circle cy="1359" r="3.7"/><circle cy="1288" r="3.7"/><circle cy="1306" r="3.7"/><circle cy="1277" r="3.7"/><circle cy="1297" r="3.7"/><circle cy="1326" r="3.7"/><circle cy="1279" r="3.7"/><circle cy="1310" r="3.7"/><circle cy="1346" r="3.7"/><circle cy="1315" r="3.7"/><circle cy="1305" r="3.7"/><circle cy="1335" r="3.7"/><circle cy="1303" r="3.7"/><circle cy="1292" r="3.7"/><circle cy="1321" r="3.7"/><circle cy="1265" r="3.7"/><circle cy="1323" r="3.7"/><circle cy="1308" r="3.7"/><circle cy="1304" r="3.7"/><circle cy="1331" r="3.7"/><circle cy="1269" r="3.7"/><circle cy="1320" r="3.7"/><circle cy="1264" r="3.7"/><circle cy="1295" r="3.7"/></g><g transform="translate(165)"><circle cy="1351" r="3.7"/><circle cy="1326" r="3.7"/><circle cy="1297" r="3.7"/><circle cy="1267" r="3.7"/><circle cy="1272" r="3.7"/><circle cy="1282" r="3.7"/><circle cy="1295" r="3.7"/><circle cy="1294" r="3.7"/><circle cy="1329" r="3.7"/><circle cy="1332" r="3.7"/><circle cy="1296" r="3.7"/><circle cy="1302" r="3.7"/><circle cy="1328" r="3.7"/><circle cy="1291" r="3.7"/><circle cy="1281" r="3.7"/><circle cy="1339" r="3.7"/><circle cy="1298" r="3.7"/><circle cy="1289" r="3.7"/><circle cy="1310" r="3.7"/><circle cy="1334" r="3.7"/><circle cy="1354" r="3.7"/><circle cy="1300" r="3.7"/><circle cy="1288" r="3.7"/><circle cy="1301" r="3.7"/><circle cy="1299" r="3.7"/><circle cy="1278" r="3.7"/><circle cy="1307" r="3.7"/><circle cy="1317" r="3.7"/><circle cy="1324" r="3.7"/><circle cy="1277" r="3.7"/><circle cy="1287" r="3.7"/><circle cy="1304" r="3.7"/><circle cy="1284" r="3.7"/><circle cy="1322" r="3.7"/><circle cy="1320" r="3.7"/><circle cy="1303" r="3.7"/><circle cy="1293" r="3.7"/><circle cy="1292" r="3.7"/><circle cy="1308" r="3.7"/><circle cy="1234" r="3.7"/><circle cy="1243" r="3.7"/></g><g transform="translate(173.3)"><circle cy="1282" r="3.7"/><circle cy="1290" r="3.7"/><circle cy="1303" r="3.7"/><circle cy="1284" r="3.7"/><circle cy="1302" r="3.7"/><circle cy="1281" r="3.7"/><circle cy="1294" r="3.7"/><circle cy="1286" r="3.7"/><circle cy="1291" r="3.7"/><circle cy="1279" r="3.7"/><circle cy="1295" r="3.7"/><circle cy="1273" r="3.7"/><circle cy="1361" r="3.7"/><circle cy="1301" r="3.7"/><circle cy="1334" r="3.7"/><circle cy="1330" r="3.7"/><circle cy="1292" r="3.7"/><circle cy="1348" r="3.7"/><circle cy="1266" r="3.7"/><circle cy="1270" r="3.7"/><circle cy="1362" r="3.7"/><circle cy="1354" r="3.7"/><circle cy="1324" r="3.7"/><circle cy="1293" r="3.7"/><circle cy="1255" r="3.7"/><circle cy="1260" r="3.7"/><circle cy="1318" r="3.7"/><circle cy="1349" r="3.7"/><circle cy="1298" r="3.7"/><circle cy="1289" r="3.7"/><circle cy="1262" r="3.7"/><circle cy="1297" r="3.7"/><circle cy="1313" r="3.7"/><circle cy="1326" r="3.7"/><circle cy="1305" r="3.7"/><circle cy="1335" r="3.7"/><circle cy="1359" r="3.7"/><circle cy="1278" r="3.7"/><circle cy="1300" r="3.7"/><circle cy="1307" r="3.7"/><circle cy="1277" r="3.7"/><circle cy="1299" r="3.7"/><circle cy="1312" r="3.7"/><circle cy="1332" r="3.7"/><circle cy="1345" r="3.7"/><circle cy="1342" r="3.7"/><circle cy="1309" r="3.7"/><circle cy="1337" r="3.7"/><circle cy="1287" r="3.7"/><circle cy="1321" r="3.7"/><circle cy="1274" r="3.7"/><circle cy="1311" r="3.7"/><circle cy="1304" r="3.7"/><circle cy="1271" r="3.7"/><circle cy="1333" r="3.7"/><circle cy="1207" r="3.7"/></g><g transform="translate(181.6)"><circle cy="1298" r="3.7"/><circle cy="1288" r="3.7"/><circle cy="1286" r="3.7"/><circle cy="1293" r="3.7"/><circle cy="1345" r="3.7"/><circle cy="1343" r="3.7"/><circle cy="1364" r="3.7"/><circle cy="1307" r="3.7"/><circle cy="1275" r="3.7"/><circle cy="1308" r="3.7"/><circle cy="1304" r="3.7"/><circle cy="1276" r="3.7"/><circle cy="1330" r="3.7"/><circle cy="1282" r="3.7"/><circle cy="1281" r="3.7"/><circle cy="1329" r="3.7"/><circle cy="1258" r="3.7"/><circle cy="1334" r="3.7"/><circle cy="1274" r="3.7"/><circle cy="1266" r="3.7"/><circle cy="1294" r="3.7"/><circle cy="1317" r="3.7"/><circle cy="1296" r="3.7"/><circle cy="1292" r="3.7"/><circle cy="1267" r="3.7"/><circle cy="1319" r="3.7"/><circle cy="1306" r="3.7"/><circle cy="1295" r="3.7"/><circle cy="1287" r="3.7"/><circle cy="1309" r="3.7"/><circle cy="1270" r="3.7"/><circle cy="1302" r="3.7"/><circle cy="1297" r="3.7"/><circle cy="1303" r="3.7"/><circle cy="1290" r="3.7"/><circle cy="1331" r="3.7"/><circle cy="1322" r="3.7"/><circle cy="1327" r="3.7"/><circle cy="1310" r="3.7"/><circle cy="1300" r="3.7"/><circle cy="1251" r="3.7"/><circle cy="1311" r="3.7"/><circle cy="1305" r="3.7"/><circle cy="1273" r="3.7"/><circle cy="1291" r="3.7"/><circle cy="1333" r="3.7"/><circle cy="1284" r="3.7"/><circle cy="1301" r="3.7"/><circle cy="1338" r="3.7"/><circle cy="1285" r="3.7"/><circle cy="1314" r="3.7"/><circle cy="1289" r="3.7"/><circle cy="1277" r="3.7"/></g><g transform="translate(190)"><circle cy="1310" r="3.7"/><circle cy="1328" r="3.7"/><circle cy="1265" r="3.7"/><circle cy="1280" r="3.7"/><circle cy="1258" r="3.7"/><circle cy="1291" r="3.7"/><circle cy="1347" r="3.7"/><circle cy="1293" r="3.7"/><circle cy="1273" r="3.7"/><circle cy="1284" r="3.7"/><circle cy="1309" r="3.7"/><circle cy="1292" r="3.7"/><circle cy="1317" r="3.7"/><circle cy="1281" r="3.7"/><circle cy="1289" r="3.7"/><circle cy="1303" r="3.7"/><circle cy="1306" r="3.7"/><circle cy="1268" r="3.7"/><circle cy="1264" r="3.7"/><circle cy="1247" r="3.7"/><circle cy="1321" r="3.7"/><circle cy="1283" r="3.7"/><circle cy="1319" r="3.7"/><circle cy="1279" r="3.7"/><circle cy="1274" r="3.7"/><circle cy="1263" r="3.7"/><circle cy="1314" r="3.7"/><circle cy="1323" r="3.7"/><circle cy="1295" r="3.7"/><circle cy="1287" r="3.7"/><circle cy="1275" r="3.7"/><circle cy="1282" r="3.7"/><circle cy="1260" r="3.7"/><circle cy="1286" r="3.7"/><circle cy="1296" r="3.7"/><circle cy="1356" r="3.7"/><circle cy="1299" r="3.7"/><circle cy="1272" r="3.7"/><circle cy="1276" r="3.7"/><circle cy="1334" r="3.7"/><circle cy="1255" r="3.7"/><circle cy="1297" r="3.7"/><circle cy="1327" r="3.7"/><circle cy="1294" r="3.7"/><circle cy="1324" r="3.7"/><circle cy="1330" r="3.7"/><circle cy="1311" r="3.7"/><circle cy="1300" r="3.7"/><circle cy="1285" r="3.7"/><circle cy="1269" r="3.7"/><circle cy="1338" r="3.7"/><circle cy="1302" r="3.7"/><circle cy="1301" r="3.7"/><circle cy="1200" r="3.7"/><circle cy="1222" r="3.7"/></g><g transform="translate(198.3)"><circle cy="1301" r="3.7"/><circle cy="1271" r="3.7"/><circle cy="1321" r="3.7"/><circle cy="1362" r="3.7"/><circle cy="1254" r="3.7"/><circle cy="1291" r="3.7"/><circle cy="1297" r="3.7"/><circle cy="1300" r="3.7"/><circle cy="1344" r="3.7"/><circle cy="1288" r="3.7"/><circle cy="1273" r="3.7"/><circle cy="1290" r="3.7"/><circle cy="1294" r="3.7"/><circle cy="1306" r="3.7"/><circle cy="1312" r="3.7"/><circle cy="1279" r="3.7"/><circle cy="1308" r="3.7"/><circle cy="1289" r="3.7"/><circle cy="1250" r="3.7"/><circle cy="1267" r="3.7"/><circle cy="1346" r="3.7"/><circle cy="1272" r="3.7"/><circle cy="1332" r="3.7"/><circle cy="1249" r="3.7"/><circle cy="1282" r="3.7"/><circle cy="1313" r="3.7"/><circle cy="1295" r="3.7"/><circle cy="1324" r="3.7"/><circle cy="1278" r="3.7"/><circle cy="1293" r="3.7"/><circle cy="1322" r="3.7"/><circle cy="1330" r="3.7"/><circle cy="1287" r="3.7"/><circle cy="1356" r="3.7"/><circle cy="1357" r="3.7"/><circle cy="1299" r="3.7"/><circle cy="1274" r="3.7"/><circle cy="1261" r="3.7"/><circle cy="1342" r="3.7"/><circle cy="1296" r="3.7"/><circle cy="1292" r="3.7"/><circle cy="1320" r="3.7"/><circle cy="1326" r="3.7"/><circle cy="1354" r="3.7"/><circle cy="1347" r="3.7"/><circle cy="1298" r="3.7"/><circle cy="1245" r="3.7"/><circle cy="1286" r="3.7"/><circle cy="1269" r="3.7"/><circle cy="1309" r="3.7"/><circle cy="1275" r="3.7"/><circle cy="1304" r="3.7"/><circle cy="1265" r="3.7"/><circle cy="1239" r="3.7"/></g><g transform="translate(206.7)"><circle cy="1322" r="3.7"/><circle cy="1345" r="3.7"/><circle cy="1272" r="3.7"/><circle cy="1372" r="3.7"/><circle cy="1282" r="3.7"/><circle cy="1325" r="3.7"/><circle cy="1274" r="3.7"/><circle cy="1354" r="3.7"/><circle cy="1291" r="3.7"/><circle cy="1286" r="3.7"/><circle cy="1334" r="3.7"/><circle cy="1352" r="3.7"/><circle cy="1308" r="3.7"/><circle cy="1329" r="3.7"/><circle cy="1302" r="3.7"/><circle cy="1259" r="3.7"/><circle cy="1338" r="3.7"/><circle cy="1306" r="3.7"/><circle cy="1324" r="3.7"/><circle cy="1336" r="3.7"/><circle cy="1267" r="3.7"/><circle cy="1346" r="3.7"/><circle cy="1275" r="3.7"/><circle cy="1284" r="3.7"/><circle cy="1321" r="3.7"/><circle cy="1342" r="3.7"/><circle cy="1277" r="3.7"/><circle cy="1280" r="3.7"/><circle cy="1292" r="3.7"/><circle cy="1310" r="3.7"/><circle cy="1316" r="3.7"/><circle cy="1311" r="3.7"/><circle cy="1295" r="3.7"/><circle cy="1304" r="3.7"/><circle cy="1305" r="3.7"/><circle cy="1270" r="3.7"/><circle cy="1285" r="3.7"/><circle cy="1303" r="3.7"/><circle cy="1293" r="3.7"/><circle cy="1307" r="3.7"/><circle cy="1269" r="3.7"/><circle cy="1339" r="3.7"/><circle cy="1309" r="3.7"/><circle cy="1319" r="3.7"/><circle cy="1340" r="3.7"/><circle cy="1347" r="3.7"/><circle cy="1296" r="3.7"/><circle cy="1356" r="3.7"/><circle cy="1300" r="3.7"/><circle cy="1276" r="3.7"/><circle cy="1289" r="3.7"/></g><g transform="translate(215)"><circle cy="1291" r="3.7"/><circle cy="1349" r="3.7"/><circle cy="1276" r="3.7"/><circle cy="1255" r="3.7"/><circle cy="1251" r="3.7"/><circle cy="1296" r="3.7"/><circle cy="1324" r="3.7"/><circle cy="1269" r="3.7"/><circle cy="1292" r="3.7"/><circle cy="1278" r="3.7"/><circle cy="1253" r="3.7"/><circle cy="1327" r="3.7"/><circle cy="1323" r="3.7"/><circle cy="1277" r="3.7"/><circle cy="1245" r="3.7"/><circle cy="1247" r="3.7"/><circle cy="1261" r="3.7"/><circle cy="1274" r="3.7"/><circle cy="1312" r="3.7"/><circle cy="1342" r="3.7"/><circle cy="1350" r="3.7"/><circle cy="1286" r="3.7"/><circle cy="1288" r="3.7"/><circle cy="1308" r="3.7"/><circle cy="1334" r="3.7"/><circle cy="1332" r="3.7"/><circle cy="1297" r="3.7"/><circle cy="1290" r="3.7"/><circle cy="1346" r="3.7"/><circle cy="1314" r="3.7"/><circle cy="1302" r="3.7"/><circle cy="1325" r="3.7"/><circle cy="1306" r="3.7"/><circle cy="1313" r="3.7"/><circle cy="1271" r="3.7"/><circle cy="1303" r="3.7"/><circle cy="1284" r="3.7"/><circle cy="1300" r="3.7"/><circle cy="1264" r="3.7"/><circle cy="1336" r="3.7"/><circle cy="1319" r="3.7"/><circle cy="1326" r="3.7"/><circle cy="1282" r="3.7"/><circle cy="1338" r="3.7"/><circle cy="1317" r="3.7"/><circle cy="1340" r="3.7"/><circle cy="1279" r="3.7"/><circle cy="1331" r="3.7"/><circle cy="1263" r="3.7"/><circle cy="1280" r="3.7"/><circle cy="1270" r="3.7"/><circle cy="1266" r="3.7"/><circle cy="1283" r="3.7"/><circle cy="1295" r="3.7"/><circle cy="1311" r="3.7"/><circle cy="1235" r="3.7"/></g><g transform="translate(223.3)"><circle cy="1268" r="3.7"/><circle cy="1259" r="3.7"/><circle cy="1365" r="3.7"/><circle cy="1341" r="3.7"/><circle cy="1271" r="3.7"/><circle cy="1338" r="3.7"/><circle cy="1360" r="3.7"/><circle cy="1317" r="3.7"/><circle cy="1256" r="3.7"/><circle cy="1273" r="3.7"/><circle cy="1349" r="3.7"/><circle cy="1330" r="3.7"/><circle cy="1320" r="3.7"/><circle cy="1267" r="3.7"/><circle cy="1257" r="3.7"/><circle cy="1237" r="3.7"/><circle cy="1263" r="3.7"/><circle cy="1314" r="3.7"/><circle cy="1276" r="3.7"/><circle cy="1278" r="3.7"/><circle cy="1279" r="3.7"/><circle cy="1337" r="3.7"/><circle cy="1329" r="3.7"/><circle cy="1335" r="3.7"/><circle cy="1308" r="3.7"/><circle cy="1296" r="3.7"/><circle cy="1289" r="3.7"/><circle cy="1298" r="3.7"/><circle cy="1265" r="3.7"/><circle cy="1258" r="3.7"/><circle cy="1284" r="3.7"/><circle cy="1327" r="3.7"/><circle cy="1290" r="3.7"/><circle cy="1315" r="3.7"/><circle cy="1252" r="3.7"/><circle cy="1281" r="3.7"/><circle cy="1299" r="3.7"/><circle cy="1343" r="3.7"/><circle cy="1277" r="3.7"/><circle cy="1311" r="3.7"/><circle cy="1305" r="3.7"/><circle cy="1295" r="3.7"/><circle cy="1215" r="3.7"/></g><g transform="translate(231.7)"><circle cy="1308" r="3.7"/><circle cy="1284" r="3.7"/><circle cy="1337" r="3.7"/><circle cy="1286" r="3.7"/><circle cy="1297" r="3.7"/><circle cy="1333" r="3.7"/><circle cy="1304" r="3.7"/><circle cy="1259" r="3.7"/><circle cy="1354" r="3.7"/><circle cy="1290" r="3.7"/><circle cy="1294" r="3.7"/><circle cy="1342" r="3.7"/><circle cy="1301" r="3.7"/><circle cy="1285" r="3.7"/><circle cy="1293" r="3.7"/><circle cy="1283" r="3.7"/><circle cy="1289" r="3.7"/><circle cy="1311" r="3.7"/><circle cy="1309" r="3.7"/><circle cy="1288" r="3.7"/><circle cy="1366" r="3.7"/><circle cy="1292" r="3.7"/><circle cy="1329" r="3.7"/><circle cy="1322" r="3.7"/><circle cy="1348" r="3.7"/><circle cy="1324" r="3.7"/><circle cy="1313" r="3.7"/><circle cy="1275" r="3.7"/><circle cy="1320" r="3.7"/><circle cy="1270" r="3.7"/><circle cy="1296" r="3.7"/><circle cy="1279" r="3.7"/><circle cy="1303" r="3.7"/><circle cy="1267" r="3.7"/><circle cy="1251" r="3.7"/><circle cy="1287" r="3.7"/><circle cy="1298" r="3.7"/><circle cy="1325" r="3.7"/><circle cy="1334" r="3.7"/><circle cy="1295" r="3.7"/><circle cy="1278" r="3.7"/><circle cy="1291" r="3.7"/><circle cy="1335" r="3.7"/><circle cy="1300" r="3.7"/><circle cy="1338" r="3.7"/><circle cy="1323" r="3.7"/></g><g transform="translate(240)"><circle cy="1346" r="3.7"/><circle cy="1364" r="3.7"/><circle cy="1265" r="3.7"/><circle cy="1358" r="3.7"/><circle cy="1247" r="3.7"/><circle cy="1351" r="3.7"/><circle cy="1315" r="3.7"/><circle cy="1330" r="3.7"/><circle cy="1336" r="3.7"/><circle cy="1261" r="3.7"/><circle cy="1335" r="3.7"/><circle cy="1303" r="3.7"/><circle cy="1292" r="3.7"/><circle cy="1313" r="3.7"/><circle cy="1273" r="3.7"/><circle cy="1283" r="3.7"/><circle cy="1289" r="3.7"/><circle cy="1280" r="3.7"/><circle cy="1263" r="3.7"/><circle cy="1297" r="3.7"/><circle cy="1329" r="3.7"/><circle cy="1259" r="3.7"/><circle cy="1286" r="3.7"/><circle cy="1278" r="3.7"/><circle cy="1262" r="3.7"/><circle cy="1279" r="3.7"/><circle cy="1298" r="3.7"/><circle cy="1355" r="3.7"/><circle cy="1256" r="3.7"/><circle cy="1305" r="3.7"/><circle cy="1342" r="3.7"/><circle cy="1276" r="3.7"/><circle cy="1277" r="3.7"/><circle cy="1249" r="3.7"/><circle cy="1257" r="3.7"/><circle cy="1321" r="3.7"/><circle cy="1282" r="3.7"/><circle cy="1333" r="3.7"/><circle cy="1267" r="3.7"/><circle cy="1238" r="3.7"/><circle cy="1328" r="3.7"/><circle cy="1281" r="3.7"/><circle cy="1296" r="3.7"/><circle cy="1326" r="3.7"/><circle cy="1294" r="3.7"/><circle cy="1300" r="3.7"/><circle cy="1331" r="3.7"/><circle cy="1248" r="3.7"/><circle cy="1240" r="3.7"/><circle cy="1288" r="3.7"/><circle cy="1299" r="3.7"/><circle cy="1244" r="3.7"/><circle cy="1269" r="3.7"/><circle cy="1250" r="3.7"/><circle cy="1324" r="3.7"/><circle cy="1291" r="3.7"/><circle cy="1234" r="3.7"/><circle cy="1243" r="3.7"/></g><g transform="translate(248.4)"><circle cy="1260" r="3.7"/><circle cy="1253" r="3.7"/><circle cy="1279" r="3.7"/><circle cy="1349" r="3.7"/><circle cy="1318" r="3.7"/><circle cy="1303" r="3.7"/><circle cy="1265" r="3.7"/><circle cy="1263" r="3.7"/><circle cy="1268" r="3.7"/><circle cy="1280" r="3.7"/><circle cy="1254" r="3.7"/><circle cy="1230" r="3.7"/><circle cy="1300" r="3.7"/><circle cy="1308" r="3.7"/><circle cy="1310" r="3.7"/><circle cy="1256" r="3.7"/><circle cy="1293" r="3.7"/><circle cy="1286" r="3.7"/><circle cy="1292" r="3.7"/><circle cy="1302" r="3.7"/><circle cy="1238" r="3.7"/><circle cy="1266" r="3.7"/><circle cy="1274" r="3.7"/><circle cy="1295" r="3.7"/><circle cy="1324" r="3.7"/><circle cy="1275" r="3.7"/><circle cy="1282" r="3.7"/><circle cy="1291" r="3.7"/><circle cy="1309" r="3.7"/><circle cy="1267" r="3.7"/><circle cy="1367" r="3.7"/><circle cy="1288" r="3.7"/><circle cy="1287" r="3.7"/><circle cy="1284" r="3.7"/><circle cy="1290" r="3.7"/><circle cy="1298" r="3.7"/><circle cy="1271" r="3.7"/><circle cy="1259" r="3.7"/><circle cy="1335" r="3.7"/><circle cy="1321" r="3.7"/><circle cy="1305" r="3.7"/><circle cy="1317" r="3.7"/><circle cy="1273" r="3.7"/><circle cy="1255" r="3.7"/><circle cy="1277" r="3.7"/><circle cy="1333" r="3.7"/><circle cy="1283" r="3.7"/><circle cy="1289" r="3.7"/><circle cy="1248" r="3.7"/><circle cy="1297" r="3.7"/><circle cy="1264" r="3.7"/><circle cy="1281" r="3.7"/><circle cy="1272" r="3.7"/><circle cy="1320" r="3.7"/><circle cy="1296" r="3.7"/><circle cy="1270" r="3.7"/><circle cy="1368" r="3.7"/><circle cy="1285" r="3.7"/><circle cy="1185" r="3.7"/></g><g transform="translate(256.7)"><circle cy="1240" r="3.7"/><circle cy="1298" r="3.7"/><circle cy="1332" r="3.7"/><circle cy="1282" r="3.7"/><circle cy="1305" r="3.7"/><circle cy="1237" r="3.7"/><circle cy="1278" r="3.7"/><circle cy="1289" r="3.7"/><circle cy="1275" r="3.7"/><circle cy="1250" r="3.7"/><circle cy="1311" r="3.7"/><circle cy="1301" r="3.7"/><circle cy="1285" r="3.7"/><circle cy="1319" r="3.7"/><circle cy="1263" r="3.7"/><circle cy="1309" r="3.7"/><circle cy="1223" r="3.7"/><circle cy="1295" r="3.7"/><circle cy="1356" r="3.7"/><circle cy="1254" r="3.7"/><circle cy="1276" r="3.7"/><circle cy="1283" r="3.7"/><circle cy="1325" r="3.7"/><circle cy="1277" r="3.7"/><circle cy="1287" r="3.7"/><circle cy="1273" r="3.7"/><circle cy="1242" r="3.7"/><circle cy="1290" r="3.7"/><circle cy="1257" r="3.7"/><circle cy="1272" r="3.7"/><circle cy="1281" r="3.7"/><circle cy="1252" r="3.7"/><circle cy="1293" r="3.7"/><circle cy="1260" r="3.7"/><circle cy="1251" r="3.7"/><circle cy="1307" r="3.7"/><circle cy="1346" r="3.7"/><circle cy="1344" r="3.7"/><circle cy="1297" r="3.7"/><circle cy="1321" r="3.7"/><circle cy="1265" r="3.7"/><circle cy="1335" r="3.7"/><circle cy="1284" r="3.7"/><circle cy="1264" r="3.7"/><circle cy="1292" r="3.7"/><circle cy="1259" r="3.7"/><circle cy="1266" r="3.7"/><circle cy="1280" r="3.7"/><circle cy="1294" r="3.7"/><circle cy="1274" r="3.7"/><circle cy="1270" r="3.7"/><circle cy="1288" r="3.7"/><circle cy="1286" r="3.7"/><circle cy="1225" r="3.7"/><circle cy="1271" r="3.7"/><circle cy="1336" r="3.7"/><circle cy="1262" r="3.7"/><circle cy="1261" r="3.7"/><circle cy="1267" r="3.7"/><circle cy="1296" r="3.7"/><circle cy="1310" r="3.7"/><circle cy="1249" r="3.7"/><circle cy="1268" r="3.7"/><circle cy="1315" r="3.7"/><circle cy="1303" r="3.7"/><circle cy="1206" r="3.7"/></g><g transform="translate(265.1)"><circle cy="1302" r="3.7"/><circle cy="1243" r="3.7"/><circle cy="1269" r="3.7"/><circle cy="1241" r="3.7"/><circle cy="1263" r="3.7"/><circle cy="1217" r="3.7"/><circle cy="1352" r="3.7"/><circle cy="1280" r="3.7"/><circle cy="1275" r="3.7"/><circle cy="1235" r="3.7"/><circle cy="1317" r="3.7"/><circle cy="1238" r="3.7"/><circle cy="1283" r="3.7"/><circle cy="1268" r="3.7"/><circle cy="1229" r="3.7"/><circle cy="1247" r="3.7"/><circle cy="1312" r="3.7"/><circle cy="1264" r="3.7"/><circle cy="1320" r="3.7"/><circle cy="1324" r="3.7"/><circle cy="1252" r="3.7"/><circle cy="1271" r="3.7"/><circle cy="1257" r="3.7"/><circle cy="1284" r="3.7"/><circle cy="1261" r="3.7"/><circle cy="1274" r="3.7"/><circle cy="1285" r="3.7"/><circle cy="1250" r="3.7"/><circle cy="1262" r="3.7"/><circle cy="1237" r="3.7"/><circle cy="1333" r="3.7"/><circle cy="1256" r="3.7"/><circle cy="1315" r="3.7"/><circle cy="1288" r="3.7"/><circle cy="1224" r="3.7"/><circle cy="1239" r="3.7"/><circle cy="1329" r="3.7"/><circle cy="1242" r="3.7"/><circle cy="1311" r="3.7"/><circle cy="1266" r="3.7"/><circle cy="1272" r="3.7"/><circle cy="1306" r="3.7"/><circle cy="1251" r="3.7"/><circle cy="1265" r="3.7"/><circle cy="1327" r="3.7"/><circle cy="1270" r="3.7"/><circle cy="1281" r="3.7"/><circle cy="1286" r="3.7"/><circle cy="1309" r="3.7"/><circle cy="1255" r="3.7"/><circle cy="1267" r="3.7"/><circle cy="1254" r="3.7"/><circle cy="1337" r="3.7"/><circle cy="1259" r="3.7"/><circle cy="1289" r="3.7"/><circle cy="1296" r="3.7"/><circle cy="1323" r="3.7"/><circle cy="1253" r="3.7"/><circle cy="1260" r="3.7"/><circle cy="1328" r="3.7"/><circle cy="1299" r="3.7"/><circle cy="1325" r="3.7"/><circle cy="1303" r="3.7"/><circle cy="1313" r="3.7"/><circle cy="1277" r="3.7"/><circle cy="1326" r="3.7"/><circle cy="1279" r="3.7"/><circle cy="1295" r="3.7"/><circle cy="1304" r="3.7"/><circle cy="1220" r="3.7"/></g><g transform="translate(273.4)"><circle cy="1239" r="3.7"/><circle cy="1283" r="3.7"/><circle cy="1323" r="3.7"/><circle cy="1215" r="3.7"/><circle cy="1339" r="3.7"/><circle cy="1287" r="3.7"/><circle cy="1243" r="3.7"/><circle cy="1309" r="3.7"/><circle cy="1276" r="3.7"/><circle cy="1326" r="3.7"/><circle cy="1306" r="3.7"/><circle cy="1321" r="3.7"/><circle cy="1295" r="3.7"/><circle cy="1290" r="3.7"/><circle cy="1230" r="3.7"/><circle cy="1289" r="3.7"/><circle cy="1231" r="3.7"/><circle cy="1264" r="3.7"/><circle cy="1255" r="3.7"/><circle cy="1304" r="3.7"/><circle cy="1282" r="3.7"/><circle cy="1303" r="3.7"/><circle cy="1260" r="3.7"/><circle cy="1262" r="3.7"/><circle cy="1246" r="3.7"/><circle cy="1213" r="3.7"/><circle cy="1242" r="3.7"/><circle cy="1250" r="3.7"/><circle cy="1279" r="3.7"/><circle cy="1238" r="3.7"/><circle cy="1292" r="3.7"/><circle cy="1320" r="3.7"/><circle cy="1280" r="3.7"/><circle cy="1281" r="3.7"/><circle cy="1258" r="3.7"/><circle cy="1253" r="3.7"/><circle cy="1305" r="3.7"/><circle cy="1252" r="3.7"/><circle cy="1293" r="3.7"/><circle cy="1302" r="3.7"/><circle cy="1261" r="3.7"/><circle cy="1263" r="3.7"/><circle cy="1308" r="3.7"/><circle cy="1286" r="3.7"/><circle cy="1272" r="3.7"/><circle cy="1271" r="3.7"/><circle cy="1237" r="3.7"/><circle cy="1251" r="3.7"/><circle cy="1329" r="3.7"/><circle cy="1240" r="3.7"/><circle cy="1208" r="3.7"/><circle cy="1288" r="3.7"/><circle cy="1247" r="3.7"/><circle cy="1291" r="3.7"/><circle cy="1229" r="3.7"/><circle cy="1257" r="3.7"/><circle cy="1301" r="3.7"/><circle cy="1269" r="3.7"/><circle cy="1266" r="3.7"/><circle cy="1300" r="3.7"/><circle cy="1307" r="3.7"/><circle cy="1268" r="3.7"/><circle cy="1267" r="3.7"/><circle cy="1278" r="3.7"/><circle cy="1211" r="3.7"/></g><g transform="translate(281.7)"><circle cy="1266" r="3.7"/><circle cy="1344" r="3.7"/><circle cy="1348" r="3.7"/><circle cy="1332" r="3.7"/><circle cy="1260" r="3.7"/><circle cy="1267" r="3.7"/><circle cy="1318" r="3.7"/><circle cy="1255" r="3.7"/><circle cy="1340" r="3.7"/><circle cy="1268" r="3.7"/><circle cy="1259" r="3.7"/><circle cy="1309" r="3.7"/><circle cy="1235" r="3.7"/><circle cy="1252" r="3.7"/><circle cy="1272" r="3.7"/><circle cy="1328" r="3.7"/><circle cy="1300" r="3.7"/><circle cy="1292" r="3.7"/><circle cy="1291" r="3.7"/><circle cy="1281" r="3.7"/><circle cy="1350" r="3.7"/><circle cy="1258" r="3.7"/><circle cy="1325" r="3.7"/><circle cy="1232" r="3.7"/><circle cy="1320" r="3.7"/><circle cy="1264" r="3.7"/><circle cy="1315" r="3.7"/><circle cy="1333" r="3.7"/><circle cy="1273" r="3.7"/><circle cy="1297" r="3.7"/><circle cy="1302" r="3.7"/><circle cy="1271" r="3.7"/><circle cy="1270" r="3.7"/><circle cy="1296" r="3.7"/><circle cy="1283" r="3.7"/><circle cy="1305" r="3.7"/><circle cy="1274" r="3.7"/><circle cy="1336" r="3.7"/><circle cy="1285" r="3.7"/><circle cy="1310" r="3.7"/><circle cy="1304" r="3.7"/><circle cy="1303" r="3.7"/><circle cy="1365" r="3.7"/><circle cy="1341" r="3.7"/><circle cy="1312" r="3.7"/><circle cy="1263" r="3.7"/><circle cy="1289" r="3.7"/><circle cy="1261" r="3.7"/><circle cy="1316" r="3.7"/><circle cy="1323" r="3.7"/><circle cy="1269" r="3.7"/><circle cy="1250" r="3.7"/><circle cy="1321" r="3.7"/><circle cy="1338" r="3.7"/><circle cy="1276" r="3.7"/><circle cy="1277" r="3.7"/><circle cy="1275" r="3.7"/><circle cy="1311" r="3.7"/><circle cy="1353" r="3.7"/></g><g transform="translate(290.1)"><circle cy="1238" r="3.7"/><circle cy="1204" r="3.7"/><circle cy="1277" r="3.7"/><circle cy="1258" r="3.7"/><circle cy="1219" r="3.7"/><circle cy="1239" r="3.7"/><circle cy="1292" r="3.7"/><circle cy="1291" r="3.7"/><circle cy="1321" r="3.7"/><circle cy="1329" r="3.7"/><circle cy="1234" r="3.7"/><circle cy="1231" r="3.7"/><circle cy="1297" r="3.7"/><circle cy="1342" r="3.7"/><circle cy="1301" r="3.7"/><circle cy="1249" r="3.7"/><circle cy="1328" r="3.7"/><circle cy="1227" r="3.7"/><circle cy="1295" r="3.7"/><circle cy="1237" r="3.7"/><circle cy="1246" r="3.7"/><circle cy="1210" r="3.7"/><circle cy="1232" r="3.7"/><circle cy="1262" r="3.7"/><circle cy="1263" r="3.7"/><circle cy="1245" r="3.7"/><circle cy="1276" r="3.7"/><circle cy="1283" r="3.7"/><circle cy="1288" r="3.7"/><circle cy="1351" r="3.7"/><circle cy="1236" r="3.7"/><circle cy="1268" r="3.7"/><circle cy="1296" r="3.7"/><circle cy="1252" r="3.7"/><circle cy="1300" r="3.7"/><circle cy="1256" r="3.7"/><circle cy="1285" r="3.7"/><circle cy="1260" r="3.7"/><circle cy="1259" r="3.7"/><circle cy="1255" r="3.7"/><circle cy="1282" r="3.7"/><circle cy="1272" r="3.7"/><circle cy="1308" r="3.7"/><circle cy="1220" r="3.7"/><circle cy="1271" r="3.7"/><circle cy="1267" r="3.7"/><circle cy="1289" r="3.7"/><circle cy="1303" r="3.7"/><circle cy="1254" r="3.7"/><circle cy="1250" r="3.7"/><circle cy="1261" r="3.7"/><circle cy="1290" r="3.7"/><circle cy="1275" r="3.7"/><circle cy="1270" r="3.7"/><circle cy="1305" r="3.7"/><circle cy="1248" r="3.7"/><circle cy="1294" r="3.7"/><circle cy="1265" r="3.7"/><circle cy="1257" r="3.7"/><circle cy="1322" r="3.7"/><circle cy="1247" r="3.7"/><circle cy="1317" r="3.7"/><circle cy="1312" r="3.7"/><circle cy="1264" r="3.7"/><circle cy="1311" r="3.7"/><circle cy="1253" r="3.7"/><circle cy="1325" r="3.7"/><circle cy="1304" r="3.7"/><circle cy="1266" r="3.7"/><circle cy="1306" r="3.7"/><circle cy="1242" r="3.7"/><circle cy="1235" r="3.7"/><circle cy="1223" r="3.7"/><circle cy="1108" r="3.7"/></g><g transform="translate(298.4)"><circle cy="1273" r="3.7"/><circle cy="1200" r="3.7"/><circle cy="1224" r="3.7"/><circle cy="1215" r="3.7"/><circle cy="1237" r="3.7"/><circle cy="1306" r="3.7"/><circle cy="1242" r="3.7"/><circle cy="1311" r="3.7"/><circle cy="1257" r="3.7"/><circle cy="1211" r="3.7"/><circle cy="1238" r="3.7"/><circle cy="1243" r="3.7"/><circle cy="1231" r="3.7"/><circle cy="1312" r="3.7"/><circle cy="1325" r="3.7"/><circle cy="1263" r="3.7"/><circle cy="1246" r="3.7"/><circle cy="1313" r="3.7"/><circle cy="1290" r="3.7"/><circle cy="1318" r="3.7"/><circle cy="1225" r="3.7"/><circle cy="1252" r="3.7"/><circle cy="1295" r="3.7"/><circle cy="1276" r="3.7"/><circle cy="1229" r="3.7"/><circle cy="1251" r="3.7"/><circle cy="1314" r="3.7"/><circle cy="1223" r="3.7"/><circle cy="1304" r="3.7"/><circle cy="1293" r="3.7"/><circle cy="1286" r="3.7"/><circle cy="1239" r="3.7"/><circle cy="1303" r="3.7"/><circle cy="1245" r="3.7"/><circle cy="1353" r="3.7"/><circle cy="1285" r="3.7"/><circle cy="1258" r="3.7"/><circle cy="1244" r="3.7"/><circle cy="1233" r="3.7"/><circle cy="1250" r="3.7"/><circle cy="1267" r="3.7"/><circle cy="1289" r="3.7"/><circle cy="1247" r="3.7"/><circle cy="1248" r="3.7"/><circle cy="1296" r="3.7"/><circle cy="1271" r="3.7"/><circle cy="1292" r="3.7"/><circle cy="1288" r="3.7"/><circle cy="1344" r="3.7"/><circle cy="1308" r="3.7"/><circle cy="1309" r="3.7"/><circle cy="1280" r="3.7"/><circle cy="1297" r="3.7"/><circle cy="1260" r="3.7"/><circle cy="1283" r="3.7"/><circle cy="1358" r="3.7"/><circle cy="1278" r="3.7"/><circle cy="1300" r="3.7"/><circle cy="1316" r="3.7"/><circle cy="1249" r="3.7"/><circle cy="1272" r="3.7"/><circle cy="1222" r="3.7"/><circle cy="1269" r="3.7"/><circle cy="1266" r="3.7"/><circle cy="1202" r="3.7"/><circle cy="1241" r="3.7"/><circle cy="1274" r="3.7"/><circle cy="1319" r="3.7"/><circle cy="1287" r="3.7"/><circle cy="1277" r="3.7"/><circle cy="1282" r="3.7"/><circle cy="1236" r="3.7"/><circle cy="1268" r="3.7"/><circle cy="1156" r="3.7"/><circle cy="1157" r="3.7"/></g><g transform="translate(306.8)"><circle cy="1267" r="3.7"/><circle cy="1347" r="3.7"/><circle cy="1312" r="3.7"/><circle cy="1251" r="3.7"/><circle cy="1318" r="3.7"/><circle cy="1264" r="3.7"/><circle cy="1321" r="3.7"/><circle cy="1291" r="3.7"/><circle cy="1244" r="3.7"/><circle cy="1232" r="3.7"/><circle cy="1292" r="3.7"/><circle cy="1246" r="3.7"/><circle cy="1242" r="3.7"/><circle cy="1298" r="3.7"/><circle cy="1276" r="3.7"/><circle cy="1258" r="3.7"/><circle cy="1307" r="3.7"/><circle cy="1268" r="3.7"/><circle cy="1245" r="3.7"/><circle cy="1286" r="3.7"/><circle cy="1317" r="3.7"/><circle cy="1274" r="3.7"/><circle cy="1303" r="3.7"/><circle cy="1337" r="3.7"/><circle cy="1296" r="3.7"/><circle cy="1253" r="3.7"/><circle cy="1293" r="3.7"/><circle cy="1248" r="3.7"/><circle cy="1327" r="3.7"/><circle cy="1279" r="3.7"/><circle cy="1299" r="3.7"/><circle cy="1309" r="3.7"/><circle cy="1272" r="3.7"/><circle cy="1282" r="3.7"/><circle cy="1265" r="3.7"/><circle cy="1212" r="3.7"/><circle cy="1294" r="3.7"/><circle cy="1290" r="3.7"/><circle cy="1273" r="3.7"/><circle cy="1301" r="3.7"/><circle cy="1224" r="3.7"/><circle cy="1289" r="3.7"/><circle cy="1287" r="3.7"/><circle cy="1302" r="3.7"/><circle cy="1311" r="3.7"/><circle cy="1295" r="3.7"/><circle cy="1252" r="3.7"/><circle cy="1269" r="3.7"/><circle cy="1316" r="3.7"/><circle cy="1239" r="3.7"/><circle cy="1255" r="3.7"/><circle cy="1254" r="3.7"/><circle cy="1328" r="3.7"/><circle cy="1285" r="3.7"/><circle cy="1284" r="3.7"/><circle cy="1324" r="3.7"/><circle cy="1300" r="3.7"/><circle cy="1241" r="3.7"/><circle cy="1352" r="3.7"/><circle cy="1270" r="3.7"/><circle cy="1266" r="3.7"/><circle cy="1288" r="3.7"/><circle cy="1260" r="3.7"/><circle cy="1259" r="3.7"/><circle cy="1234" r="3.7"/><circle cy="1329" r="3.7"/><circle cy="1280" r="3.7"/><circle cy="1256" r="3.7"/><circle cy="1323" r="3.7"/></g><g transform="translate(315.1)"><circle cy="1344" r="3.7"/><circle cy="1216" r="3.7"/><circle cy="1308" r="3.7"/><circle cy="1225" r="3.7"/><circle cy="1312" r="3.7"/><circle cy="1296" r="3.7"/><circle cy="1311" r="3.7"/><circle cy="1257" r="3.7"/><circle cy="1279" r="3.7"/><circle cy="1337" r="3.7"/><circle cy="1236" r="3.7"/><circle cy="1248" r="3.7"/><circle cy="1269" r="3.7"/><circle cy="1234" r="3.7"/><circle cy="1333" r="3.7"/><circle cy="1253" r="3.7"/><circle cy="1331" r="3.7"/><circle cy="1270" r="3.7"/><circle cy="1193" r="3.7"/><circle cy="1317" r="3.7"/><circle cy="1252" r="3.7"/><circle cy="1256" r="3.7"/><circle cy="1297" r="3.7"/><circle cy="1232" r="3.7"/><circle cy="1206" r="3.7"/><circle cy="1336" r="3.7"/><circle cy="1276" r="3.7"/><circle cy="1262" r="3.7"/><circle cy="1305" r="3.7"/><circle cy="1265" r="3.7"/><circle cy="1259" r="3.7"/><circle cy="1249" r="3.7"/><circle cy="1322" r="3.7"/><circle cy="1304" r="3.7"/><circle cy="1224" r="3.7"/><circle cy="1278" r="3.7"/><circle cy="1261" r="3.7"/><circle cy="1289" r="3.7"/><circle cy="1315" r="3.7"/><circle cy="1284" r="3.7"/><circle cy="1286" r="3.7"/><circle cy="1243" r="3.7"/><circle cy="1290" r="3.7"/><circle cy="1292" r="3.7"/><circle cy="1245" r="3.7"/><circle cy="1263" r="3.7"/><circle cy="1274" r="3.7"/><circle cy="1213" r="3.7"/><circle cy="1215" r="3.7"/><circle cy="1288" r="3.7"/><circle cy="1241" r="3.7"/><circle cy="1250" r="3.7"/><circle cy="1212" r="3.7"/><circle cy="1332" r="3.7"/><circle cy="1280" r="3.7"/><circle cy="1306" r="3.7"/><circle cy="1291" r="3.7"/><circle cy="1271" r="3.7"/><circle cy="1299" r="3.7"/><circle cy="1218" r="3.7"/><circle cy="1341" r="3.7"/><circle cy="1260" r="3.7"/><circle cy="1237" r="3.7"/><circle cy="1266" r="3.7"/><circle cy="1302" r="3.7"/><circle cy="1267" r="3.7"/><circle cy="1319" r="3.7"/><circle cy="1220" r="3.7"/><circle cy="1275" r="3.7"/><circle cy="1264" r="3.7"/><circle cy="1323" r="3.7"/><circle cy="1294" r="3.7"/><circle cy="1283" r="3.7"/><circle cy="1176" r="3.7"/></g><g transform="translate(323.5)"><circle cy="1287" r="3.7"/><circle cy="1201" r="3.7"/><circle cy="1290" r="3.7"/><circle cy="1350" r="3.7"/><circle cy="1227" r="3.7"/><circle cy="1312" r="3.7"/><circle cy="1246" r="3.7"/><circle cy="1223" r="3.7"/><circle cy="1263" r="3.7"/><circle cy="1234" r="3.7"/><circle cy="1248" r="3.7"/><circle cy="1316" r="3.7"/><circle cy="1301" r="3.7"/><circle cy="1309" r="3.7"/><circle cy="1251" r="3.7"/><circle cy="1318" r="3.7"/><circle cy="1239" r="3.7"/><circle cy="1226" r="3.7"/><circle cy="1222" r="3.7"/><circle cy="1236" r="3.7"/><circle cy="1247" r="3.7"/><circle cy="1249" r="3.7"/><circle cy="1297" r="3.7"/><circle cy="1303" r="3.7"/><circle cy="1345" r="3.7"/><circle cy="1262" r="3.7"/><circle cy="1275" r="3.7"/><circle cy="1243" r="3.7"/><circle cy="1305" r="3.7"/><circle cy="1221" r="3.7"/><circle cy="1313" r="3.7"/><circle cy="1220" r="3.7"/><circle cy="1311" r="3.7"/><circle cy="1300" r="3.7"/><circle cy="1259" r="3.7"/><circle cy="1281" r="3.7"/><circle cy="1244" r="3.7"/><circle cy="1245" r="3.7"/><circle cy="1218" r="3.7"/><circle cy="1225" r="3.7"/><circle cy="1322" r="3.7"/><circle cy="1219" r="3.7"/><circle cy="1291" r="3.7"/><circle cy="1213" r="3.7"/><circle cy="1279" r="3.7"/><circle cy="1295" r="3.7"/><circle cy="1267" r="3.7"/><circle cy="1270" r="3.7"/><circle cy="1282" r="3.7"/><circle cy="1278" r="3.7"/><circle cy="1260" r="3.7"/><circle cy="1240" r="3.7"/><circle cy="1241" r="3.7"/><circle cy="1224" r="3.7"/><circle cy="1261" r="3.7"/><circle cy="1265" r="3.7"/><circle cy="1338" r="3.7"/><circle cy="1268" r="3.7"/><circle cy="1292" r="3.7"/><circle cy="1258" r="3.7"/><circle cy="1211" r="3.7"/><circle cy="1212" r="3.7"/><circle cy="1331" r="3.7"/><circle cy="1253" r="3.7"/><circle cy="1264" r="3.7"/><circle cy="1242" r="3.7"/><circle cy="1185" r="3.7"/><circle cy="1294" r="3.7"/><circle cy="1284" r="3.7"/><circle cy="1237" r="3.7"/><circle cy="1274" r="3.7"/><circle cy="1277" r="3.7"/><circle cy="1285" r="3.7"/><circle cy="1255" r="3.7"/><circle cy="1272" r="3.7"/><circle cy="1266" r="3.7"/><circle cy="1229" r="3.7"/></g><g transform="translate(331.8)"><circle cy="1320" r="3.7"/><circle cy="1265" r="3.7"/><circle cy="1202" r="3.7"/><circle cy="1187" r="3.7"/><circle cy="1234" r="3.7"/><circle cy="1205" r="3.7"/><circle cy="1225" r="3.7"/><circle cy="1292" r="3.7"/><circle cy="1337" r="3.7"/><circle cy="1321" r="3.7"/><circle cy="1252" r="3.7"/><circle cy="1302" r="3.7"/><circle cy="1270" r="3.7"/><circle cy="1322" r="3.7"/><circle cy="1254" r="3.7"/><circle cy="1217" r="3.7"/><circle cy="1240" r="3.7"/><circle cy="1257" r="3.7"/><circle cy="1285" r="3.7"/><circle cy="1253" r="3.7"/><circle cy="1235" r="3.7"/><circle cy="1246" r="3.7"/><circle cy="1354" r="3.7"/><circle cy="1272" r="3.7"/><circle cy="1295" r="3.7"/><circle cy="1223" r="3.7"/><circle cy="1312" r="3.7"/><circle cy="1248" r="3.7"/><circle cy="1294" r="3.7"/><circle cy="1267" r="3.7"/><circle cy="1305" r="3.7"/><circle cy="1255" r="3.7"/><circle cy="1207" r="3.7"/><circle cy="1249" r="3.7"/><circle cy="1192" r="3.7"/><circle cy="1268" r="3.7"/><circle cy="1280" r="3.7"/><circle cy="1259" r="3.7"/><circle cy="1308" r="3.7"/><circle cy="1275" r="3.7"/><circle cy="1233" r="3.7"/><circle cy="1263" r="3.7"/><circle cy="1262" r="3.7"/><circle cy="1277" r="3.7"/><circle cy="1284" r="3.7"/><circle cy="1227" r="3.7"/><circle cy="1323" r="3.7"/><circle cy="1260" r="3.7"/><circle cy="1274" r="3.7"/><circle cy="1273" r="3.7"/><circle cy="1271" r="3.7"/><circle cy="1298" r="3.7"/><circle cy="1276" r="3.7"/><circle cy="1314" r="3.7"/><circle cy="1328" r="3.7"/><circle cy="1232" r="3.7"/><circle cy="1241" r="3.7"/><circle cy="1266" r="3.7"/><circle cy="1269" r="3.7"/><circle cy="1258" r="3.7"/><circle cy="1238" r="3.7"/><circle cy="1319" r="3.7"/><circle cy="1218" r="3.7"/><circle cy="1309" r="3.7"/><circle cy="1291" r="3.7"/><circle cy="1282" r="3.7"/><circle cy="1324" r="3.7"/><circle cy="1096" r="3.7"/></g><g transform="translate(340.1)"><circle cy="1196" r="3.7"/><circle cy="1236" r="3.7"/><circle cy="1222" r="3.7"/><circle cy="1302" r="3.7"/><circle cy="1316" r="3.7"/><circle cy="1323" r="3.7"/><circle cy="1328" r="3.7"/><circle cy="1220" r="3.7"/><circle cy="1281" r="3.7"/><circle cy="1317" r="3.7"/><circle cy="1246" r="3.7"/><circle cy="1299" r="3.7"/><circle cy="1265" r="3.7"/><circle cy="1309" r="3.7"/><circle cy="1256" r="3.7"/><circle cy="1252" r="3.7"/><circle cy="1350" r="3.7"/><circle cy="1295" r="3.7"/><circle cy="1243" r="3.7"/><circle cy="1235" r="3.7"/><circle cy="1261" r="3.7"/><circle cy="1228" r="3.7"/><circle cy="1248" r="3.7"/><circle cy="1268" r="3.7"/><circle cy="1318" r="3.7"/><circle cy="1280" r="3.7"/><circle cy="1207" r="3.7"/><circle cy="1326" r="3.7"/><circle cy="1238" r="3.7"/><circle cy="1204" r="3.7"/><circle cy="1227" r="3.7"/><circle cy="1183" r="3.7"/><circle cy="1221" r="3.7"/><circle cy="1239" r="3.7"/><circle cy="1200" r="3.7"/><circle cy="1290" r="3.7"/><circle cy="1363" r="3.7"/><circle cy="1334" r="3.7"/><circle cy="1279" r="3.7"/><circle cy="1303" r="3.7"/><circle cy="1342" r="3.7"/><circle cy="1291" r="3.7"/><circle cy="1214" r="3.7"/><circle cy="1182" r="3.7"/><circle cy="1289" r="3.7"/><circle cy="1249" r="3.7"/><circle cy="1288" r="3.7"/><circle cy="1245" r="3.7"/><circle cy="1224" r="3.7"/><circle cy="1274" r="3.7"/><circle cy="1225" r="3.7"/><circle cy="1297" r="3.7"/><circle cy="1284" r="3.7"/><circle cy="1240" r="3.7"/><circle cy="1260" r="3.7"/><circle cy="1237" r="3.7"/><circle cy="1273" r="3.7"/><circle cy="1305" r="3.7"/><circle cy="1306" r="3.7"/><circle cy="1232" r="3.7"/><circle cy="1296" r="3.7"/><circle cy="1241" r="3.7"/><circle cy="1267" r="3.7"/><circle cy="1257" r="3.7"/><circle cy="1212" r="3.7"/><circle cy="1277" r="3.7"/><circle cy="1259" r="3.7"/><circle cy="1311" r="3.7"/><circle cy="1266" r="3.7"/><circle cy="1304" r="3.7"/><circle cy="1254" r="3.7"/><circle cy="1330" r="3.7"/><circle cy="1247" r="3.7"/><circle cy="1234" r="3.7"/><circle cy="1356" r="3.7"/><circle cy="1113" r="3.7"/><circle cy="1169" r="3.7"/><circle cy="1178" r="3.7"/><circle cy="1112" r="3.7"/></g><g transform="translate(348.5)"><circle cy="1235" r="3.7"/><circle cy="1209" r="3.7"/><circle cy="1293" r="3.7"/><circle cy="1257" r="3.7"/><circle cy="1234" r="3.7"/><circle cy="1218" r="3.7"/><circle cy="1206" r="3.7"/><circle cy="1294" r="3.7"/><circle cy="1184" r="3.7"/><circle cy="1205" r="3.7"/><circle cy="1182" r="3.7"/><circle cy="1250" r="3.7"/><circle cy="1261" r="3.7"/><circle cy="1190" r="3.7"/><circle cy="1285" r="3.7"/><circle cy="1265" r="3.7"/><circle cy="1248" r="3.7"/><circle cy="1171" r="3.7"/><circle cy="1249" r="3.7"/><circle cy="1224" r="3.7"/><circle cy="1225" r="3.7"/><circle cy="1280" r="3.7"/><circle cy="1185" r="3.7"/><circle cy="1192" r="3.7"/><circle cy="1267" r="3.7"/><circle cy="1240" r="3.7"/><circle cy="1226" r="3.7"/><circle cy="1228" r="3.7"/><circle cy="1157" r="3.7"/><circle cy="1231" r="3.7"/><circle cy="1238" r="3.7"/><circle cy="1290" r="3.7"/><circle cy="1244" r="3.7"/><circle cy="1282" r="3.7"/><circle cy="1203" r="3.7"/><circle cy="1232" r="3.7"/><circle cy="1274" r="3.7"/><circle cy="1310" r="3.7"/><circle cy="1221" r="3.7"/><circle cy="1296" r="3.7"/><circle cy="1291" r="3.7"/><circle cy="1278" r="3.7"/><circle cy="1272" r="3.7"/><circle cy="1251" r="3.7"/><circle cy="1217" r="3.7"/><circle cy="1247" r="3.7"/><circle cy="1295" r="3.7"/><circle cy="1227" r="3.7"/><circle cy="1264" r="3.7"/><circle cy="1269" r="3.7"/><circle cy="1324" r="3.7"/><circle cy="1263" r="3.7"/><circle cy="1284" r="3.7"/><circle cy="1300" r="3.7"/><circle cy="1210" r="3.7"/><circle cy="1322" r="3.7"/><circle cy="1311" r="3.7"/><circle cy="1197" r="3.7"/><circle cy="1213" r="3.7"/><circle cy="1287" r="3.7"/><circle cy="1262" r="3.7"/><circle cy="1211" r="3.7"/><circle cy="1191" r="3.7"/><circle cy="1183" r="3.7"/><circle cy="1254" r="3.7"/><circle cy="1270" r="3.7"/><circle cy="1357" r="3.7"/><circle cy="1127" r="3.7"/><circle cy="1158" r="3.7"/><circle cy="1167" r="3.7"/><circle cy="1128" r="3.7"/></g><g transform="translate(356.8)"><circle cy="1232" r="3.7"/><circle cy="1294" r="3.7"/><circle cy="1288" r="3.7"/><circle cy="1172" r="3.7"/><circle cy="1271" r="3.7"/><circle cy="1286" r="3.7"/><circle cy="1220" r="3.7"/><circle cy="1258" r="3.7"/><circle cy="1178" r="3.7"/><circle cy="1205" r="3.7"/><circle cy="1262" r="3.7"/><circle cy="1169" r="3.7"/><circle cy="1185" r="3.7"/><circle cy="1194" r="3.7"/><circle cy="1275" r="3.7"/><circle cy="1244" r="3.7"/><circle cy="1243" r="3.7"/><circle cy="1338" r="3.7"/><circle cy="1300" r="3.7"/><circle cy="1319" r="3.7"/><circle cy="1211" r="3.7"/><circle cy="1212" r="3.7"/><circle cy="1293" r="3.7"/><circle cy="1326" r="3.7"/><circle cy="1285" r="3.7"/><circle cy="1198" r="3.7"/><circle cy="1233" r="3.7"/><circle cy="1254" r="3.7"/><circle cy="1291" r="3.7"/><circle cy="1263" r="3.7"/><circle cy="1259" r="3.7"/><circle cy="1268" r="3.7"/><circle cy="1207" r="3.7"/><circle cy="1299" r="3.7"/><circle cy="1248" r="3.7"/><circle cy="1149" r="3.7"/><circle cy="1234" r="3.7"/><circle cy="1196" r="3.7"/><circle cy="1334" r="3.7"/><circle cy="1261" r="3.7"/><circle cy="1276" r="3.7"/><circle cy="1307" r="3.7"/><circle cy="1252" r="3.7"/><circle cy="1292" r="3.7"/><circle cy="1311" r="3.7"/><circle cy="1204" r="3.7"/><circle cy="1273" r="3.7"/><circle cy="1333" r="3.7"/><circle cy="1226" r="3.7"/><circle cy="1249" r="3.7"/><circle cy="1201" r="3.7"/><circle cy="1256" r="3.7"/><circle cy="1229" r="3.7"/><circle cy="1297" r="3.7"/><circle cy="1267" r="3.7"/><circle cy="1222" r="3.7"/><circle cy="1260" r="3.7"/><circle cy="1264" r="3.7"/><circle cy="1239" r="3.7"/><circle cy="1224" r="3.7"/><circle cy="1329" r="3.7"/><circle cy="1283" r="3.7"/><circle cy="1235" r="3.7"/><circle cy="1265" r="3.7"/><circle cy="1314" r="3.7"/><circle cy="1250" r="3.7"/><circle cy="1236" r="3.7"/><circle cy="1230" r="3.7"/><circle cy="1231" r="3.7"/><circle cy="1127" r="3.7"/><circle cy="1144" r="3.7"/><circle cy="1154" r="3.7"/><circle cy="1111" r="3.7"/></g><g transform="translate(365.2)"><circle cy="1264" r="3.7"/><circle cy="1318" r="3.7"/><circle cy="1208" r="3.7"/><circle cy="1277" r="3.7"/><circle cy="1282" r="3.7"/><circle cy="1268" r="3.7"/><circle cy="1309" r="3.7"/><circle cy="1213" r="3.7"/><circle cy="1283" r="3.7"/><circle cy="1199" r="3.7"/><circle cy="1329" r="3.7"/><circle cy="1218" r="3.7"/><circle cy="1295" r="3.7"/><circle cy="1326" r="3.7"/><circle cy="1235" r="3.7"/><circle cy="1272" r="3.7"/><circle cy="1275" r="3.7"/><circle cy="1240" r="3.7"/><circle cy="1243" r="3.7"/><circle cy="1241" r="3.7"/><circle cy="1325" r="3.7"/><circle cy="1250" r="3.7"/><circle cy="1347" r="3.7"/><circle cy="1262" r="3.7"/><circle cy="1178" r="3.7"/><circle cy="1229" r="3.7"/><circle cy="1302" r="3.7"/><circle cy="1334" r="3.7"/><circle cy="1346" r="3.7"/><circle cy="1320" r="3.7"/><circle cy="1291" r="3.7"/><circle cy="1252" r="3.7"/><circle cy="1179" r="3.7"/><circle cy="1267" r="3.7"/><circle cy="1254" r="3.7"/><circle cy="1352" r="3.7"/><circle cy="1284" r="3.7"/><circle cy="1211" r="3.7"/><circle cy="1323" r="3.7"/><circle cy="1223" r="3.7"/><circle cy="1221" r="3.7"/><circle cy="1256" r="3.7"/><circle cy="1276" r="3.7"/><circle cy="1247" r="3.7"/><circle cy="1301" r="3.7"/><circle cy="1279" r="3.7"/><circle cy="1253" r="3.7"/><circle cy="1195" r="3.7"/><circle cy="1215" r="3.7"/><circle cy="1286" r="3.7"/><circle cy="1331" r="3.7"/><circle cy="1273" r="3.7"/><circle cy="1285" r="3.7"/><circle cy="1225" r="3.7"/><circle cy="1231" r="3.7"/><circle cy="1233" r="3.7"/><circle cy="1342" r="3.7"/><circle cy="1274" r="3.7"/><circle cy="1249" r="3.7"/><circle cy="1316" r="3.7"/><circle cy="1257" r="3.7"/><circle cy="1307" r="3.7"/><circle cy="1258" r="3.7"/><circle cy="1260" r="3.7"/><circle cy="1290" r="3.7"/><circle cy="1244" r="3.7"/><circle cy="1314" r="3.7"/><circle cy="1073" r="3.7"/><circle cy="1111" r="3.7"/><circle cy="1106" r="3.7"/></g><g transform="translate(373.5)"><circle cy="1212" r="3.7"/><circle cy="1216" r="3.7"/><circle cy="1247" r="3.7"/><circle cy="1236" r="3.7"/><circle cy="1227" r="3.7"/><circle cy="1221" r="3.7"/><circle cy="1256" r="3.7"/><circle cy="1244" r="3.7"/><circle cy="1241" r="3.7"/><circle cy="1199" r="3.7"/><circle cy="1262" r="3.7"/><circle cy="1261" r="3.7"/><circle cy="1228" r="3.7"/><circle cy="1356" r="3.7"/><circle cy="1286" r="3.7"/><circle cy="1341" r="3.7"/><circle cy="1329" r="3.7"/><circle cy="1222" r="3.7"/><circle cy="1219" r="3.7"/><circle cy="1242" r="3.7"/><circle cy="1282" r="3.7"/><circle cy="1232" r="3.7"/><circle cy="1186" r="3.7"/><circle cy="1206" r="3.7"/><circle cy="1246" r="3.7"/><circle cy="1279" r="3.7"/><circle cy="1335" r="3.7"/><circle cy="1294" r="3.7"/><circle cy="1248" r="3.7"/><circle cy="1211" r="3.7"/><circle cy="1319" r="3.7"/><circle cy="1318" r="3.7"/><circle cy="1197" r="3.7"/><circle cy="1274" r="3.7"/><circle cy="1267" r="3.7"/><circle cy="1280" r="3.7"/><circle cy="1239" r="3.7"/><circle cy="1276" r="3.7"/><circle cy="1312" r="3.7"/><circle cy="1313" r="3.7"/><circle cy="1302" r="3.7"/><circle cy="1259" r="3.7"/><circle cy="1292" r="3.7"/><circle cy="1251" r="3.7"/><circle cy="1287" r="3.7"/><circle cy="1296" r="3.7"/><circle cy="1327" r="3.7"/><circle cy="1278" r="3.7"/><circle cy="1268" r="3.7"/><circle cy="1218" r="3.7"/><circle cy="1269" r="3.7"/><circle cy="1293" r="3.7"/><circle cy="1231" r="3.7"/><circle cy="1237" r="3.7"/><circle cy="1249" r="3.7"/><circle cy="1213" r="3.7"/><circle cy="1301" r="3.7"/><circle cy="1330" r="3.7"/><circle cy="1240" r="3.7"/><circle cy="1332" r="3.7"/><circle cy="1285" r="3.7"/><circle cy="1226" r="3.7"/><circle cy="1277" r="3.7"/><circle cy="1214" r="3.7"/><circle cy="1182" r="3.7"/><circle cy="1243" r="3.7"/><circle cy="1254" r="3.7"/><circle cy="1229" r="3.7"/><circle cy="1291" r="3.7"/><circle cy="1273" r="3.7"/><circle cy="1224" r="3.7"/></g><g transform="translate(381.8)"><circle cy="1178" r="3.7"/><circle cy="1218" r="3.7"/><circle cy="1234" r="3.7"/><circle cy="1338" r="3.7"/><circle cy="1246" r="3.7"/><circle cy="1256" r="3.7"/><circle cy="1255" r="3.7"/><circle cy="1226" r="3.7"/><circle cy="1241" r="3.7"/><circle cy="1297" r="3.7"/><circle cy="1320" r="3.7"/><circle cy="1224" r="3.7"/><circle cy="1317" r="3.7"/><circle cy="1288" r="3.7"/><circle cy="1236" r="3.7"/><circle cy="1287" r="3.7"/><circle cy="1355" r="3.7"/><circle cy="1228" r="3.7"/><circle cy="1340" r="3.7"/><circle cy="1202" r="3.7"/><circle cy="1249" r="3.7"/><circle cy="1291" r="3.7"/><circle cy="1285" r="3.7"/><circle cy="1328" r="3.7"/><circle cy="1274" r="3.7"/><circle cy="1333" r="3.7"/><circle cy="1271" r="3.7"/><circle cy="1244" r="3.7"/><circle cy="1232" r="3.7"/><circle cy="1336" r="3.7"/><circle cy="1266" r="3.7"/><circle cy="1281" r="3.7"/><circle cy="1239" r="3.7"/><circle cy="1257" r="3.7"/><circle cy="1219" r="3.7"/><circle cy="1275" r="3.7"/><circle cy="1295" r="3.7"/><circle cy="1308" r="3.7"/><circle cy="1188" r="3.7"/><circle cy="1254" r="3.7"/><circle cy="1312" r="3.7"/><circle cy="1220" r="3.7"/><circle cy="1215" r="3.7"/><circle cy="1304" r="3.7"/><circle cy="1334" r="3.7"/><circle cy="1323" r="3.7"/><circle cy="1339" r="3.7"/><circle cy="1225" r="3.7"/><circle cy="1221" r="3.7"/><circle cy="1270" r="3.7"/><circle cy="1296" r="3.7"/><circle cy="1294" r="3.7"/><circle cy="1315" r="3.7"/><circle cy="1261" r="3.7"/><circle cy="1231" r="3.7"/><circle cy="1310" r="3.7"/><circle cy="1365" r="3.7"/><circle cy="1298" r="3.7"/><circle cy="1193" r="3.7"/><circle cy="1269" r="3.7"/><circle cy="1280" r="3.7"/><circle cy="1277" r="3.7"/><circle cy="1262" r="3.7"/><circle cy="1265" r="3.7"/><circle cy="1252" r="3.7"/><circle cy="1182" r="3.7"/><circle cy="1335" r="3.7"/><circle cy="1278" r="3.7"/></g><g transform="translate(390.2)"><circle cy="1258" r="3.7"/><circle cy="1168" r="3.7"/><circle cy="1214" r="3.7"/><circle cy="1336" r="3.7"/><circle cy="1215" r="3.7"/><circle cy="1313" r="3.7"/><circle cy="1210" r="3.7"/><circle cy="1218" r="3.7"/><circle cy="1304" r="3.7"/><circle cy="1339" r="3.7"/><circle cy="1283" r="3.7"/><circle cy="1166" r="3.7"/><circle cy="1288" r="3.7"/><circle cy="1226" r="3.7"/><circle cy="1286" r="3.7"/><circle cy="1197" r="3.7"/><circle cy="1189" r="3.7"/><circle cy="1212" r="3.7"/><circle cy="1270" r="3.7"/><circle cy="1328" r="3.7"/><circle cy="1278" r="3.7"/><circle cy="1261" r="3.7"/><circle cy="1297" r="3.7"/><circle cy="1282" r="3.7"/><circle cy="1251" r="3.7"/><circle cy="1350" r="3.7"/><circle cy="1252" r="3.7"/><circle cy="1205" r="3.7"/><circle cy="1317" r="3.7"/><circle cy="1268" r="3.7"/><circle cy="1255" r="3.7"/><circle cy="1237" r="3.7"/><circle cy="1318" r="3.7"/><circle cy="1234" r="3.7"/><circle cy="1281" r="3.7"/><circle cy="1245" r="3.7"/><circle cy="1172" r="3.7"/><circle cy="1192" r="3.7"/><circle cy="1186" r="3.7"/><circle cy="1320" r="3.7"/><circle cy="1300" r="3.7"/><circle cy="1314" r="3.7"/><circle cy="1263" r="3.7"/><circle cy="1242" r="3.7"/><circle cy="1271" r="3.7"/><circle cy="1316" r="3.7"/><circle cy="1249" r="3.7"/><circle cy="1231" r="3.7"/><circle cy="1296" r="3.7"/><circle cy="1241" r="3.7"/><circle cy="1325" r="3.7"/><circle cy="1260" r="3.7"/><circle cy="1179" r="3.7"/><circle cy="1273" r="3.7"/><circle cy="1201" r="3.7"/><circle cy="1265" r="3.7"/><circle cy="1262" r="3.7"/><circle cy="1295" r="3.7"/><circle cy="1250" r="3.7"/><circle cy="1276" r="3.7"/><circle cy="1221" r="3.7"/><circle cy="1277" r="3.7"/><circle cy="1254" r="3.7"/><circle cy="1253" r="3.7"/><circle cy="1275" r="3.7"/><circle cy="1156" r="3.7"/><circle cy="1287" r="3.7"/><circle cy="1211" r="3.7"/><circle cy="1246" r="3.7"/><circle cy="1280" r="3.7"/><circle cy="1236" r="3.7"/><circle cy="1264" r="3.7"/><circle cy="1060" r="3.7"/><circle cy="1068" r="3.7"/><circle cy="1084" r="3.7"/><circle cy="1114" r="3.7"/><circle cy="1118" r="3.7"/><circle cy="1129" r="3.7"/><circle cy="1141" r="3.7"/></g><g transform="translate(398.5)"><circle cy="1233" r="3.7"/><circle cy="1275" r="3.7"/><circle cy="1215" r="3.7"/><circle cy="1264" r="3.7"/><circle cy="1331" r="3.7"/><circle cy="1223" r="3.7"/><circle cy="1232" r="3.7"/><circle cy="1335" r="3.7"/><circle cy="1262" r="3.7"/><circle cy="1270" r="3.7"/><circle cy="1260" r="3.7"/><circle cy="1207" r="3.7"/><circle cy="1241" r="3.7"/><circle cy="1274" r="3.7"/><circle cy="1271" r="3.7"/><circle cy="1183" r="3.7"/><circle cy="1174" r="3.7"/><circle cy="1292" r="3.7"/><circle cy="1226" r="3.7"/><circle cy="1182" r="3.7"/><circle cy="1253" r="3.7"/><circle cy="1291" r="3.7"/><circle cy="1310" r="3.7"/><circle cy="1194" r="3.7"/><circle cy="1296" r="3.7"/><circle cy="1190" r="3.7"/><circle cy="1193" r="3.7"/><circle cy="1228" r="3.7"/><circle cy="1230" r="3.7"/><circle cy="1319" r="3.7"/><circle cy="1137" r="3.7"/><circle cy="1295" r="3.7"/><circle cy="1231" r="3.7"/><circle cy="1311" r="3.7"/><circle cy="1307" r="3.7"/><circle cy="1235" r="3.7"/><circle cy="1306" r="3.7"/><circle cy="1258" r="3.7"/><circle cy="1198" r="3.7"/><circle cy="1254" r="3.7"/><circle cy="1184" r="3.7"/><circle cy="1300" r="3.7"/><circle cy="1250" r="3.7"/><circle cy="1203" r="3.7"/><circle cy="1333" r="3.7"/><circle cy="1280" r="3.7"/><circle cy="1273" r="3.7"/><circle cy="1309" r="3.7"/><circle cy="1185" r="3.7"/><circle cy="1229" r="3.7"/><circle cy="1247" r="3.7"/><circle cy="1269" r="3.7"/><circle cy="1242" r="3.7"/><circle cy="1297" r="3.7"/><circle cy="1305" r="3.7"/><circle cy="1217" r="3.7"/><circle cy="1281" r="3.7"/><circle cy="1259" r="3.7"/><circle cy="1248" r="3.7"/><circle cy="1267" r="3.7"/><circle cy="1205" r="3.7"/><circle cy="1225" r="3.7"/><circle cy="1236" r="3.7"/><circle cy="1206" r="3.7"/><circle cy="1290" r="3.7"/><circle cy="1188" r="3.7"/><circle cy="1208" r="3.7"/><circle cy="1255" r="3.7"/><circle cy="1349" r="3.7"/><circle cy="1118" r="3.7"/><circle cy="1135" r="3.7"/><circle cy="1142" r="3.7"/><circle cy="1149" r="3.7"/><circle cy="1157" r="3.7"/></g><g transform="translate(406.9)"><circle cy="1236" r="3.7"/><circle cy="1316" r="3.7"/><circle cy="1193" r="3.7"/><circle cy="1280" r="3.7"/><circle cy="1269" r="3.7"/><circle cy="1210" r="3.7"/><circle cy="1312" r="3.7"/><circle cy="1344" r="3.7"/><circle cy="1229" r="3.7"/><circle cy="1283" r="3.7"/><circle cy="1227" r="3.7"/><circle cy="1270" r="3.7"/><circle cy="1303" r="3.7"/><circle cy="1278" r="3.7"/><circle cy="1301" r="3.7"/><circle cy="1324" r="3.7"/><circle cy="1309" r="3.7"/><circle cy="1212" r="3.7"/><circle cy="1256" r="3.7"/><circle cy="1288" r="3.7"/><circle cy="1321" r="3.7"/><circle cy="1246" r="3.7"/><circle cy="1167" r="3.7"/><circle cy="1287" r="3.7"/><circle cy="1295" r="3.7"/><circle cy="1284" r="3.7"/><circle cy="1181" r="3.7"/><circle cy="1281" r="3.7"/><circle cy="1183" r="3.7"/><circle cy="1273" r="3.7"/><circle cy="1199" r="3.7"/><circle cy="1285" r="3.7"/><circle cy="1184" r="3.7"/><circle cy="1291" r="3.7"/><circle cy="1299" r="3.7"/><circle cy="1277" r="3.7"/><circle cy="1213" r="3.7"/><circle cy="1317" r="3.7"/><circle cy="1267" r="3.7"/><circle cy="1364" r="3.7"/><circle cy="1237" r="3.7"/><circle cy="1266" r="3.7"/><circle cy="1297" r="3.7"/><circle cy="1294" r="3.7"/><circle cy="1264" r="3.7"/><circle cy="1262" r="3.7"/><circle cy="1298" r="3.7"/><circle cy="1207" r="3.7"/><circle cy="1249" r="3.7"/><circle cy="1367" r="3.7"/><circle cy="1279" r="3.7"/><circle cy="1302" r="3.7"/><circle cy="1253" r="3.7"/><circle cy="1196" r="3.7"/><circle cy="1232" r="3.7"/><circle cy="1310" r="3.7"/><circle cy="1345" r="3.7"/><circle cy="1159" r="3.7"/><circle cy="1360" r="3.7"/><circle cy="1203" r="3.7"/><circle cy="1363" r="3.7"/><circle cy="1233" r="3.7"/><circle cy="1261" r="3.7"/><circle cy="1208" r="3.7"/><circle cy="1234" r="3.7"/><circle cy="1293" r="3.7"/><circle cy="1223" r="3.7"/><circle cy="1276" r="3.7"/><circle cy="1286" r="3.7"/><circle cy="1163" r="3.7"/></g><g transform="translate(415.2)"><circle cy="1197" r="3.7"/><circle cy="1266" r="3.7"/><circle cy="1185" r="3.7"/><circle cy="1253" r="3.7"/><circle cy="1191" r="3.7"/><circle cy="1237" r="3.7"/><circle cy="1276" r="3.7"/><circle cy="1263" r="3.7"/><circle cy="1250" r="3.7"/><circle cy="1213" r="3.7"/><circle cy="1291" r="3.7"/><circle cy="1175" r="3.7"/><circle cy="1259" r="3.7"/><circle cy="1207" r="3.7"/><circle cy="1218" r="3.7"/><circle cy="1270" r="3.7"/><circle cy="1233" r="3.7"/><circle cy="1300" r="3.7"/><circle cy="1279" r="3.7"/><circle cy="1236" r="3.7"/><circle cy="1254" r="3.7"/><circle cy="1212" r="3.7"/><circle cy="1326" r="3.7"/><circle cy="1290" r="3.7"/><circle cy="1251" r="3.7"/><circle cy="1322" r="3.7"/><circle cy="1303" r="3.7"/><circle cy="1273" r="3.7"/><circle cy="1242" r="3.7"/><circle cy="1247" r="3.7"/><circle cy="1283" r="3.7"/><circle cy="1221" r="3.7"/><circle cy="1311" r="3.7"/><circle cy="1272" r="3.7"/><circle cy="1209" r="3.7"/><circle cy="1268" r="3.7"/><circle cy="1200" r="3.7"/><circle cy="1280" r="3.7"/><circle cy="1232" r="3.7"/><circle cy="1287" r="3.7"/><circle cy="1246" r="3.7"/><circle cy="1225" r="3.7"/><circle cy="1238" r="3.7"/><circle cy="1230" r="3.7"/><circle cy="1285" r="3.7"/><circle cy="1239" r="3.7"/><circle cy="1257" r="3.7"/><circle cy="1255" r="3.7"/><circle cy="1219" r="3.7"/><circle cy="1304" r="3.7"/><circle cy="1282" r="3.7"/><circle cy="1275" r="3.7"/><circle cy="1292" r="3.7"/><circle cy="1235" r="3.7"/><circle cy="1302" r="3.7"/><circle cy="1184" r="3.7"/><circle cy="1229" r="3.7"/><circle cy="1338" r="3.7"/><circle cy="1267" r="3.7"/><circle cy="1252" r="3.7"/><circle cy="1227" r="3.7"/><circle cy="1269" r="3.7"/></g><g transform="translate(423.6)"><circle cy="1258" r="3.7"/><circle cy="1224" r="3.7"/><circle cy="1231" r="3.7"/><circle cy="1276" r="3.7"/><circle cy="1254" r="3.7"/><circle cy="1176" r="3.7"/><circle cy="1232" r="3.7"/><circle cy="1297" r="3.7"/><circle cy="1330" r="3.7"/><circle cy="1319" r="3.7"/><circle cy="1288" r="3.7"/><circle cy="1206" r="3.7"/><circle cy="1246" r="3.7"/><circle cy="1305" r="3.7"/><circle cy="1314" r="3.7"/><circle cy="1223" r="3.7"/><circle cy="1263" r="3.7"/><circle cy="1197" r="3.7"/><circle cy="1312" r="3.7"/><circle cy="1201" r="3.7"/><circle cy="1167" r="3.7"/><circle cy="1208" r="3.7"/><circle cy="1239" r="3.7"/><circle cy="1269" r="3.7"/><circle cy="1290" r="3.7"/><circle cy="1241" r="3.7"/><circle cy="1205" r="3.7"/><circle cy="1244" r="3.7"/><circle cy="1242" r="3.7"/><circle cy="1285" r="3.7"/><circle cy="1278" r="3.7"/><circle cy="1219" r="3.7"/><circle cy="1260" r="3.7"/><circle cy="1294" r="3.7"/><circle cy="1292" r="3.7"/><circle cy="1332" r="3.7"/><circle cy="1273" r="3.7"/><circle cy="1318" r="3.7"/><circle cy="1240" r="3.7"/><circle cy="1270" r="3.7"/><circle cy="1316" r="3.7"/><circle cy="1245" r="3.7"/><circle cy="1272" r="3.7"/><circle cy="1212" r="3.7"/><circle cy="1250" r="3.7"/><circle cy="1256" r="3.7"/><circle cy="1271" r="3.7"/><circle cy="1215" r="3.7"/><circle cy="1249" r="3.7"/><circle cy="1298" r="3.7"/><circle cy="1218" r="3.7"/><circle cy="1282" r="3.7"/><circle cy="1255" r="3.7"/><circle cy="1266" r="3.7"/><circle cy="1188" r="3.7"/><circle cy="1326" r="3.7"/><circle cy="1225" r="3.7"/><circle cy="1251" r="3.7"/><circle cy="1233" r="3.7"/><circle cy="1283" r="3.7"/><circle cy="1268" r="3.7"/><circle cy="1296" r="3.7"/><circle cy="1261" r="3.7"/><circle cy="1214" r="3.7"/><circle cy="1202" r="3.7"/><circle cy="1220" r="3.7"/><circle cy="1209" r="3.7"/><circle cy="1234" r="3.7"/><circle cy="1310" r="3.7"/><circle cy="1154" r="3.7"/></g><g transform="translate(431.9)"><circle cy="1295" r="3.7"/><circle cy="1231" r="3.7"/><circle cy="1243" r="3.7"/><circle cy="1235" r="3.7"/><circle cy="1275" r="3.7"/><circle cy="1225" r="3.7"/><circle cy="1242" r="3.7"/><circle cy="1299" r="3.7"/><circle cy="1269" r="3.7"/><circle cy="1313" r="3.7"/><circle cy="1182" r="3.7"/><circle cy="1282" r="3.7"/><circle cy="1241" r="3.7"/><circle cy="1237" r="3.7"/><circle cy="1218" r="3.7"/><circle cy="1193" r="3.7"/><circle cy="1259" r="3.7"/><circle cy="1249" r="3.7"/><circle cy="1300" r="3.7"/><circle cy="1254" r="3.7"/><circle cy="1285" r="3.7"/><circle cy="1262" r="3.7"/><circle cy="1263" r="3.7"/><circle cy="1256" r="3.7"/><circle cy="1206" r="3.7"/><circle cy="1280" r="3.7"/><circle cy="1230" r="3.7"/><circle cy="1248" r="3.7"/><circle cy="1271" r="3.7"/><circle cy="1219" r="3.7"/><circle cy="1270" r="3.7"/><circle cy="1239" r="3.7"/><circle cy="1257" r="3.7"/><circle cy="1268" r="3.7"/><circle cy="1216" r="3.7"/><circle cy="1238" r="3.7"/><circle cy="1258" r="3.7"/><circle cy="1277" r="3.7"/><circle cy="1294" r="3.7"/><circle cy="1276" r="3.7"/><circle cy="1255" r="3.7"/><circle cy="1330" r="3.7"/><circle cy="1281" r="3.7"/><circle cy="1226" r="3.7"/><circle cy="1245" r="3.7"/><circle cy="1162" r="3.7"/><circle cy="1186" r="3.7"/></g><g transform="translate(440.2)"><circle cy="1199" r="3.7"/><circle cy="1308" r="3.7"/><circle cy="1242" r="3.7"/><circle cy="1333" r="3.7"/><circle cy="1200" r="3.7"/><circle cy="1264" r="3.7"/><circle cy="1267" r="3.7"/><circle cy="1235" r="3.7"/><circle cy="1243" r="3.7"/><circle cy="1248" r="3.7"/><circle cy="1285" r="3.7"/><circle cy="1339" r="3.7"/><circle cy="1254" r="3.7"/><circle cy="1293" r="3.7"/><circle cy="1198" r="3.7"/><circle cy="1325" r="3.7"/><circle cy="1298" r="3.7"/><circle cy="1276" r="3.7"/><circle cy="1266" r="3.7"/><circle cy="1229" r="3.7"/><circle cy="1273" r="3.7"/><circle cy="1251" r="3.7"/><circle cy="1204" r="3.7"/><circle cy="1315" r="3.7"/><circle cy="1284" r="3.7"/><circle cy="1311" r="3.7"/><circle cy="1249" r="3.7"/><circle cy="1312" r="3.7"/><circle cy="1278" r="3.7"/><circle cy="1283" r="3.7"/><circle cy="1256" r="3.7"/><circle cy="1309" r="3.7"/><circle cy="1326" r="3.7"/><circle cy="1253" r="3.7"/><circle cy="1244" r="3.7"/><circle cy="1252" r="3.7"/><circle cy="1210" r="3.7"/><circle cy="1225" r="3.7"/><circle cy="1159" r="3.7"/><circle cy="1166" r="3.7"/></g><g transform="translate(448.6)"><circle cy="1262" r="3.7"/><circle cy="1186" r="3.7"/><circle cy="1277" r="3.7"/><circle cy="1294" r="3.7"/><circle cy="1246" r="3.7"/><circle cy="1298" r="3.7"/><circle cy="1231" r="3.7"/><circle cy="1225" r="3.7"/><circle cy="1321" r="3.7"/><circle cy="1187" r="3.7"/><circle cy="1293" r="3.7"/><circle cy="1299" r="3.7"/><circle cy="1316" r="3.7"/><circle cy="1275" r="3.7"/><circle cy="1220" r="3.7"/><circle cy="1232" r="3.7"/><circle cy="1266" r="3.7"/><circle cy="1273" r="3.7"/><circle cy="1207" r="3.7"/><circle cy="1265" r="3.7"/><circle cy="1308" r="3.7"/><circle cy="1196" r="3.7"/><circle cy="1287" r="3.7"/><circle cy="1284" r="3.7"/><circle cy="1228" r="3.7"/><circle cy="1236" r="3.7"/><circle cy="1268" r="3.7"/><circle cy="1244" r="3.7"/><circle cy="1329" r="3.7"/><circle cy="1201" r="3.7"/><circle cy="1295" r="3.7"/><circle cy="1172" r="3.7"/><circle cy="1174" r="3.7"/><circle cy="1190" r="3.7"/><circle cy="1192" r="3.7"/><circle cy="1226" r="3.7"/></g><g transform="translate(456.9)"><circle cy="1135" r="3.7"/><circle cy="1206" r="3.7"/><circle cy="1216" r="3.7"/><circle cy="1220" r="3.7"/><circle cy="1253" r="3.7"/><circle cy="1261" r="3.7"/><circle cy="1280" r="3.7"/><circle cy="1287" r="3.7"/><circle cy="1316" r="3.7"/><circle cy="1339" r="3.7"/></g><g transform="translate(465.3)"><circle cy="1216" r="3.7"/><circle cy="1220" r="3.7"/><circle cy="1228" r="3.7"/><circle cy="1268" r="3.7"/><circle cy="1278" r="3.7"/><circle cy="1324" r="3.7"/><circle cy="1328" r="3.7"/><circle cy="1340" r="3.7"/></g><g transform="translate(473.6)"><circle cy="1209" r="3.7"/><circle cy="1224" r="3.7"/><circle cy="1257" r="3.7"/><circle cy="1273" r="3.7"/><circle cy="1277" r="3.7"/><circle cy="1298" r="3.7"/><circle cy="1307" r="3.7"/><circle cy="1339" r="3.7"/></g><g transform="translate(481.9)"><circle cy="1218" r="3.7"/><circle cy="1284" r="3.7"/></g><g transform="translate(490.3)"><circle cy="1226" r="3.7"/><circle cy="1239" r="3.7"/></g><g transform="translate(498.6)"><circle cy="1231" r="3.7"/><circle cy="1240" r="3.7"/><circle cy="1269" r="3.7"/></g><g transform="translate(507)"><circle cy="1309" r="3.7"/></g><g transform="translate(515.3)"><circle cy="1300" r="3.7"/></g><g transform="translate(523.7)"><circle cy="1216" r="3.7"/></g></g><g class="w"><g transform="translate(149.1)"><circle cy="1365" r="3.7"/><circle cy="1355" r="3.7"/><circle cy="1351" r="3.7"/><circle cy="1377" r="3.7"/><circle cy="1333" r="3.7"/><circle cy="1370" r="3.7"/><circle cy="1337" r="3.7"/><circle cy="1380" r="3.7"/><circle cy="1313" r="3.7"/><circle cy="1346" r="3.7"/><circle cy="1371" r="3.7"/><circle cy="1336" r="3.7"/><circle cy="1340" r="3.7"/><circle cy="1348" r="3.7"/><circle cy="1367" r="3.7"/><circle cy="1316" r="3.7"/><circle cy="1329" r="3.7"/><circle cy="1328" r="3.7"/><circle cy="1314" r="3.7"/><circle cy="1331" r="3.7"/><circle cy="1353" r="3.7"/><circle cy="1327" r="3.7"/><circle cy="1384" r="3.7"/><circle cy="1323" r="3.7"/><circle cy="1332" r="3.7"/><circle cy="1375" r="3.7"/><circle cy="1383" r="3.7"/><circle cy="1368" r="3.7"/><circle cy="1369" r="3.7"/><circle cy="1322" r="3.7"/><circle cy="1378" r="3.7"/><circle cy="1335" r="3.7"/><circle cy="1363" r="3.7"/><circle cy="1344" r="3.7"/><circle cy="1360" r="3.7"/><circle cy="1311" r="3.7"/><circle cy="1326" r="3.7"/><circle cy="1312" r="3.7"/><circle cy="1308" r="3.7"/><circle cy="1361" r="3.7"/><circle cy="1324" r="3.7"/><circle cy="1376" r="3.7"/><circle cy="1341" r="3.7"/><circle cy="1334" r="3.7"/><circle cy="1381" r="3.7"/><circle cy="1386" r="3.7"/><circle cy="1366" r="3.7"/><circle cy="1339" r="3.7"/><circle cy="1382" r="3.7"/><circle cy="1350" r="3.7"/><circle cy="1319" r="3.7"/><circle cy="1318" r="3.7"/><circle cy="1317" r="3.7"/><circle cy="1357" r="3.7"/><circle cy="1373" r="3.7"/><circle cy="1359" r="3.7"/></g><g transform="translate(156.6)"><circle cy="1319" r="3.7"/><circle cy="1332" r="3.7"/><circle cy="1341" r="3.7"/><circle cy="1344" r="3.7"/><circle cy="1360" r="3.7"/><circle cy="1343" r="3.7"/><circle cy="1356" r="3.7"/><circle cy="1322" r="3.7"/><circle cy="1339" r="3.7"/><circle cy="1369" r="3.7"/><circle cy="1336" r="3.7"/><circle cy="1314" r="3.7"/><circle cy="1384" r="3.7"/><circle cy="1327" r="3.7"/><circle cy="1324" r="3.7"/><circle cy="1379" r="3.7"/><circle cy="1317" r="3.7"/><circle cy="1361" r="3.7"/><circle cy="1351" r="3.7"/><circle cy="1353" r="3.7"/><circle cy="1378" r="3.7"/><circle cy="1334" r="3.7"/><circle cy="1345" r="3.7"/><circle cy="1373" r="3.7"/><circle cy="1340" r="3.7"/><circle cy="1380" r="3.7"/><circle cy="1325" r="3.7"/><circle cy="1342" r="3.7"/><circle cy="1381" r="3.7"/><circle cy="1333" r="3.7"/><circle cy="1377" r="3.7"/><circle cy="1348" r="3.7"/><circle cy="1350" r="3.7"/><circle cy="1371" r="3.7"/><circle cy="1366" r="3.7"/><circle cy="1347" r="3.7"/><circle cy="1316" r="3.7"/><circle cy="1364" r="3.7"/><circle cy="1355" r="3.7"/><circle cy="1338" r="3.7"/><circle cy="1329" r="3.7"/><circle cy="1368" r="3.7"/><circle cy="1330" r="3.7"/><circle cy="1276" r="3.7"/></g><g transform="translate(165)"><circle cy="1348" r="3.7"/><circle cy="1343" r="3.7"/><circle cy="1358" r="3.7"/><circle cy="1314" r="3.7"/><circle cy="1305" r="3.7"/><circle cy="1337" r="3.7"/><circle cy="1360" r="3.7"/><circle cy="1357" r="3.7"/><circle cy="1359" r="3.7"/><circle cy="1327" r="3.7"/><circle cy="1321" r="3.7"/><circle cy="1315" r="3.7"/><circle cy="1331" r="3.7"/><circle cy="1318" r="3.7"/><circle cy="1312" r="3.7"/><circle cy="1306" r="3.7"/><circle cy="1325" r="3.7"/><circle cy="1309" r="3.7"/><circle cy="1362" r="3.7"/><circle cy="1365" r="3.7"/><circle cy="1349" r="3.7"/><circle cy="1350" r="3.7"/><circle cy="1353" r="3.7"/><circle cy="1363" r="3.7"/><circle cy="1342" r="3.7"/><circle cy="1341" r="3.7"/><circle cy="1316" r="3.7"/><circle cy="1323" r="3.7"/><circle cy="1338" r="3.7"/><circle cy="1313" r="3.7"/><circle cy="1311" r="3.7"/><circle cy="1336" r="3.7"/><circle cy="1319" r="3.7"/><circle cy="1335" r="3.7"/><circle cy="1344" r="3.7"/><circle cy="1345" r="3.7"/><circle cy="1346" r="3.7"/></g><g transform="translate(173.3)"><circle cy="1365" r="3.7"/><circle cy="1339" r="3.7"/><circle cy="1315" r="3.7"/><circle cy="1346" r="3.7"/><circle cy="1322" r="3.7"/><circle cy="1360" r="3.7"/><circle cy="1314" r="3.7"/><circle cy="1338" r="3.7"/><circle cy="1347" r="3.7"/><circle cy="1352" r="3.7"/><circle cy="1308" r="3.7"/><circle cy="1373" r="3.7"/><circle cy="1370" r="3.7"/><circle cy="1363" r="3.7"/><circle cy="1316" r="3.7"/><circle cy="1310" r="3.7"/><circle cy="1374" r="3.7"/><circle cy="1331" r="3.7"/><circle cy="1350" r="3.7"/><circle cy="1371" r="3.7"/><circle cy="1376" r="3.7"/><circle cy="1340" r="3.7"/><circle cy="1325" r="3.7"/><circle cy="1356" r="3.7"/><circle cy="1328" r="3.7"/><circle cy="1320" r="3.7"/><circle cy="1341" r="3.7"/><circle cy="1355" r="3.7"/><circle cy="1319" r="3.7"/><circle cy="1327" r="3.7"/><circle cy="1351" r="3.7"/><circle cy="1357" r="3.7"/><circle cy="1323" r="3.7"/><circle cy="1343" r="3.7"/><circle cy="1344" r="3.7"/><circle cy="1280" r="3.7"/><circle cy="1288" r="3.7"/></g><g transform="translate(181.6)"><circle cy="1325" r="3.7"/><circle cy="1321" r="3.7"/><circle cy="1346" r="3.7"/><circle cy="1358" r="3.7"/><circle cy="1328" r="3.7"/><circle cy="1363" r="3.7"/><circle cy="1369" r="3.7"/><circle cy="1353" r="3.7"/><circle cy="1366" r="3.7"/><circle cy="1324" r="3.7"/><circle cy="1367" r="3.7"/><circle cy="1326" r="3.7"/><circle cy="1362" r="3.7"/><circle cy="1337" r="3.7"/><circle cy="1335" r="3.7"/><circle cy="1365" r="3.7"/><circle cy="1318" r="3.7"/><circle cy="1315" r="3.7"/><circle cy="1323" r="3.7"/><circle cy="1320" r="3.7"/><circle cy="1340" r="3.7"/><circle cy="1313" r="3.7"/><circle cy="1360" r="3.7"/><circle cy="1336" r="3.7"/><circle cy="1344" r="3.7"/><circle cy="1368" r="3.7"/><circle cy="1316" r="3.7"/><circle cy="1372" r="3.7"/><circle cy="1352" r="3.7"/><circle cy="1342" r="3.7"/><circle cy="1354" r="3.7"/><circle cy="1341" r="3.7"/><circle cy="1370" r="3.7"/><circle cy="1350" r="3.7"/><circle cy="1312" r="3.7"/><circle cy="1349" r="3.7"/><circle cy="1339" r="3.7"/></g><g transform="translate(190)"><circle cy="1339" r="3.7"/><circle cy="1315" r="3.7"/><circle cy="1308" r="3.7"/><circle cy="1332" r="3.7"/><circle cy="1353" r="3.7"/><circle cy="1326" r="3.7"/><circle cy="1348" r="3.7"/><circle cy="1335" r="3.7"/><circle cy="1352" r="3.7"/><circle cy="1305" r="3.7"/><circle cy="1298" r="3.7"/><circle cy="1350" r="3.7"/><circle cy="1351" r="3.7"/><circle cy="1333" r="3.7"/><circle cy="1325" r="3.7"/><circle cy="1336" r="3.7"/><circle cy="1349" r="3.7"/><circle cy="1344" r="3.7"/><circle cy="1345" r="3.7"/><circle cy="1316" r="3.7"/><circle cy="1313" r="3.7"/><circle cy="1360" r="3.7"/><circle cy="1378" r="3.7"/><circle cy="1362" r="3.7"/><circle cy="1318" r="3.7"/><circle cy="1329" r="3.7"/><circle cy="1322" r="3.7"/><circle cy="1307" r="3.7"/><circle cy="1368" r="3.7"/><circle cy="1364" r="3.7"/><circle cy="1343" r="3.7"/><circle cy="1369" r="3.7"/><circle cy="1320" r="3.7"/><circle cy="1304" r="3.7"/><circle cy="1346" r="3.7"/><circle cy="1337" r="3.7"/><circle cy="1367" r="3.7"/></g><g transform="translate(198.3)"><circle cy="1303" r="3.7"/><circle cy="1329" r="3.7"/><circle cy="1343" r="3.7"/><circle cy="1317" r="3.7"/><circle cy="1302" r="3.7"/><circle cy="1372" r="3.7"/><circle cy="1338" r="3.7"/><circle cy="1310" r="3.7"/><circle cy="1369" r="3.7"/><circle cy="1323" r="3.7"/><circle cy="1367" r="3.7"/><circle cy="1337" r="3.7"/><circle cy="1315" r="3.7"/><circle cy="1325" r="3.7"/><circle cy="1318" r="3.7"/><circle cy="1361" r="3.7"/><circle cy="1328" r="3.7"/><circle cy="1336" r="3.7"/><circle cy="1377" r="3.7"/><circle cy="1350" r="3.7"/><circle cy="1339" r="3.7"/><circle cy="1341" r="3.7"/><circle cy="1311" r="3.7"/><circle cy="1316" r="3.7"/><circle cy="1366" r="3.7"/><circle cy="1340" r="3.7"/><circle cy="1327" r="3.7"/><circle cy="1358" r="3.7"/><circle cy="1345" r="3.7"/><circle cy="1335" r="3.7"/><circle cy="1319" r="3.7"/><circle cy="1360" r="3.7"/><circle cy="1305" r="3.7"/><circle cy="1355" r="3.7"/><circle cy="1331" r="3.7"/><circle cy="1314" r="3.7"/><circle cy="1333" r="3.7"/><circle cy="1368" r="3.7"/></g><g transform="translate(206.7)"><circle cy="1323" r="3.7"/><circle cy="1301" r="3.7"/><circle cy="1369" r="3.7"/><circle cy="1315" r="3.7"/><circle cy="1361" r="3.7"/><circle cy="1314" r="3.7"/><circle cy="1370" r="3.7"/><circle cy="1341" r="3.7"/><circle cy="1335" r="3.7"/><circle cy="1376" r="3.7"/><circle cy="1318" r="3.7"/><circle cy="1297" r="3.7"/><circle cy="1328" r="3.7"/><circle cy="1326" r="3.7"/><circle cy="1299" r="3.7"/><circle cy="1320" r="3.7"/><circle cy="1365" r="3.7"/><circle cy="1333" r="3.7"/><circle cy="1360" r="3.7"/><circle cy="1349" r="3.7"/><circle cy="1331" r="3.7"/><circle cy="1363" r="3.7"/><circle cy="1327" r="3.7"/><circle cy="1348" r="3.7"/><circle cy="1357" r="3.7"/><circle cy="1312" r="3.7"/><circle cy="1337" r="3.7"/><circle cy="1317" r="3.7"/><circle cy="1355" r="3.7"/><circle cy="1344" r="3.7"/><circle cy="1332" r="3.7"/><circle cy="1343" r="3.7"/><circle cy="1330" r="3.7"/><circle cy="1368" r="3.7"/><circle cy="1364" r="3.7"/><circle cy="1298" r="3.7"/><circle cy="1294" r="3.7"/><circle cy="1366" r="3.7"/><circle cy="1371" r="3.7"/><circle cy="1350" r="3.7"/></g><g transform="translate(215)"><circle cy="1354" r="3.7"/><circle cy="1366" r="3.7"/><circle cy="1378" r="3.7"/><circle cy="1370" r="3.7"/><circle cy="1298" r="3.7"/><circle cy="1367" r="3.7"/><circle cy="1358" r="3.7"/><circle cy="1287" r="3.7"/><circle cy="1352" r="3.7"/><circle cy="1307" r="3.7"/><circle cy="1364" r="3.7"/><circle cy="1328" r="3.7"/><circle cy="1369" r="3.7"/><circle cy="1343" r="3.7"/><circle cy="1299" r="3.7"/><circle cy="1320" r="3.7"/><circle cy="1293" r="3.7"/><circle cy="1330" r="3.7"/><circle cy="1316" r="3.7"/><circle cy="1321" r="3.7"/><circle cy="1363" r="3.7"/><circle cy="1315" r="3.7"/><circle cy="1289" r="3.7"/><circle cy="1310" r="3.7"/><circle cy="1333" r="3.7"/><circle cy="1305" r="3.7"/><circle cy="1353" r="3.7"/><circle cy="1337" r="3.7"/><circle cy="1361" r="3.7"/><circle cy="1301" r="3.7"/><circle cy="1304" r="3.7"/><circle cy="1322" r="3.7"/><circle cy="1341" r="3.7"/><circle cy="1365" r="3.7"/><circle cy="1309" r="3.7"/><circle cy="1390" r="3.7"/></g><g transform="translate(223.3)"><circle cy="1348" r="3.7"/><circle cy="1361" r="3.7"/><circle cy="1334" r="3.7"/><circle cy="1288" r="3.7"/><circle cy="1354" r="3.7"/><circle cy="1282" r="3.7"/><circle cy="1321" r="3.7"/><circle cy="1318" r="3.7"/><circle cy="1292" r="3.7"/><circle cy="1294" r="3.7"/><circle cy="1323" r="3.7"/><circle cy="1300" r="3.7"/><circle cy="1309" r="3.7"/><circle cy="1336" r="3.7"/><circle cy="1312" r="3.7"/><circle cy="1355" r="3.7"/><circle cy="1351" r="3.7"/><circle cy="1302" r="3.7"/><circle cy="1345" r="3.7"/><circle cy="1303" r="3.7"/><circle cy="1375" r="3.7"/><circle cy="1324" r="3.7"/><circle cy="1283" r="3.7"/><circle cy="1347" r="3.7"/><circle cy="1357" r="3.7"/><circle cy="1319" r="3.7"/><circle cy="1297" r="3.7"/><circle cy="1325" r="3.7"/><circle cy="1310" r="3.7"/><circle cy="1286" r="3.7"/><circle cy="1307" r="3.7"/><circle cy="1370" r="3.7"/><circle cy="1293" r="3.7"/><circle cy="1304" r="3.7"/><circle cy="1353" r="3.7"/><circle cy="1316" r="3.7"/><circle cy="1313" r="3.7"/><circle cy="1333" r="3.7"/><circle cy="1328" r="3.7"/><circle cy="1306" r="3.7"/><circle cy="1388" r="3.7"/></g><g transform="translate(231.7)"><circle cy="1331" r="3.7"/><circle cy="1368" r="3.7"/><circle cy="1332" r="3.7"/><circle cy="1302" r="3.7"/><circle cy="1357" r="3.7"/><circle cy="1306" r="3.7"/><circle cy="1327" r="3.7"/><circle cy="1353" r="3.7"/><circle cy="1318" r="3.7"/><circle cy="1317" r="3.7"/><circle cy="1351" r="3.7"/><circle cy="1370" r="3.7"/><circle cy="1350" r="3.7"/><circle cy="1356" r="3.7"/><circle cy="1307" r="3.7"/><circle cy="1315" r="3.7"/><circle cy="1314" r="3.7"/><circle cy="1371" r="3.7"/><circle cy="1358" r="3.7"/><circle cy="1321" r="3.7"/><circle cy="1326" r="3.7"/><circle cy="1345" r="3.7"/><circle cy="1310" r="3.7"/><circle cy="1319" r="3.7"/><circle cy="1316" r="3.7"/><circle cy="1305" r="3.7"/><circle cy="1340" r="3.7"/><circle cy="1349" r="3.7"/><circle cy="1328" r="3.7"/><circle cy="1367" r="3.7"/><circle cy="1359" r="3.7"/><circle cy="1336" r="3.7"/><circle cy="1330" r="3.7"/><circle cy="1341" r="3.7"/><circle cy="1346" r="3.7"/><circle cy="1360" r="3.7"/><circle cy="1312" r="3.7"/><circle cy="1344" r="3.7"/></g><g transform="translate(240)"><circle cy="1320" r="3.7"/><circle cy="1344" r="3.7"/><circle cy="1339" r="3.7"/><circle cy="1334" r="3.7"/><circle cy="1357" r="3.7"/><circle cy="1347" r="3.7"/><circle cy="1304" r="3.7"/><circle cy="1319" r="3.7"/><circle cy="1287" r="3.7"/><circle cy="1308" r="3.7"/><circle cy="1301" r="3.7"/><circle cy="1362" r="3.7"/><circle cy="1352" r="3.7"/><circle cy="1316" r="3.7"/><circle cy="1325" r="3.7"/><circle cy="1343" r="3.7"/><circle cy="1312" r="3.7"/><circle cy="1322" r="3.7"/><circle cy="1309" r="3.7"/><circle cy="1302" r="3.7"/><circle cy="1354" r="3.7"/><circle cy="1318" r="3.7"/><circle cy="1290" r="3.7"/><circle cy="1356" r="3.7"/><circle cy="1349" r="3.7"/><circle cy="1311" r="3.7"/><circle cy="1314" r="3.7"/><circle cy="1359" r="3.7"/><circle cy="1307" r="3.7"/><circle cy="1350" r="3.7"/><circle cy="1368" r="3.7"/><circle cy="1338" r="3.7"/><circle cy="1284" r="3.7"/><circle cy="1323" r="3.7"/><circle cy="1317" r="3.7"/><circle cy="1211" r="3.7"/></g><g transform="translate(248.4)"><circle cy="1336" r="3.7"/><circle cy="1362" r="3.7"/><circle cy="1337" r="3.7"/><circle cy="1304" r="3.7"/><circle cy="1371" r="3.7"/><circle cy="1339" r="3.7"/><circle cy="1340" r="3.7"/><circle cy="1299" r="3.7"/><circle cy="1364" r="3.7"/><circle cy="1355" r="3.7"/><circle cy="1319" r="3.7"/><circle cy="1314" r="3.7"/><circle cy="1312" r="3.7"/><circle cy="1350" r="3.7"/><circle cy="1338" r="3.7"/><circle cy="1346" r="3.7"/><circle cy="1344" r="3.7"/><circle cy="1356" r="3.7"/><circle cy="1323" r="3.7"/><circle cy="1369" r="3.7"/><circle cy="1301" r="3.7"/><circle cy="1328" r="3.7"/><circle cy="1330" r="3.7"/><circle cy="1322" r="3.7"/><circle cy="1334" r="3.7"/><circle cy="1326" r="3.7"/><circle cy="1307" r="3.7"/><circle cy="1341" r="3.7"/><circle cy="1366" r="3.7"/><circle cy="1315" r="3.7"/><circle cy="1358" r="3.7"/><circle cy="1311" r="3.7"/><circle cy="1306" r="3.7"/><circle cy="1325" r="3.7"/></g><g transform="translate(256.7)"><circle cy="1300" r="3.7"/><circle cy="1328" r="3.7"/><circle cy="1351" r="3.7"/><circle cy="1340" r="3.7"/><circle cy="1313" r="3.7"/><circle cy="1339" r="3.7"/><circle cy="1349" r="3.7"/><circle cy="1361" r="3.7"/><circle cy="1333" r="3.7"/><circle cy="1343" r="3.7"/><circle cy="1317" r="3.7"/><circle cy="1330" r="3.7"/><circle cy="1318" r="3.7"/><circle cy="1360" r="3.7"/><circle cy="1314" r="3.7"/><circle cy="1324" r="3.7"/><circle cy="1302" r="3.7"/><circle cy="1320" r="3.7"/><circle cy="1350" r="3.7"/><circle cy="1359" r="3.7"/><circle cy="1312" r="3.7"/><circle cy="1347" r="3.7"/><circle cy="1363" r="3.7"/><circle cy="1304" r="3.7"/><circle cy="1337" r="3.7"/><circle cy="1316" r="3.7"/><circle cy="1308" r="3.7"/><circle cy="1326" r="3.7"/><circle cy="1341" r="3.7"/><circle cy="1306" r="3.7"/></g><g transform="translate(265.1)"><circle cy="1319" r="3.7"/><circle cy="1301" r="3.7"/><circle cy="1338" r="3.7"/><circle cy="1336" r="3.7"/><circle cy="1293" r="3.7"/><circle cy="1282" r="3.7"/><circle cy="1294" r="3.7"/><circle cy="1297" r="3.7"/><circle cy="1290" r="3.7"/><circle cy="1287" r="3.7"/><circle cy="1292" r="3.7"/><circle cy="1291" r="3.7"/><circle cy="1278" r="3.7"/><circle cy="1310" r="3.7"/><circle cy="1330" r="3.7"/><circle cy="1300" r="3.7"/><circle cy="1354" r="3.7"/><circle cy="1353" r="3.7"/><circle cy="1305" r="3.7"/><circle cy="1343" r="3.7"/><circle cy="1340" r="3.7"/><circle cy="1321" r="3.7"/><circle cy="1350" r="3.7"/><circle cy="1332" r="3.7"/><circle cy="1314" r="3.7"/><circle cy="1308" r="3.7"/><circle cy="1392" r="3.7"/></g><g transform="translate(273.4)"><circle cy="1310" r="3.7"/><circle cy="1343" r="3.7"/><circle cy="1284" r="3.7"/><circle cy="1277" r="3.7"/><circle cy="1322" r="3.7"/><circle cy="1312" r="3.7"/><circle cy="1318" r="3.7"/><circle cy="1354" r="3.7"/><circle cy="1350" r="3.7"/><circle cy="1324" r="3.7"/><circle cy="1285" r="3.7"/><circle cy="1349" r="3.7"/><circle cy="1353" r="3.7"/><circle cy="1342" r="3.7"/><circle cy="1315" r="3.7"/><circle cy="1296" r="3.7"/><circle cy="1347" r="3.7"/><circle cy="1325" r="3.7"/><circle cy="1335" r="3.7"/><circle cy="1345" r="3.7"/><circle cy="1356" r="3.7"/><circle cy="1319" r="3.7"/><circle cy="1355" r="3.7"/><circle cy="1314" r="3.7"/><circle cy="1299" r="3.7"/><circle cy="1330" r="3.7"/><circle cy="1297" r="3.7"/><circle cy="1313" r="3.7"/><circle cy="1317" r="3.7"/><circle cy="1311" r="3.7"/><circle cy="1376" r="3.7"/></g><g transform="translate(281.7)"><circle cy="1330" r="3.7"/><circle cy="1286" r="3.7"/><circle cy="1360" r="3.7"/><circle cy="1290" r="3.7"/><circle cy="1335" r="3.7"/><circle cy="1307" r="3.7"/><circle cy="1331" r="3.7"/><circle cy="1293" r="3.7"/><circle cy="1314" r="3.7"/><circle cy="1359" r="3.7"/><circle cy="1361" r="3.7"/><circle cy="1282" r="3.7"/><circle cy="1326" r="3.7"/><circle cy="1342" r="3.7"/><circle cy="1351" r="3.7"/><circle cy="1306" r="3.7"/><circle cy="1347" r="3.7"/><circle cy="1287" r="3.7"/><circle cy="1280" r="3.7"/><circle cy="1324" r="3.7"/><circle cy="1299" r="3.7"/><circle cy="1294" r="3.7"/><circle cy="1339" r="3.7"/><circle cy="1313" r="3.7"/><circle cy="1301" r="3.7"/><circle cy="1295" r="3.7"/><circle cy="1308" r="3.7"/><circle cy="1317" r="3.7"/><circle cy="1279" r="3.7"/></g><g transform="translate(290.1)"><circle cy="1319" r="3.7"/><circle cy="1320" r="3.7"/><circle cy="1331" r="3.7"/><circle cy="1361" r="3.7"/><circle cy="1343" r="3.7"/><circle cy="1293" r="3.7"/><circle cy="1333" r="3.7"/><circle cy="1280" r="3.7"/><circle cy="1348" r="3.7"/><circle cy="1354" r="3.7"/><circle cy="1339" r="3.7"/><circle cy="1299" r="3.7"/><circle cy="1337" r="3.7"/><circle cy="1334" r="3.7"/><circle cy="1313" r="3.7"/><circle cy="1335" r="3.7"/><circle cy="1279" r="3.7"/><circle cy="1287" r="3.7"/><circle cy="1326" r="3.7"/><circle cy="1327" r="3.7"/><circle cy="1298" r="3.7"/><circle cy="1315" r="3.7"/><circle cy="1314" r="3.7"/><circle cy="1347" r="3.7"/><circle cy="1316" r="3.7"/><circle cy="1286" r="3.7"/><circle cy="1324" r="3.7"/><circle cy="1345" r="3.7"/></g><g transform="translate(298.4)"><circle cy="1291" r="3.7"/><circle cy="1321" r="3.7"/><circle cy="1320" r="3.7"/><circle cy="1279" r="3.7"/><circle cy="1301" r="3.7"/><circle cy="1284" r="3.7"/><circle cy="1337" r="3.7"/><circle cy="1262" r="3.7"/><circle cy="1259" r="3.7"/><circle cy="1346" r="3.7"/><circle cy="1256" r="3.7"/><circle cy="1361" r="3.7"/><circle cy="1261" r="3.7"/><circle cy="1305" r="3.7"/><circle cy="1265" r="3.7"/><circle cy="1360" r="3.7"/><circle cy="1329" r="3.7"/><circle cy="1350" r="3.7"/><circle cy="1298" r="3.7"/><circle cy="1330" r="3.7"/><circle cy="1343" r="3.7"/><circle cy="1254" r="3.7"/><circle cy="1352" r="3.7"/><circle cy="1357" r="3.7"/><circle cy="1255" r="3.7"/></g><g transform="translate(306.8)"><circle cy="1233" r="3.7"/><circle cy="1271" r="3.7"/><circle cy="1355" r="3.7"/><circle cy="1305" r="3.7"/><circle cy="1306" r="3.7"/><circle cy="1332" r="3.7"/><circle cy="1314" r="3.7"/><circle cy="1315" r="3.7"/><circle cy="1326" r="3.7"/><circle cy="1325" r="3.7"/><circle cy="1334" r="3.7"/><circle cy="1235" r="3.7"/><circle cy="1227" r="3.7"/><circle cy="1277" r="3.7"/><circle cy="1283" r="3.7"/><circle cy="1225" r="3.7"/><circle cy="1297" r="3.7"/><circle cy="1322" r="3.7"/><circle cy="1331" r="3.7"/><circle cy="1281" r="3.7"/><circle cy="1247" r="3.7"/><circle cy="1217" r="3.7"/><circle cy="1209" r="3.7"/><circle cy="1214" r="3.7"/></g><g transform="translate(315.1)"><circle cy="1349" r="3.7"/><circle cy="1242" r="3.7"/><circle cy="1254" r="3.7"/><circle cy="1282" r="3.7"/><circle cy="1307" r="3.7"/><circle cy="1295" r="3.7"/><circle cy="1316" r="3.7"/><circle cy="1251" r="3.7"/><circle cy="1285" r="3.7"/><circle cy="1258" r="3.7"/><circle cy="1328" r="3.7"/><circle cy="1329" r="3.7"/><circle cy="1310" r="3.7"/><circle cy="1268" r="3.7"/><circle cy="1314" r="3.7"/><circle cy="1298" r="3.7"/><circle cy="1362" r="3.7"/><circle cy="1235" r="3.7"/><circle cy="1272" r="3.7"/><circle cy="1277" r="3.7"/><circle cy="1309" r="3.7"/><circle cy="1233" r="3.7"/><circle cy="1355" r="3.7"/><circle cy="1145" r="3.7"/></g><g transform="translate(323.5)"><circle cy="1302" r="3.7"/><circle cy="1273" r="3.7"/><circle cy="1332" r="3.7"/><circle cy="1310" r="3.7"/><circle cy="1315" r="3.7"/><circle cy="1269" r="3.7"/><circle cy="1334" r="3.7"/><circle cy="1256" r="3.7"/><circle cy="1308" r="3.7"/><circle cy="1276" r="3.7"/><circle cy="1306" r="3.7"/><circle cy="1280" r="3.7"/><circle cy="1326" r="3.7"/><circle cy="1358" r="3.7"/><circle cy="1289" r="3.7"/><circle cy="1325" r="3.7"/><circle cy="1360" r="3.7"/><circle cy="1293" r="3.7"/></g><g transform="translate(331.8)"><circle cy="1307" r="3.7"/><circle cy="1344" r="3.7"/><circle cy="1310" r="3.7"/><circle cy="1303" r="3.7"/><circle cy="1297" r="3.7"/><circle cy="1325" r="3.7"/><circle cy="1357" r="3.7"/><circle cy="1289" r="3.7"/><circle cy="1300" r="3.7"/><circle cy="1333" r="3.7"/><circle cy="1316" r="3.7"/><circle cy="1332" r="3.7"/><circle cy="1278" r="3.7"/><circle cy="1313" r="3.7"/><circle cy="1247" r="3.7"/><circle cy="1243" r="3.7"/><circle cy="1279" r="3.7"/><circle cy="1299" r="3.7"/><circle cy="1335" r="3.7"/><circle cy="1293" r="3.7"/><circle cy="1147" r="3.7"/></g><g transform="translate(340.1)"><circle cy="1327" r="3.7"/><circle cy="1283" r="3.7"/><circle cy="1301" r="3.7"/><circle cy="1370" r="3.7"/><circle cy="1338" r="3.7"/><circle cy="1314" r="3.7"/><circle cy="1272" r="3.7"/><circle cy="1287" r="3.7"/><circle cy="1340" r="3.7"/><circle cy="1339" r="3.7"/><circle cy="1294" r="3.7"/><circle cy="1253" r="3.7"/><circle cy="1264" r="3.7"/><circle cy="1333" r="3.7"/><circle cy="1275" r="3.7"/><circle cy="1322" r="3.7"/><circle cy="1270" r="3.7"/><circle cy="1278" r="3.7"/><circle cy="1368" r="3.7"/><circle cy="1319" r="3.7"/><circle cy="1126" r="3.7"/></g><g transform="translate(348.5)"><circle cy="1349" r="3.7"/><circle cy="1309" r="3.7"/><circle cy="1281" r="3.7"/><circle cy="1243" r="3.7"/><circle cy="1266" r="3.7"/><circle cy="1323" r="3.7"/><circle cy="1313" r="3.7"/><circle cy="1326" r="3.7"/><circle cy="1258" r="3.7"/><circle cy="1260" r="3.7"/><circle cy="1298" r="3.7"/><circle cy="1276" r="3.7"/><circle cy="1297" r="3.7"/><circle cy="1334" r="3.7"/><circle cy="1303" r="3.7"/><circle cy="1299" r="3.7"/><circle cy="1338" r="3.7"/><circle cy="1328" r="3.7"/></g><g transform="translate(356.8)"><circle cy="1279" r="3.7"/><circle cy="1325" r="3.7"/><circle cy="1316" r="3.7"/><circle cy="1301" r="3.7"/><circle cy="1217" r="3.7"/><circle cy="1337" r="3.7"/><circle cy="1238" r="3.7"/><circle cy="1363" r="3.7"/><circle cy="1242" r="3.7"/><circle cy="1345" r="3.7"/><circle cy="1308" r="3.7"/><circle cy="1343" r="3.7"/><circle cy="1298" r="3.7"/><circle cy="1324" r="3.7"/><circle cy="1289" r="3.7"/><circle cy="1270" r="3.7"/><circle cy="1310" r="3.7"/></g><g transform="translate(365.2)"><circle cy="1292" r="3.7"/><circle cy="1281" r="3.7"/><circle cy="1298" r="3.7"/><circle cy="1280" r="3.7"/><circle cy="1344" r="3.7"/><circle cy="1358" r="3.7"/><circle cy="1287" r="3.7"/><circle cy="1345" r="3.7"/><circle cy="1294" r="3.7"/><circle cy="1361" r="3.7"/><circle cy="1212" r="3.7"/><circle cy="1266" r="3.7"/><circle cy="1228" r="3.7"/></g><g transform="translate(373.5)"><circle cy="1300" r="3.7"/><circle cy="1354" r="3.7"/><circle cy="1289" r="3.7"/><circle cy="1304" r="3.7"/><circle cy="1284" r="3.7"/><circle cy="1258" r="3.7"/><circle cy="1307" r="3.7"/><circle cy="1323" r="3.7"/><circle cy="1345" r="3.7"/><circle cy="1253" r="3.7"/><circle cy="1288" r="3.7"/><circle cy="1337" r="3.7"/><circle cy="1297" r="3.7"/><circle cy="1281" r="3.7"/><circle cy="1311" r="3.7"/><circle cy="1113" r="3.7"/><circle cy="1114" r="3.7"/></g><g transform="translate(381.8)"><circle cy="1242" r="3.7"/><circle cy="1259" r="3.7"/><circle cy="1319" r="3.7"/><circle cy="1358" r="3.7"/><circle cy="1279" r="3.7"/><circle cy="1248" r="3.7"/><circle cy="1240" r="3.7"/><circle cy="1289" r="3.7"/><circle cy="1264" r="3.7"/><circle cy="1283" r="3.7"/><circle cy="1314" r="3.7"/><circle cy="1299" r="3.7"/><circle cy="1347" r="3.7"/></g><g transform="translate(390.2)"><circle cy="1274" r="3.7"/><circle cy="1341" r="3.7"/><circle cy="1224" r="3.7"/><circle cy="1233" r="3.7"/><circle cy="1340" r="3.7"/><circle cy="1329" r="3.7"/><circle cy="1195" r="3.7"/><circle cy="1311" r="3.7"/><circle cy="1259" r="3.7"/><circle cy="1308" r="3.7"/><circle cy="1364" r="3.7"/></g><g transform="translate(398.5)"><circle cy="1252" r="3.7"/><circle cy="1351" r="3.7"/><circle cy="1279" r="3.7"/><circle cy="1212" r="3.7"/><circle cy="1173" r="3.7"/><circle cy="1220" r="3.7"/><circle cy="1294" r="3.7"/><circle cy="1268" r="3.7"/><circle cy="1243" r="3.7"/><circle cy="1176" r="3.7"/></g><g transform="translate(406.9)"><circle cy="1242" r="3.7"/><circle cy="1320" r="3.7"/><circle cy="1180" r="3.7"/><circle cy="1346" r="3.7"/><circle cy="1308" r="3.7"/><circle cy="1239" r="3.7"/><circle cy="1353" r="3.7"/><circle cy="1182" r="3.7"/></g><g transform="translate(415.2)"><circle cy="1244" r="3.7"/><circle cy="1193" r="3.7"/><circle cy="1240" r="3.7"/></g><g transform="translate(423.6)"><circle cy="1325" r="3.7"/></g><g transform="translate(431.9)"><circle cy="1293" r="3.7"/><circle cy="1303" r="3.7"/></g><g transform="translate(448.6)"><circle cy="1222" r="3.7"/></g><g transform="translate(440.2)"><circle cy="1234" r="3.7"/><circle cy="1289" r="3.7"/></g><g transform="translate(465.3)"><circle cy="1259" r="3.7"/></g><g transform="translate(473.6)"><circle cy="1266" r="3.7"/></g><g transform="translate(481.9)"><circle cy="1265" r="3.7"/></g><g transform="translate(507)"><circle cy="1249" r="3.7"/></g></g>
<path class="kl" d="M114.9 1345.3L533 1247.8"/>
<path class="bl" d="M114.9 1339.2L533 1249.3"/>
<path class="rl" d="M114.9 1361.8L533 1245.8"/>
<path class="ax" d="M114.9 1026.1V1447.3H532M532 1026.1V1447.3M114.9 1030.2H532"/>
<path class="tk" d="M114.9 1447.3h-4.5M532 1447.3h4.5M114.9 1405.6h-2.5M532 1405.6h2.5M114.9 1363.9h-4.5M532 1363.9h4.5M114.9 1322.2h-2.5M532 1322.2h2.5M114.9 1280.5h-4.5M532 1280.5h4.5M114.9 1238.8h-2.5M532 1238.8h2.5M114.9 1197h-4.5M532 1197h4.5M114.9 1155.3h-2.5M532 1155.3h2.5M114.9 1113.6h-4.5M532 1113.6h4.5M114.9 1071.9h-2.5M532 1071.9h2.5M114.9 1030.2h-4.5M532 1030.2h4.5M114.9 1447.3v4.5M114.9 1030.2v-4.5M156.6 1447.3v2.5M156.6 1030.2v-2.5M198.3 1447.3v4.5M198.3 1030.2v-4.5M240 1447.3v2.5M240 1030.2v-2.5M281.7 1447.3v4.5M281.7 1030.2v-4.5M323.5 1447.3v2.5M323.5 1030.2v-2.5M365.2 1447.3v4.5M365.2 1030.2v-4.5M406.9 1447.3v2.5M406.9 1030.2v-2.5M448.6 1447.3v4.5M448.6 1030.2v-4.5M490.3 1447.3v2.5M490.3 1030.2v-2.5M532 1447.3v4.5M532 1030.2v-4.5"/>
<text class="tl" x="103.5" y="1455.1" text-anchor="end">500</text>
<text class="tl" x="103.5" y="1371.7" text-anchor="end">1000</text>
<text class="tl" x="103.5" y="1288.3" text-anchor="end">1500</text>
<text class="tl" x="103.5" y="1204.8" text-anchor="end">2000</text>
<text class="tl" x="103.5" y="1121.4" text-anchor="end">2500</text>
<text class="tl" x="103.5" y="1038" text-anchor="end">3000</text>
<text class="tl" x="116.4" y="1475.4" text-anchor="middle">25</text>
<text class="tl" x="199.8" y="1475.4" text-anchor="middle">35</text>
<text class="tl" x="283.2" y="1475.4" text-anchor="middle">45</text>
<text class="tl" x="366.7" y="1475.4" text-anchor="middle">55</text>
<text class="tl" x="450.1" y="1475.4" text-anchor="middle">65</text>
<text class="tl" x="533.5" y="1475.4" text-anchor="middle">75</text>
<text class="xl" x="325" y="1500.7" text-anchor="middle">Age (year)</text>
<text class="pl" x="3" y="1036.3">(C)</text>
<text class="yl" style="font-size:22.5px" transform="translate(27 1230.4) rotate(-90)" text-anchor="middle">baPWV (cm/sec)</text>
<text class="lgb" x="558.7" y="1080.8">Whole:</text>
<text class="lg" x="558.7" y="1101.9">N = 7,868</text>
<text class="lg" x="558.7" y="1123">y = 11.9 x + 803</text>
<text class="lg" x="558.7" y="1144.1">r = 0.554</text>
<text class="lg" x="558.7" y="1165.2">P &lt; 0.0001</text>
<path d="M622.8 1074.2H669.1" stroke="#000" stroke-width="2.3" stroke-dasharray="6.45 1.6"/>
<text class="lgb" x="558.7" y="1207.6">Men:</text>
<text class="lg" x="558.7" y="1228.7">N = 6,683</text>
<text class="lg" x="558.7" y="1249.8">y = 11.0 x + 860</text>
<text class="lg" x="558.7" y="1270.9">r = 0.523</text>
<text class="lg" x="558.7" y="1292">P &lt; 0.0001</text>
<path d="M605.3 1200.9H652.4" stroke="#00f" stroke-width="2"/><circle cx="626.9" cy="1202.1" r="6.8" fill="none" stroke="#00f" stroke-width="2"/>
<text class="lgb" x="558.7" y="1334.4">Women:</text>
<text class="lg" x="558.7" y="1355.5">N = 1,185</text>
<text class="lg" x="558.7" y="1376.6">y = 14.2 x + 630</text>
<text class="lg" x="558.7" y="1397.7">r = 0.638</text>
<text class="lg" x="558.7" y="1418.8">P &lt; 0.0001</text>
<path d="M635.2 1328.9H682.1" stroke="#f00" stroke-width="2"/><circle cx="655.6" cy="1329.1" r="6.8" fill="none" stroke="#f00" stroke-width="2"/>
</g>

<rect x="419.9" y="539.2" width="94.7" height="37" fill="#fff" stroke="#333" stroke-width="1"/>
<circle cx="440.2" cy="549.3" r="5.2" fill="none" stroke="#00f" stroke-width="2"/>
<circle cx="440.2" cy="567.7" r="5.2" fill="none" stroke="#f00" stroke-width="2"/>
<text class="lgs" x="452.5" y="554.8">Man</text>
<text class="lgs" x="452.5" y="572.4">Woman</text>
<text class="lg" x="131.7" y="1058.5">N = 7,868</text>
<text class="lg" x="131.7" y="1079.3">y = 11.9 x + 803</text>
<text class="lg" x="131.7" y="1100.1">r = 0.554</text>
<text class="lg" x="131.7" y="1120.9">P &lt; 0.0001</text>

</svg></body></html>
